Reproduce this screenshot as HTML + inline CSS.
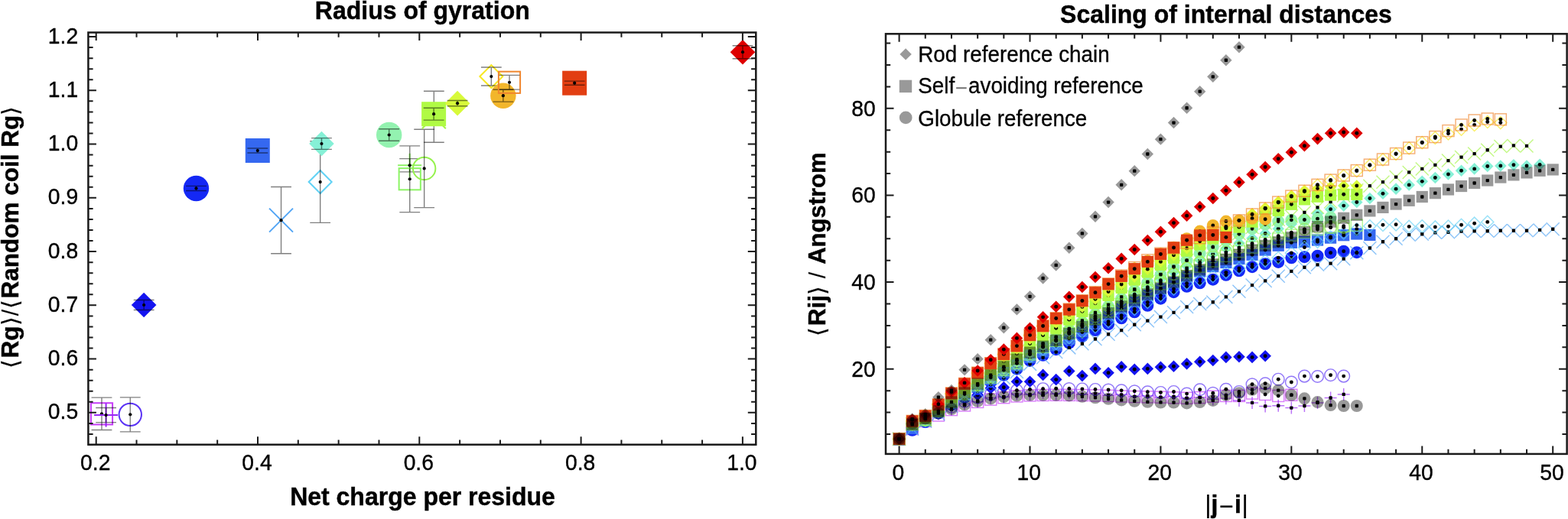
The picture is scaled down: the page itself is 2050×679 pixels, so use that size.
<!DOCTYPE html>
<html lang="en"><head><meta charset="utf-8"><title>Radius of gyration / Scaling of internal distances</title>
<style>
html,body{margin:0;padding:0;background:#fff;}
body{width:2050px;height:679px;overflow:hidden;}
svg{display:block;filter:blur(0.7px);}
text{font-family:"Liberation Sans", Arial, Helvetica, sans-serif;fill:#000;}
.tl{font-size:28.3px;stroke:#000;stroke-width:.35px;}
.bt{font-size:32px;font-weight:bold;stroke:#000;stroke-width:.45px;}
.lg{font-size:27.8px;stroke:#000;stroke-width:.3px;}
.fr{fill:none;stroke:#1a1a1a;stroke-width:2.5;}
.tk{fill:none;stroke:#1a1a1a;stroke-width:2.0;}
.eb{fill:none;stroke:#000;stroke-width:1.4;stroke-opacity:.5;}
.dt{fill:#000;}
.nb{font-weight:normal;stroke-width:.2px;}
.br{letter-spacing:1.2px;font-size:30px;}
</style></head><body>
<svg width="2050" height="679" viewBox="0 0 2050 679">
<rect width="2050" height="679" fill="#fff"/>
<g id="left">
<rect x="118.89" y="527.25" width="28.2" height="28.2" fill="none" stroke="#c53cf8" stroke-width="2.0"/>
<path class="eb" d="M132.99 520.15v42.4M119.59 520.15h26.8M119.59 562.55h26.8"/>
<circle class="dt" cx="132.99" cy="541.35" r="2.1"/>
<path d="M123.09 543.03h31M138.59 527.53v31" fill="none" stroke="#9628f5" stroke-width="2.0"/>
<path class="eb" d="M138.59 533.43v19.2M125.19 533.43h26.8M125.19 552.63h26.8"/>
<circle class="dt" cx="138.59" cy="543.03" r="2.1"/>
<circle cx="170.28" cy="542.33" r="14.7" fill="none" stroke="#5a32f5" stroke-width="2.0"/>
<path class="eb" d="M170.28 519.83v45M156.88 519.83h26.8M156.88 564.83h26.8"/>
<circle class="dt" cx="170.28" cy="542.33" r="2.1"/>
<path d="M171.84 399l16.3 -16.3l16.3 16.3l-16.3 16.3z" fill="#1414f0"/>
<path class="eb" d="M188.14 392.5v13M174.74 392.5h26.8M174.74 405.5h26.8"/>
<circle class="dt" cx="188.14" cy="399" r="2.1"/>
<circle cx="256.49" cy="246.46" r="16.7" fill="#1428f5"/>
<path class="eb" d="M256.49 243.36v6.2M243.09 243.36h26.8M243.09 249.56h26.8"/>
<circle class="dt" cx="256.49" cy="246.46" r="2.1"/>
<rect x="320.79" y="181" width="32" height="32" fill="#3568f0"/>
<path class="eb" d="M336.79 194v6M323.39 194h26.8M323.39 200h26.8"/>
<circle class="dt" cx="336.79" cy="197" r="2.1"/>
<path d="M352.03 272.63l31 31M352.03 303.63l31 -31" fill="none" stroke="#52a5f5" stroke-width="2.0"/>
<path class="eb" d="M367.53 244.53v87.2M354.13 244.53h26.8M354.13 331.73h26.8"/>
<circle class="dt" cx="367.53" cy="288.13" r="2.1"/>
<path d="M403.67 238.03l15 -15l15 15l-15 15z" fill="none" stroke="#62d2f5" stroke-width="2.0"/>
<path class="eb" d="M418.67 184.73v106.6M405.27 184.73h26.8M405.27 291.33h26.8"/>
<circle class="dt" cx="418.67" cy="238.03" r="2.1"/>
<path d="M404.16 188.01l16.3 -16.3l16.3 16.3l-16.3 16.3z" fill="#86f0d6"/>
<path class="eb" d="M420.46 180.61v14.8M407.06 180.61h26.8M407.06 195.41h26.8"/>
<circle class="dt" cx="420.46" cy="188.01" r="2.1"/>
<circle cx="508.68" cy="176.49" r="16.7" fill="#93f2b0"/>
<path class="eb" d="M508.68 168.79v15.4M495.28 168.79h26.8M495.28 184.19h26.8"/>
<circle class="dt" cx="508.68" cy="176.49" r="2.1"/>
<path d="M520.12 216.25h31M535.62 200.75v31" fill="none" stroke="#8ff268" stroke-width="2.0"/>
<path class="eb" d="M535.62 207.65v17.2M522.22 207.65h26.8M522.22 224.85h26.8"/>
<circle class="dt" cx="535.62" cy="216.25" r="2.1"/>
<rect x="521.63" y="220.14" width="28.2" height="28.2" fill="none" stroke="#8cf465" stroke-width="2.0"/>
<path class="eb" d="M535.73 190.84v86.8M522.33 190.84h26.8M522.33 277.64h26.8"/>
<circle class="dt" cx="535.73" cy="234.24" r="2.1"/>
<circle cx="554.64" cy="220.47" r="14.7" fill="none" stroke="#96f24e" stroke-width="2.0"/>
<path class="eb" d="M554.64 169.27v102.4M541.24 169.27h26.8M541.24 271.67h26.8"/>
<circle class="dt" cx="554.64" cy="220.47" r="2.1"/>
<path d="M551.82 137.24l31 31M551.82 168.24l31 -31" fill="none" stroke="#a4f446" stroke-width="2.0"/>
<path class="eb" d="M567.32 119.24v67M553.92 119.24h26.8M553.92 186.24h26.8"/>
<circle class="dt" cx="567.32" cy="152.74" r="2.1"/>
<rect x="551.11" y="133.22" width="32" height="32" fill="#b0fa44"/>
<path class="eb" d="M567.11 141.32v15.8M553.71 141.32h26.8M553.71 157.12h26.8"/>
<circle class="dt" cx="567.11" cy="149.22" r="2.1"/>
<path d="M581.76 135.17l16.3 -16.3l16.3 16.3l-16.3 16.3z" fill="#d8fa3a"/>
<path class="eb" d="M598.06 131.57v7.2M584.66 131.57h26.8M584.66 138.77h26.8"/>
<circle class="dt" cx="598.06" cy="135.17" r="2.1"/>
<path d="M627.33 100.04l15 -15l15 15l-15 15z" fill="none" stroke="#f8e822" stroke-width="2.0"/>
<path class="eb" d="M642.33 88.04v24M628.93 88.04h26.8M628.93 112.04h26.8"/>
<circle class="dt" cx="642.33" cy="100.04" r="2.1"/>
<circle cx="657.86" cy="125.2" r="16.7" fill="#f2b62c"/>
<path class="eb" d="M657.86 117.3v15.8M644.46 117.3h26.8M644.46 133.1h26.8"/>
<circle class="dt" cx="657.86" cy="125.2" r="2.1"/>
<rect x="651.89" y="93.67" width="28.2" height="28.2" fill="none" stroke="#f0862e" stroke-width="2.0"/>
<path class="eb" d="M665.99 98.37v18.8M652.59 98.37h26.8M652.59 117.17h26.8"/>
<circle class="dt" cx="665.99" cy="107.77" r="2.1"/>
<rect x="735.15" y="92.68" width="32" height="32" fill="#e23e12"/>
<path class="eb" d="M751.15 106.08v5.2M737.75 106.08h26.8M737.75 111.28h26.8"/>
<circle class="dt" cx="751.15" cy="108.68" r="2.1"/>
<path d="M954.71 68.21l16.3 -16.3l16.3 16.3l-16.3 16.3z" fill="#de0000"/>
<path class="eb" d="M971.01 59.71v17M957.61 59.71h26.8M957.61 76.71h26.8"/>
<circle class="dt" cx="971.01" cy="68.21" r="2.1"/>
<path class="tk" d="M125.7 581.7v-10.5M125.7 42.5v10.5M337 581.7v-10.5M337 42.5v10.5M548.3 581.7v-10.5M548.3 42.5v10.5M759.6 581.7v-10.5M759.6 42.5v10.5M970.9 581.7v-10.5M970.9 42.5v10.5M178.52 581.7v-6.2M178.52 42.5v6.2M231.35 581.7v-6.2M231.35 42.5v6.2M284.18 581.7v-6.2M284.18 42.5v6.2M389.82 581.7v-6.2M389.82 42.5v6.2M442.65 581.7v-6.2M442.65 42.5v6.2M495.48 581.7v-6.2M495.48 42.5v6.2M601.12 581.7v-6.2M601.12 42.5v6.2M653.95 581.7v-6.2M653.95 42.5v6.2M706.78 581.7v-6.2M706.78 42.5v6.2M812.43 581.7v-6.2M812.43 42.5v6.2M865.25 581.7v-6.2M865.25 42.5v6.2M918.08 581.7v-6.2M918.08 42.5v6.2M115.4 539.87h10.5M988.3 539.87h-10.5M115.4 469.61h10.5M988.3 469.61h-10.5M115.4 399.35h10.5M988.3 399.35h-10.5M115.4 329.09h10.5M988.3 329.09h-10.5M115.4 258.83h10.5M988.3 258.83h-10.5M115.4 188.57h10.5M988.3 188.57h-10.5M115.4 118.31h10.5M988.3 118.31h-10.5M115.4 48.05h10.5M988.3 48.05h-10.5M115.4 582.03h6.2M988.3 582.03h-6.2M115.4 567.97h6.2M988.3 567.97h-6.2M115.4 553.92h6.2M988.3 553.92h-6.2M115.4 525.82h6.2M988.3 525.82h-6.2M115.4 511.77h6.2M988.3 511.77h-6.2M115.4 497.71h6.2M988.3 497.71h-6.2M115.4 483.66h6.2M988.3 483.66h-6.2M115.4 455.56h6.2M988.3 455.56h-6.2M115.4 441.51h6.2M988.3 441.51h-6.2M115.4 427.45h6.2M988.3 427.45h-6.2M115.4 413.4h6.2M988.3 413.4h-6.2M115.4 385.3h6.2M988.3 385.3h-6.2M115.4 371.25h6.2M988.3 371.25h-6.2M115.4 357.19h6.2M988.3 357.19h-6.2M115.4 343.14h6.2M988.3 343.14h-6.2M115.4 315.04h6.2M988.3 315.04h-6.2M115.4 300.99h6.2M988.3 300.99h-6.2M115.4 286.93h6.2M988.3 286.93h-6.2M115.4 272.88h6.2M988.3 272.88h-6.2M115.4 244.78h6.2M988.3 244.78h-6.2M115.4 230.73h6.2M988.3 230.73h-6.2M115.4 216.67h6.2M988.3 216.67h-6.2M115.4 202.62h6.2M988.3 202.62h-6.2M115.4 174.52h6.2M988.3 174.52h-6.2M115.4 160.47h6.2M988.3 160.47h-6.2M115.4 146.41h6.2M988.3 146.41h-6.2M115.4 132.36h6.2M988.3 132.36h-6.2M115.4 104.26h6.2M988.3 104.26h-6.2M115.4 90.21h6.2M988.3 90.21h-6.2M115.4 76.15h6.2M988.3 76.15h-6.2M115.4 62.1h6.2M988.3 62.1h-6.2"/>
<rect class="fr" x="115.4" y="42.5" width="872.9" height="539.2"/>
<text class="tl" transform="translate(124.7 615.3) scale(1 1.05)" text-anchor="middle">0.2</text>
<text class="tl" transform="translate(336 615.3) scale(1 1.05)" text-anchor="middle">0.4</text>
<text class="tl" transform="translate(547.3 615.3) scale(1 1.05)" text-anchor="middle">0.6</text>
<text class="tl" transform="translate(758.6 615.3) scale(1 1.05)" text-anchor="middle">0.8</text>
<text class="tl" transform="translate(969.9 615.3) scale(1 1.05)" text-anchor="middle">1.0</text>
<text class="tl" transform="translate(102.2 548.47) scale(1 1.05)" text-anchor="end">0.5</text>
<text class="tl" transform="translate(102.2 478.21) scale(1 1.05)" text-anchor="end">0.6</text>
<text class="tl" transform="translate(102.2 407.95) scale(1 1.05)" text-anchor="end">0.7</text>
<text class="tl" transform="translate(102.2 337.69) scale(1 1.05)" text-anchor="end">0.8</text>
<text class="tl" transform="translate(102.2 267.43) scale(1 1.05)" text-anchor="end">0.9</text>
<text class="tl" transform="translate(102.2 197.17) scale(1 1.05)" text-anchor="end">1.0</text>
<text class="tl" transform="translate(102.2 126.91) scale(1 1.05)" text-anchor="end">1.1</text>
<text class="tl" transform="translate(102.2 56.65) scale(1 1.05)" text-anchor="end">1.2</text>
<text class="bt" transform="translate(552.3 24.8) scale(1 1.06)" text-anchor="middle">Radius of gyration</text>
<text class="bt" transform="translate(552.5 661.4) scale(1 1.06)" text-anchor="middle">Net charge per residue</text>
<text class="bt" style="font-size:31.5px" transform="translate(23.6 309.6) rotate(-90)" text-anchor="middle"><tspan class="nb br">⟨</tspan>Rg<tspan class="nb br">⟩/⟨</tspan>Random coil Rg<tspan class="nb br">⟩</tspan></text>
</g>
<g id="right">
<g><rect x="1168.1" y="566.7" width="15" height="15" fill="none" stroke="#c53cf8" stroke-width="1.45" opacity="0.66"/><circle class="dt" cx="1175.6" cy="574.2" r="2.45"/><rect x="1185.19" y="553.63" width="15" height="15" fill="none" stroke="#c53cf8" stroke-width="1.45" opacity="0.66"/><circle class="dt" cx="1192.69" cy="561.13" r="2.45"/><rect x="1202.28" y="543.4" width="15" height="15" fill="none" stroke="#c53cf8" stroke-width="1.45" opacity="0.66"/><circle class="dt" cx="1209.78" cy="550.9" r="2.45"/><rect x="1219.38" y="536.02" width="15" height="15" fill="none" stroke="#c53cf8" stroke-width="1.45" opacity="0.66"/><circle class="dt" cx="1226.88" cy="543.52" r="2.45"/><rect x="1236.47" y="528.63" width="15" height="15" fill="none" stroke="#c53cf8" stroke-width="1.45" opacity="0.66"/><circle class="dt" cx="1243.97" cy="536.13" r="2.45"/><rect x="1253.56" y="522.95" width="15" height="15" fill="none" stroke="#c53cf8" stroke-width="1.45" opacity="0.66"/><circle class="dt" cx="1261.06" cy="530.45" r="2.45"/><rect x="1270.65" y="518.41" width="15" height="15" fill="none" stroke="#c53cf8" stroke-width="1.45" opacity="0.66"/><circle class="dt" cx="1278.15" cy="525.91" r="2.45"/><rect x="1287.74" y="515.14" width="15" height="15" fill="none" stroke="#c53cf8" stroke-width="1.45" opacity="0.66"/><circle class="dt" cx="1295.24" cy="522.64" r="2.45"/><rect x="1304.84" y="512.72" width="15" height="15" fill="none" stroke="#c53cf8" stroke-width="1.45" opacity="0.66"/><circle class="dt" cx="1312.34" cy="520.22" r="2.45"/><rect x="1321.93" y="510.95" width="15" height="15" fill="none" stroke="#c53cf8" stroke-width="1.45" opacity="0.66"/><circle class="dt" cx="1329.43" cy="518.45" r="2.45"/><rect x="1339.02" y="509.88" width="15" height="15" fill="none" stroke="#c53cf8" stroke-width="1.45" opacity="0.66"/><circle class="dt" cx="1346.52" cy="517.38" r="2.45"/><rect x="1356.11" y="509.48" width="15" height="15" fill="none" stroke="#c53cf8" stroke-width="1.45" opacity="0.66"/><circle class="dt" cx="1363.61" cy="516.98" r="2.45"/><rect x="1373.2" y="509.31" width="15" height="15" fill="none" stroke="#c53cf8" stroke-width="1.45" opacity="0.66"/><circle class="dt" cx="1380.7" cy="516.81" r="2.45"/><rect x="1390.3" y="509.4" width="15" height="15" fill="none" stroke="#c53cf8" stroke-width="1.45" opacity="0.66"/><circle class="dt" cx="1397.8" cy="516.9" r="2.45"/><rect x="1407.39" y="509.61" width="15" height="15" fill="none" stroke="#c53cf8" stroke-width="1.45" opacity="0.66"/><circle class="dt" cx="1414.89" cy="517.11" r="2.45"/><rect x="1424.48" y="509.88" width="15" height="15" fill="none" stroke="#c53cf8" stroke-width="1.45" opacity="0.66"/><circle class="dt" cx="1431.98" cy="517.38" r="2.45"/><rect x="1441.57" y="510.37" width="15" height="15" fill="none" stroke="#c53cf8" stroke-width="1.45" opacity="0.66"/><circle class="dt" cx="1449.07" cy="517.87" r="2.45"/><rect x="1458.66" y="511.04" width="15" height="15" fill="none" stroke="#c53cf8" stroke-width="1.45" opacity="0.66"/><circle class="dt" cx="1466.16" cy="518.54" r="2.45"/><rect x="1475.76" y="511.59" width="15" height="15" fill="none" stroke="#c53cf8" stroke-width="1.45" opacity="0.66"/><circle class="dt" cx="1483.26" cy="519.09" r="2.45"/><rect x="1492.85" y="511.87" width="15" height="15" fill="none" stroke="#c53cf8" stroke-width="1.45" opacity="0.66"/><circle class="dt" cx="1500.35" cy="519.37" r="2.45"/><rect x="1509.94" y="512.16" width="15" height="15" fill="none" stroke="#c53cf8" stroke-width="1.45" opacity="0.66"/><circle class="dt" cx="1517.44" cy="519.66" r="2.45"/><rect x="1527.03" y="512.82" width="15" height="15" fill="none" stroke="#c53cf8" stroke-width="1.45" opacity="0.66"/><circle class="dt" cx="1534.53" cy="520.32" r="2.45"/><rect x="1544.12" y="513.29" width="15" height="15" fill="none" stroke="#c53cf8" stroke-width="1.45" opacity="0.66"/><circle class="dt" cx="1551.62" cy="520.79" r="2.45"/><rect x="1561.22" y="512.56" width="15" height="15" fill="none" stroke="#c53cf8" stroke-width="1.45" opacity="0.66"/><circle class="dt" cx="1568.72" cy="520.06" r="2.45"/><rect x="1578.31" y="511.19" width="15" height="15" fill="none" stroke="#c53cf8" stroke-width="1.45" opacity="0.66"/><circle class="dt" cx="1585.81" cy="518.69" r="2.45"/><rect x="1595.4" y="510.45" width="15" height="15" fill="none" stroke="#c53cf8" stroke-width="1.45" opacity="0.66"/><circle class="dt" cx="1602.9" cy="517.95" r="2.45"/><rect x="1612.49" y="510.45" width="15" height="15" fill="none" stroke="#c53cf8" stroke-width="1.45" opacity="0.66"/><circle class="dt" cx="1619.99" cy="517.95" r="2.45"/><rect x="1629.58" y="507.04" width="15" height="15" fill="none" stroke="#c53cf8" stroke-width="1.45" opacity="0.66"/><circle class="dt" cx="1637.08" cy="514.54" r="2.45"/><rect x="1646.68" y="508.46" width="15" height="15" fill="none" stroke="#c53cf8" stroke-width="1.45" opacity="0.66"/><circle class="dt" cx="1654.18" cy="515.96" r="2.45"/><rect x="1663.77" y="510.45" width="15" height="15" fill="none" stroke="#c53cf8" stroke-width="1.45" opacity="0.66"/><circle class="dt" cx="1671.27" cy="517.95" r="2.45"/><rect x="1680.86" y="509.31" width="15" height="15" fill="none" stroke="#c53cf8" stroke-width="1.45" opacity="0.66"/><circle class="dt" cx="1688.36" cy="516.81" r="2.45"/></g>
<g><path d="M1167.6 574.2h16M1175.6 566.2v16" fill="none" stroke="#9628f5" stroke-width="1.45" opacity="0.66"/><rect class="dt" x="1173.45" y="572.05" width="4.3" height="4.3" rx="0.9"/><path d="M1184.69 559.71h16M1192.69 551.71v16" fill="none" stroke="#9628f5" stroke-width="1.45" opacity="0.66"/><rect class="dt" x="1190.54" y="557.56" width="4.3" height="4.3" rx="0.9"/><path d="M1201.78 551.19h16M1209.78 543.19v16" fill="none" stroke="#9628f5" stroke-width="1.45" opacity="0.66"/><rect class="dt" x="1207.63" y="549.04" width="4.3" height="4.3" rx="0.9"/><path d="M1218.88 541.53h16M1226.88 533.53v16" fill="none" stroke="#9628f5" stroke-width="1.45" opacity="0.66"/><rect class="dt" x="1224.73" y="539.38" width="4.3" height="4.3" rx="0.9"/><path d="M1235.97 535.85h16M1243.97 527.85v16" fill="none" stroke="#9628f5" stroke-width="1.45" opacity="0.66"/><rect class="dt" x="1241.82" y="533.7" width="4.3" height="4.3" rx="0.9"/><path d="M1253.06 528.46h16M1261.06 520.46v16" fill="none" stroke="#9628f5" stroke-width="1.45" opacity="0.66"/><rect class="dt" x="1258.91" y="526.31" width="4.3" height="4.3" rx="0.9"/><path d="M1270.15 525.62h16M1278.15 517.62v16" fill="none" stroke="#9628f5" stroke-width="1.45" opacity="0.66"/><rect class="dt" x="1276" y="523.47" width="4.3" height="4.3" rx="0.9"/><path d="M1287.24 520.4h16M1295.24 512.4v16" fill="none" stroke="#9628f5" stroke-width="1.45" opacity="0.66"/><rect class="dt" x="1293.09" y="518.25" width="4.3" height="4.3" rx="0.9"/><path d="M1304.34 519.37h16M1312.34 511.37v16" fill="none" stroke="#9628f5" stroke-width="1.45" opacity="0.66"/><rect class="dt" x="1310.19" y="517.22" width="4.3" height="4.3" rx="0.9"/><path d="M1321.43 515.53h16M1329.43 507.53v16" fill="none" stroke="#9628f5" stroke-width="1.45" opacity="0.66"/><rect class="dt" x="1327.28" y="513.38" width="4.3" height="4.3" rx="0.9"/><path d="M1338.52 515.96h16M1346.52 507.96v16" fill="none" stroke="#9628f5" stroke-width="1.45" opacity="0.66"/><rect class="dt" x="1344.37" y="513.81" width="4.3" height="4.3" rx="0.9"/><path d="M1355.61 513.85h16M1363.61 505.85v16" fill="none" stroke="#9628f5" stroke-width="1.45" opacity="0.66"/><rect class="dt" x="1361.46" y="511.7" width="4.3" height="4.3" rx="0.9"/><path d="M1372.7 515.39h16M1380.7 507.39v16" fill="none" stroke="#9628f5" stroke-width="1.45" opacity="0.66"/><rect class="dt" x="1378.55" y="513.24" width="4.3" height="4.3" rx="0.9"/><path d="M1389.8 513.87h16M1397.8 505.87v16" fill="none" stroke="#9628f5" stroke-width="1.45" opacity="0.66"/><rect class="dt" x="1395.65" y="511.72" width="4.3" height="4.3" rx="0.9"/><path d="M1406.89 516.01h16M1414.89 508.01v16" fill="none" stroke="#9628f5" stroke-width="1.45" opacity="0.66"/><rect class="dt" x="1412.74" y="513.86" width="4.3" height="4.3" rx="0.9"/><path d="M1423.98 514.83h16M1431.98 506.83v16" fill="none" stroke="#9628f5" stroke-width="1.45" opacity="0.66"/><rect class="dt" x="1429.83" y="512.68" width="4.3" height="4.3" rx="0.9"/><path d="M1441.07 517.2h16M1449.07 509.2v16" fill="none" stroke="#9628f5" stroke-width="1.45" opacity="0.66"/><rect class="dt" x="1446.92" y="515.05" width="4.3" height="4.3" rx="0.9"/><path d="M1458.16 516.34h16M1466.16 508.34v16" fill="none" stroke="#9628f5" stroke-width="1.45" opacity="0.66"/><rect class="dt" x="1464.01" y="514.19" width="4.3" height="4.3" rx="0.9"/><path d="M1475.26 518.8h16M1483.26 510.8v16" fill="none" stroke="#9628f5" stroke-width="1.45" opacity="0.66"/><rect class="dt" x="1481.11" y="516.65" width="4.3" height="4.3" rx="0.9"/><path d="M1492.35 517.69h16M1500.35 509.69v16" fill="none" stroke="#9628f5" stroke-width="1.45" opacity="0.66"/><rect class="dt" x="1498.2" y="515.54" width="4.3" height="4.3" rx="0.9"/><path d="M1509.44 519.94h16M1517.44 511.94v16" fill="none" stroke="#9628f5" stroke-width="1.45" opacity="0.66"/><rect class="dt" x="1515.29" y="517.79" width="4.3" height="4.3" rx="0.9"/><path d="M1526.53 518.8h16M1534.53 510.8v16" fill="none" stroke="#9628f5" stroke-width="1.45" opacity="0.66"/><rect class="dt" x="1532.38" y="516.65" width="4.3" height="4.3" rx="0.9"/><path d="M1543.62 521.08h16M1551.62 513.08v16" fill="none" stroke="#9628f5" stroke-width="1.45" opacity="0.66"/><rect class="dt" x="1549.47" y="518.93" width="4.3" height="4.3" rx="0.9"/><path d="M1560.72 519.91h16M1568.72 511.91v16" fill="none" stroke="#9628f5" stroke-width="1.45" opacity="0.66"/><rect class="dt" x="1566.57" y="517.76" width="4.3" height="4.3" rx="0.9"/><path d="M1577.81 522.21h16M1585.81 514.21v16" fill="none" stroke="#9628f5" stroke-width="1.45" opacity="0.66"/><rect class="dt" x="1583.66" y="520.06" width="4.3" height="4.3" rx="0.9"/><path d="M1594.9 521.14h16M1602.9 513.14v16" fill="none" stroke="#9628f5" stroke-width="1.45" opacity="0.66"/><rect class="dt" x="1600.75" y="518.99" width="4.3" height="4.3" rx="0.9"/><path d="M1611.99 523.92h16M1619.99 515.92v16" fill="none" stroke="#9628f5" stroke-width="1.45" opacity="0.66"/><rect class="dt" x="1617.84" y="521.77" width="4.3" height="4.3" rx="0.9"/><path d="M1629.08 526.93h16M1637.08 518.93v16" fill="none" stroke="#9628f5" stroke-width="1.45" opacity="0.66"/><rect class="dt" x="1634.93" y="524.78" width="4.3" height="4.3" rx="0.9"/><path d="M1646.18 531.47h16M1654.18 523.47v16" fill="none" stroke="#9628f5" stroke-width="1.45" opacity="0.66"/><rect class="dt" x="1652.03" y="529.32" width="4.3" height="4.3" rx="0.9"/><path d="M1663.27 530.73h16M1671.27 522.73v16" fill="none" stroke="#9628f5" stroke-width="1.45" opacity="0.66"/><rect class="dt" x="1669.12" y="528.58" width="4.3" height="4.3" rx="0.9"/><path d="M1680.36 533.58h16M1688.36 525.58v16" fill="none" stroke="#9628f5" stroke-width="1.45" opacity="0.66"/><rect class="dt" x="1686.21" y="531.43" width="4.3" height="4.3" rx="0.9"/><path d="M1697.45 531.02h16M1705.45 523.02v16" fill="none" stroke="#9628f5" stroke-width="1.45" opacity="0.66"/><rect class="dt" x="1703.3" y="528.87" width="4.3" height="4.3" rx="0.9"/><path d="M1714.54 526.93h16M1722.54 518.93v16" fill="none" stroke="#9628f5" stroke-width="1.45" opacity="0.66"/><rect class="dt" x="1720.39" y="524.78" width="4.3" height="4.3" rx="0.9"/><path d="M1731.64 520.51h16M1739.64 512.51v16" fill="none" stroke="#9628f5" stroke-width="1.45" opacity="0.66"/><rect class="dt" x="1737.49" y="518.36" width="4.3" height="4.3" rx="0.9"/><path d="M1748.73 515.96h16M1756.73 507.96v16" fill="none" stroke="#9628f5" stroke-width="1.45" opacity="0.66"/><rect class="dt" x="1754.58" y="513.81" width="4.3" height="4.3" rx="0.9"/></g>
<g><circle cx="1175.6" cy="574.2" r="7.8" fill="none" stroke="#5a32f5" stroke-width="1.45" opacity="0.66"/><circle class="dt" cx="1175.6" cy="574.2" r="2.45"/><circle cx="1192.69" cy="559.43" r="7.8" fill="none" stroke="#5a32f5" stroke-width="1.45" opacity="0.66"/><circle class="dt" cx="1192.69" cy="559.43" r="2.45"/><circle cx="1209.78" cy="549.2" r="7.8" fill="none" stroke="#5a32f5" stroke-width="1.45" opacity="0.66"/><circle class="dt" cx="1209.78" cy="549.2" r="2.45"/><circle cx="1226.88" cy="540.11" r="7.8" fill="none" stroke="#5a32f5" stroke-width="1.45" opacity="0.66"/><circle class="dt" cx="1226.88" cy="540.11" r="2.45"/><circle cx="1243.97" cy="532.16" r="7.8" fill="none" stroke="#5a32f5" stroke-width="1.45" opacity="0.66"/><circle class="dt" cx="1243.97" cy="532.16" r="2.45"/><circle cx="1261.06" cy="525.34" r="7.8" fill="none" stroke="#5a32f5" stroke-width="1.45" opacity="0.66"/><circle class="dt" cx="1261.06" cy="525.34" r="2.45"/><circle cx="1278.15" cy="520.22" r="7.8" fill="none" stroke="#5a32f5" stroke-width="1.45" opacity="0.66"/><circle class="dt" cx="1278.15" cy="520.22" r="2.45"/><circle cx="1295.24" cy="516.02" r="7.8" fill="none" stroke="#5a32f5" stroke-width="1.45" opacity="0.66"/><circle class="dt" cx="1295.24" cy="516.02" r="2.45"/><circle cx="1312.34" cy="512.84" r="7.8" fill="none" stroke="#5a32f5" stroke-width="1.45" opacity="0.66"/><circle class="dt" cx="1312.34" cy="512.84" r="2.45"/><circle cx="1329.43" cy="510.76" r="7.8" fill="none" stroke="#5a32f5" stroke-width="1.45" opacity="0.66"/><circle class="dt" cx="1329.43" cy="510.76" r="2.45"/><circle cx="1346.52" cy="509.43" r="7.8" fill="none" stroke="#5a32f5" stroke-width="1.45" opacity="0.66"/><circle class="dt" cx="1346.52" cy="509.43" r="2.45"/><circle cx="1363.61" cy="508.65" r="7.8" fill="none" stroke="#5a32f5" stroke-width="1.45" opacity="0.66"/><circle class="dt" cx="1363.61" cy="508.65" r="2.45"/><circle cx="1380.7" cy="508.29" r="7.8" fill="none" stroke="#5a32f5" stroke-width="1.45" opacity="0.66"/><circle class="dt" cx="1380.7" cy="508.29" r="2.45"/><circle cx="1397.8" cy="508.47" r="7.8" fill="none" stroke="#5a32f5" stroke-width="1.45" opacity="0.66"/><circle class="dt" cx="1397.8" cy="508.47" r="2.45"/><circle cx="1414.89" cy="508.91" r="7.8" fill="none" stroke="#5a32f5" stroke-width="1.45" opacity="0.66"/><circle class="dt" cx="1414.89" cy="508.91" r="2.45"/><circle cx="1431.98" cy="509.43" r="7.8" fill="none" stroke="#5a32f5" stroke-width="1.45" opacity="0.66"/><circle class="dt" cx="1431.98" cy="509.43" r="2.45"/><circle cx="1449.07" cy="510.06" r="7.8" fill="none" stroke="#5a32f5" stroke-width="1.45" opacity="0.66"/><circle class="dt" cx="1449.07" cy="510.06" r="2.45"/><circle cx="1466.16" cy="510.87" r="7.8" fill="none" stroke="#5a32f5" stroke-width="1.45" opacity="0.66"/><circle class="dt" cx="1466.16" cy="510.87" r="2.45"/><circle cx="1483.26" cy="511.7" r="7.8" fill="none" stroke="#5a32f5" stroke-width="1.45" opacity="0.66"/><circle class="dt" cx="1483.26" cy="511.7" r="2.45"/><circle cx="1500.35" cy="512.75" r="7.8" fill="none" stroke="#5a32f5" stroke-width="1.45" opacity="0.66"/><circle class="dt" cx="1500.35" cy="512.75" r="2.45"/><circle cx="1517.44" cy="513.41" r="7.8" fill="none" stroke="#5a32f5" stroke-width="1.45" opacity="0.66"/><circle class="dt" cx="1517.44" cy="513.41" r="2.45"/><circle cx="1534.53" cy="512.44" r="7.8" fill="none" stroke="#5a32f5" stroke-width="1.45" opacity="0.66"/><circle class="dt" cx="1534.53" cy="512.44" r="2.45"/><circle cx="1551.62" cy="515.11" r="7.8" fill="none" stroke="#5a32f5" stroke-width="1.45" opacity="0.66"/><circle class="dt" cx="1551.62" cy="515.11" r="2.45"/><circle cx="1568.72" cy="509.77" r="7.8" fill="none" stroke="#5a32f5" stroke-width="1.45" opacity="0.66"/><circle class="dt" cx="1568.72" cy="509.77" r="2.45"/><circle cx="1585.81" cy="514.2" r="7.8" fill="none" stroke="#5a32f5" stroke-width="1.45" opacity="0.66"/><circle class="dt" cx="1585.81" cy="514.2" r="2.45"/><circle cx="1602.9" cy="509.26" r="7.8" fill="none" stroke="#5a32f5" stroke-width="1.45" opacity="0.66"/><circle class="dt" cx="1602.9" cy="509.26" r="2.45"/><circle cx="1619.99" cy="512.44" r="7.8" fill="none" stroke="#5a32f5" stroke-width="1.45" opacity="0.66"/><circle class="dt" cx="1619.99" cy="512.44" r="2.45"/><circle cx="1637.08" cy="502.72" r="7.8" fill="none" stroke="#5a32f5" stroke-width="1.45" opacity="0.66"/><circle class="dt" cx="1637.08" cy="502.72" r="2.45"/><circle cx="1654.18" cy="501.82" r="7.8" fill="none" stroke="#5a32f5" stroke-width="1.45" opacity="0.66"/><circle class="dt" cx="1654.18" cy="501.82" r="2.45"/><circle cx="1671.27" cy="496.19" r="7.8" fill="none" stroke="#5a32f5" stroke-width="1.45" opacity="0.66"/><circle class="dt" cx="1671.27" cy="496.19" r="2.45"/><circle cx="1688.36" cy="500.05" r="7.8" fill="none" stroke="#5a32f5" stroke-width="1.45" opacity="0.66"/><circle class="dt" cx="1688.36" cy="500.05" r="2.45"/><circle cx="1705.45" cy="492.1" r="7.8" fill="none" stroke="#5a32f5" stroke-width="1.45" opacity="0.66"/><circle class="dt" cx="1705.45" cy="492.1" r="2.45"/><circle cx="1722.54" cy="492.5" r="7.8" fill="none" stroke="#5a32f5" stroke-width="1.45" opacity="0.66"/><circle class="dt" cx="1722.54" cy="492.5" r="2.45"/><circle cx="1739.64" cy="490.68" r="7.8" fill="none" stroke="#5a32f5" stroke-width="1.45" opacity="0.66"/><circle class="dt" cx="1739.64" cy="490.68" r="2.45"/><circle cx="1756.73" cy="492.1" r="7.8" fill="none" stroke="#5a32f5" stroke-width="1.45" opacity="0.66"/><circle class="dt" cx="1756.73" cy="492.1" r="2.45"/></g>
<g><path d="M1167.8 574.2l7.8 -7.8l7.8 7.8l-7.8 7.8z" fill="#1414f0"/><circle class="dt" cx="1175.6" cy="574.2" r="2.45"/><path d="M1184.89 560.56l7.8 -7.8l7.8 7.8l-7.8 7.8z" fill="#1414f0"/><circle class="dt" cx="1192.69" cy="560.56" r="2.45"/><path d="M1201.98 549.77l7.8 -7.8l7.8 7.8l-7.8 7.8z" fill="#1414f0"/><circle class="dt" cx="1209.78" cy="549.77" r="2.45"/><path d="M1219.08 537.84l7.8 -7.8l7.8 7.8l-7.8 7.8z" fill="#1414f0"/><circle class="dt" cx="1226.88" cy="537.84" r="2.45"/><path d="M1236.17 530.45l7.8 -7.8l7.8 7.8l-7.8 7.8z" fill="#1414f0"/><circle class="dt" cx="1243.97" cy="530.45" r="2.45"/><path d="M1253.26 520.22l7.8 -7.8l7.8 7.8l-7.8 7.8z" fill="#1414f0"/><circle class="dt" cx="1261.06" cy="520.22" r="2.45"/><path d="M1270.35 516.81l7.8 -7.8l7.8 7.8l-7.8 7.8z" fill="#1414f0"/><circle class="dt" cx="1278.15" cy="516.81" r="2.45"/><path d="M1287.44 507.72l7.8 -7.8l7.8 7.8l-7.8 7.8z" fill="#1414f0"/><circle class="dt" cx="1295.24" cy="507.72" r="2.45"/><path d="M1304.54 506.81l7.8 -7.8l7.8 7.8l-7.8 7.8z" fill="#1414f0"/><circle class="dt" cx="1312.34" cy="506.81" r="2.45"/><path d="M1321.63 499.2l7.8 -7.8l7.8 7.8l-7.8 7.8z" fill="#1414f0"/><circle class="dt" cx="1329.43" cy="499.2" r="2.45"/><path d="M1338.72 499.2l7.8 -7.8l7.8 7.8l-7.8 7.8z" fill="#1414f0"/><circle class="dt" cx="1346.52" cy="499.2" r="2.45"/><path d="M1355.81 490.39l7.8 -7.8l7.8 7.8l-7.8 7.8z" fill="#1414f0"/><circle class="dt" cx="1363.61" cy="490.39" r="2.45"/><path d="M1372.9 496.59l7.8 -7.8l7.8 7.8l-7.8 7.8z" fill="#1414f0"/><circle class="dt" cx="1380.7" cy="496.59" r="2.45"/><path d="M1390 485.57l7.8 -7.8l7.8 7.8l-7.8 7.8z" fill="#1414f0"/><circle class="dt" cx="1397.8" cy="485.57" r="2.45"/><path d="M1407.09 491.59l7.8 -7.8l7.8 7.8l-7.8 7.8z" fill="#1414f0"/><circle class="dt" cx="1414.89" cy="491.59" r="2.45"/><path d="M1424.18 482.38l7.8 -7.8l7.8 7.8l-7.8 7.8z" fill="#1414f0"/><circle class="dt" cx="1431.98" cy="482.38" r="2.45"/><path d="M1441.27 487.72l7.8 -7.8l7.8 7.8l-7.8 7.8z" fill="#1414f0"/><circle class="dt" cx="1449.07" cy="487.72" r="2.45"/><path d="M1458.36 479.88l7.8 -7.8l7.8 7.8l-7.8 7.8z" fill="#1414f0"/><circle class="dt" cx="1466.16" cy="479.88" r="2.45"/><path d="M1475.46 483.29l7.8 -7.8l7.8 7.8l-7.8 7.8z" fill="#1414f0"/><circle class="dt" cx="1483.26" cy="483.29" r="2.45"/><path d="M1492.55 482.38l7.8 -7.8l7.8 7.8l-7.8 7.8z" fill="#1414f0"/><circle class="dt" cx="1500.35" cy="482.38" r="2.45"/><path d="M1509.64 480.28l7.8 -7.8l7.8 7.8l-7.8 7.8z" fill="#1414f0"/><circle class="dt" cx="1517.44" cy="480.28" r="2.45"/><path d="M1526.73 479.32l7.8 -7.8l7.8 7.8l-7.8 7.8z" fill="#1414f0"/><circle class="dt" cx="1534.53" cy="479.32" r="2.45"/><path d="M1543.82 475.91l7.8 -7.8l7.8 7.8l-7.8 7.8z" fill="#1414f0"/><circle class="dt" cx="1551.62" cy="475.91" r="2.45"/><path d="M1560.92 473.24l7.8 -7.8l7.8 7.8l-7.8 7.8z" fill="#1414f0"/><circle class="dt" cx="1568.72" cy="473.24" r="2.45"/><path d="M1578.01 471.47l7.8 -7.8l7.8 7.8l-7.8 7.8z" fill="#1414f0"/><circle class="dt" cx="1585.81" cy="471.47" r="2.45"/><path d="M1595.1 467.38l7.8 -7.8l7.8 7.8l-7.8 7.8z" fill="#1414f0"/><circle class="dt" cx="1602.9" cy="467.38" r="2.45"/><path d="M1612.19 466.82l7.8 -7.8l7.8 7.8l-7.8 7.8z" fill="#1414f0"/><circle class="dt" cx="1619.99" cy="466.82" r="2.45"/><path d="M1629.28 467.38l7.8 -7.8l7.8 7.8l-7.8 7.8z" fill="#1414f0"/><circle class="dt" cx="1637.08" cy="467.38" r="2.45"/><path d="M1646.38 465.68l7.8 -7.8l7.8 7.8l-7.8 7.8z" fill="#1414f0"/><circle class="dt" cx="1654.18" cy="465.68" r="2.45"/></g>
<g><circle cx="1175.6" cy="574.2" r="8" fill="#1428f5"/><circle class="dt" cx="1175.6" cy="574.2" r="2.45"/><circle cx="1192.69" cy="562.84" r="8" fill="#1428f5"/><circle class="dt" cx="1192.69" cy="562.84" r="2.45"/><circle cx="1209.78" cy="552.04" r="8" fill="#1428f5"/><circle class="dt" cx="1209.78" cy="552.04" r="2.45"/><circle cx="1226.88" cy="540.39" r="8" fill="#1428f5"/><circle class="dt" cx="1226.88" cy="540.39" r="2.45"/><circle cx="1243.97" cy="529.27" r="8" fill="#1428f5"/><circle class="dt" cx="1243.97" cy="529.27" r="2.45"/><circle cx="1261.06" cy="519.86" r="8" fill="#1428f5"/><circle class="dt" cx="1261.06" cy="519.86" r="2.45"/><circle cx="1278.15" cy="509.16" r="8" fill="#1428f5"/><circle class="dt" cx="1278.15" cy="509.16" r="2.45"/><circle cx="1295.24" cy="499.74" r="8" fill="#1428f5"/><circle class="dt" cx="1295.24" cy="499.74" r="2.45"/><circle cx="1312.34" cy="490.76" r="8" fill="#1428f5"/><circle class="dt" cx="1312.34" cy="490.76" r="2.45"/><circle cx="1329.43" cy="482.63" r="8" fill="#1428f5"/><circle class="dt" cx="1329.43" cy="482.63" r="2.45"/><circle cx="1346.52" cy="471.93" r="8" fill="#1428f5"/><circle class="dt" cx="1346.52" cy="471.93" r="2.45"/><circle cx="1363.61" cy="464.82" r="8" fill="#1428f5"/><circle class="dt" cx="1363.61" cy="464.82" r="2.45"/><circle cx="1380.7" cy="457.16" r="8" fill="#1428f5"/><circle class="dt" cx="1380.7" cy="457.16" r="2.45"/><circle cx="1397.8" cy="448.71" r="8" fill="#1428f5"/><circle class="dt" cx="1397.8" cy="448.71" r="2.45"/><circle cx="1414.89" cy="440.11" r="8" fill="#1428f5"/><circle class="dt" cx="1414.89" cy="440.11" r="2.45"/><circle cx="1431.98" cy="432.09" r="8" fill="#1428f5"/><circle class="dt" cx="1431.98" cy="432.09" r="2.45"/><circle cx="1449.07" cy="424.2" r="8" fill="#1428f5"/><circle class="dt" cx="1449.07" cy="424.2" r="2.45"/><circle cx="1466.16" cy="416.25" r="8" fill="#1428f5"/><circle class="dt" cx="1466.16" cy="416.25" r="2.45"/><circle cx="1483.26" cy="408.29" r="8" fill="#1428f5"/><circle class="dt" cx="1483.26" cy="408.29" r="2.45"/><circle cx="1500.35" cy="399.77" r="8" fill="#1428f5"/><circle class="dt" cx="1500.35" cy="399.77" r="2.45"/><circle cx="1517.44" cy="390.68" r="8" fill="#1428f5"/><circle class="dt" cx="1517.44" cy="390.68" r="2.45"/><circle cx="1534.53" cy="382.16" r="8" fill="#1428f5"/><circle class="dt" cx="1534.53" cy="382.16" r="2.45"/><circle cx="1551.62" cy="374.77" r="8" fill="#1428f5"/><circle class="dt" cx="1551.62" cy="374.77" r="2.45"/><circle cx="1568.72" cy="370.23" r="8" fill="#1428f5"/><circle class="dt" cx="1568.72" cy="370.23" r="2.45"/><circle cx="1585.81" cy="365.68" r="8" fill="#1428f5"/><circle class="dt" cx="1585.81" cy="365.68" r="2.45"/><circle cx="1602.9" cy="359.72" r="8" fill="#1428f5"/><circle class="dt" cx="1602.9" cy="359.72" r="2.45"/><circle cx="1619.99" cy="354.32" r="8" fill="#1428f5"/><circle class="dt" cx="1619.99" cy="354.32" r="2.45"/><circle cx="1637.08" cy="349.2" r="8" fill="#1428f5"/><circle class="dt" cx="1637.08" cy="349.2" r="2.45"/><circle cx="1654.18" cy="345.23" r="8" fill="#1428f5"/><circle class="dt" cx="1654.18" cy="345.23" r="2.45"/><circle cx="1671.27" cy="342.95" r="8" fill="#1428f5"/><circle class="dt" cx="1671.27" cy="342.95" r="2.45"/><circle cx="1688.36" cy="337.27" r="8" fill="#1428f5"/><circle class="dt" cx="1688.36" cy="337.27" r="2.45"/><circle cx="1705.45" cy="336.14" r="8" fill="#1428f5"/><circle class="dt" cx="1705.45" cy="336.14" r="2.45"/><circle cx="1722.54" cy="334.72" r="8" fill="#1428f5"/><circle class="dt" cx="1722.54" cy="334.72" r="2.45"/><circle cx="1739.64" cy="330.74" r="8" fill="#1428f5"/><circle class="dt" cx="1739.64" cy="330.74" r="2.45"/><circle cx="1756.73" cy="328.75" r="8" fill="#1428f5"/><circle class="dt" cx="1756.73" cy="328.75" r="2.45"/><circle cx="1773.82" cy="330.17" r="8" fill="#1428f5"/><circle class="dt" cx="1773.82" cy="330.17" r="2.45"/></g>
<g><rect x="1168" y="567.85" width="15.2" height="15.2" fill="#3568f0"/><circle class="dt" cx="1175.6" cy="575.45" r="2.45"/><rect x="1185.09" y="552.96" width="15.2" height="15.2" fill="#3568f0"/><circle class="dt" cx="1192.69" cy="560.56" r="2.45"/><rect x="1202.18" y="542.74" width="15.2" height="15.2" fill="#3568f0"/><circle class="dt" cx="1209.78" cy="550.34" r="2.45"/><rect x="1219.28" y="531.29" width="15.2" height="15.2" fill="#3568f0"/><circle class="dt" cx="1226.88" cy="538.89" r="2.45"/><rect x="1236.37" y="519.67" width="15.2" height="15.2" fill="#3568f0"/><circle class="dt" cx="1243.97" cy="527.27" r="2.45"/><rect x="1253.46" y="509.84" width="15.2" height="15.2" fill="#3568f0"/><circle class="dt" cx="1261.06" cy="517.44" r="2.45"/><rect x="1270.55" y="498.67" width="15.2" height="15.2" fill="#3568f0"/><circle class="dt" cx="1278.15" cy="506.27" r="2.45"/><rect x="1287.64" y="488.83" width="15.2" height="15.2" fill="#3568f0"/><circle class="dt" cx="1295.24" cy="496.43" r="2.45"/><rect x="1304.74" y="479.45" width="15.2" height="15.2" fill="#3568f0"/><circle class="dt" cx="1312.34" cy="487.05" r="2.45"/><rect x="1321.83" y="470.96" width="15.2" height="15.2" fill="#3568f0"/><circle class="dt" cx="1329.43" cy="478.56" r="2.45"/><rect x="1338.92" y="459.78" width="15.2" height="15.2" fill="#3568f0"/><circle class="dt" cx="1346.52" cy="467.38" r="2.45"/><rect x="1356.01" y="452.44" width="15.2" height="15.2" fill="#3568f0"/><circle class="dt" cx="1363.61" cy="460.04" r="2.45"/><rect x="1373.1" y="444.44" width="15.2" height="15.2" fill="#3568f0"/><circle class="dt" cx="1380.7" cy="452.04" r="2.45"/><rect x="1390.2" y="435.48" width="15.2" height="15.2" fill="#3568f0"/><circle class="dt" cx="1397.8" cy="443.08" r="2.45"/><rect x="1407.29" y="425.71" width="15.2" height="15.2" fill="#3568f0"/><circle class="dt" cx="1414.89" cy="433.31" r="2.45"/><rect x="1424.38" y="415.6" width="15.2" height="15.2" fill="#3568f0"/><circle class="dt" cx="1431.98" cy="423.2" r="2.45"/><rect x="1441.47" y="405.59" width="15.2" height="15.2" fill="#3568f0"/><circle class="dt" cx="1449.07" cy="413.19" r="2.45"/><rect x="1458.56" y="396.15" width="15.2" height="15.2" fill="#3568f0"/><circle class="dt" cx="1466.16" cy="403.75" r="2.45"/><rect x="1475.66" y="387.34" width="15.2" height="15.2" fill="#3568f0"/><circle class="dt" cx="1483.26" cy="394.94" r="2.45"/><rect x="1492.75" y="378.86" width="15.2" height="15.2" fill="#3568f0"/><circle class="dt" cx="1500.35" cy="386.46" r="2.45"/><rect x="1509.84" y="370.58" width="15.2" height="15.2" fill="#3568f0"/><circle class="dt" cx="1517.44" cy="378.18" r="2.45"/><rect x="1526.93" y="362.41" width="15.2" height="15.2" fill="#3568f0"/><circle class="dt" cx="1534.53" cy="370.01" r="2.45"/><rect x="1544.02" y="354.67" width="15.2" height="15.2" fill="#3568f0"/><circle class="dt" cx="1551.62" cy="362.27" r="2.45"/><rect x="1561.12" y="347.46" width="15.2" height="15.2" fill="#3568f0"/><circle class="dt" cx="1568.72" cy="355.06" r="2.45"/><rect x="1578.21" y="341.04" width="15.2" height="15.2" fill="#3568f0"/><circle class="dt" cx="1585.81" cy="348.64" r="2.45"/><rect x="1595.3" y="335.92" width="15.2" height="15.2" fill="#3568f0"/><circle class="dt" cx="1602.9" cy="343.52" r="2.45"/><rect x="1612.39" y="330.95" width="15.2" height="15.2" fill="#3568f0"/><circle class="dt" cx="1619.99" cy="338.55" r="2.45"/><rect x="1629.48" y="325.7" width="15.2" height="15.2" fill="#3568f0"/><circle class="dt" cx="1637.08" cy="333.3" r="2.45"/><rect x="1646.58" y="319.45" width="15.2" height="15.2" fill="#3568f0"/><circle class="dt" cx="1654.18" cy="327.05" r="2.45"/><rect x="1663.67" y="313.66" width="15.2" height="15.2" fill="#3568f0"/><circle class="dt" cx="1671.27" cy="321.26" r="2.45"/><rect x="1680.76" y="309.79" width="15.2" height="15.2" fill="#3568f0"/><circle class="dt" cx="1688.36" cy="317.39" r="2.45"/><rect x="1697.85" y="308.65" width="15.2" height="15.2" fill="#3568f0"/><circle class="dt" cx="1705.45" cy="316.25" r="2.45"/><rect x="1714.94" y="306.46" width="15.2" height="15.2" fill="#3568f0"/><circle class="dt" cx="1722.54" cy="314.06" r="2.45"/><rect x="1732.04" y="303.54" width="15.2" height="15.2" fill="#3568f0"/><circle class="dt" cx="1739.64" cy="311.14" r="2.45"/><rect x="1749.13" y="300.13" width="15.2" height="15.2" fill="#3568f0"/><circle class="dt" cx="1756.73" cy="307.73" r="2.45"/><rect x="1766.22" y="298.42" width="15.2" height="15.2" fill="#3568f0"/><circle class="dt" cx="1773.82" cy="306.02" r="2.45"/><rect x="1783.31" y="299.84" width="15.2" height="15.2" fill="#3568f0"/><circle class="dt" cx="1790.91" cy="307.44" r="2.45"/></g>
<g><path d="M1167.1 565.7l17 17M1167.1 582.7l17 -17" fill="none" stroke="#52a5f5" stroke-width="1.45" opacity="0.66"/><rect class="dt" x="1173.45" y="572.05" width="4.3" height="4.3" rx="0.9"/><path d="M1184.19 552.63l17 17M1184.19 569.63l17 -17" fill="none" stroke="#52a5f5" stroke-width="1.45" opacity="0.66"/><rect class="dt" x="1190.54" y="558.98" width="4.3" height="4.3" rx="0.9"/><path d="M1201.28 542.4l17 17M1201.28 559.4l17 -17" fill="none" stroke="#52a5f5" stroke-width="1.45" opacity="0.66"/><rect class="dt" x="1207.63" y="548.75" width="4.3" height="4.3" rx="0.9"/><path d="M1218.38 533.36l17 17M1218.38 550.36l17 -17" fill="none" stroke="#52a5f5" stroke-width="1.45" opacity="0.66"/><rect class="dt" x="1224.73" y="539.71" width="4.3" height="4.3" rx="0.9"/><path d="M1235.47 522.72l17 17M1235.47 539.72l17 -17" fill="none" stroke="#52a5f5" stroke-width="1.45" opacity="0.66"/><rect class="dt" x="1241.82" y="529.07" width="4.3" height="4.3" rx="0.9"/><path d="M1252.56 513.71l17 17M1252.56 530.71l17 -17" fill="none" stroke="#52a5f5" stroke-width="1.45" opacity="0.66"/><rect class="dt" x="1258.91" y="520.06" width="4.3" height="4.3" rx="0.9"/><path d="M1269.65 503.48l17 17M1269.65 520.48l17 -17" fill="none" stroke="#52a5f5" stroke-width="1.45" opacity="0.66"/><rect class="dt" x="1276" y="509.83" width="4.3" height="4.3" rx="0.9"/><path d="M1286.74 494.47l17 17M1286.74 511.47l17 -17" fill="none" stroke="#52a5f5" stroke-width="1.45" opacity="0.66"/><rect class="dt" x="1293.09" y="500.82" width="4.3" height="4.3" rx="0.9"/><path d="M1303.84 485.88l17 17M1303.84 502.88l17 -17" fill="none" stroke="#52a5f5" stroke-width="1.45" opacity="0.66"/><rect class="dt" x="1310.19" y="492.23" width="4.3" height="4.3" rx="0.9"/><path d="M1320.93 478.1l17 17M1320.93 495.1l17 -17" fill="none" stroke="#52a5f5" stroke-width="1.45" opacity="0.66"/><rect class="dt" x="1327.28" y="484.45" width="4.3" height="4.3" rx="0.9"/><path d="M1338.02 467.87l17 17M1338.02 484.87l17 -17" fill="none" stroke="#52a5f5" stroke-width="1.45" opacity="0.66"/><rect class="dt" x="1344.37" y="474.22" width="4.3" height="4.3" rx="0.9"/><path d="M1355.11 459.27l17 17M1355.11 476.27l17 -17" fill="none" stroke="#52a5f5" stroke-width="1.45" opacity="0.66"/><rect class="dt" x="1361.46" y="465.62" width="4.3" height="4.3" rx="0.9"/><path d="M1372.2 452.07l17 17M1372.2 469.07l17 -17" fill="none" stroke="#52a5f5" stroke-width="1.45" opacity="0.66"/><rect class="dt" x="1378.55" y="458.42" width="4.3" height="4.3" rx="0.9"/><path d="M1389.3 446.38l17 17M1389.3 463.38l17 -17" fill="none" stroke="#52a5f5" stroke-width="1.45" opacity="0.66"/><rect class="dt" x="1395.65" y="452.73" width="4.3" height="4.3" rx="0.9"/><path d="M1406.39 441.27l17 17M1406.39 458.27l17 -17" fill="none" stroke="#52a5f5" stroke-width="1.45" opacity="0.66"/><rect class="dt" x="1412.74" y="447.62" width="4.3" height="4.3" rx="0.9"/><path d="M1423.48 435.02l17 17M1423.48 452.02l17 -17" fill="none" stroke="#52a5f5" stroke-width="1.45" opacity="0.66"/><rect class="dt" x="1429.83" y="441.37" width="4.3" height="4.3" rx="0.9"/><path d="M1440.57 428.77l17 17M1440.57 445.77l17 -17" fill="none" stroke="#52a5f5" stroke-width="1.45" opacity="0.66"/><rect class="dt" x="1446.92" y="435.12" width="4.3" height="4.3" rx="0.9"/><path d="M1457.66 423.66l17 17M1457.66 440.66l17 -17" fill="none" stroke="#52a5f5" stroke-width="1.45" opacity="0.66"/><rect class="dt" x="1464.01" y="430.01" width="4.3" height="4.3" rx="0.9"/><path d="M1474.76 416.27l17 17M1474.76 433.27l17 -17" fill="none" stroke="#52a5f5" stroke-width="1.45" opacity="0.66"/><rect class="dt" x="1481.11" y="422.62" width="4.3" height="4.3" rx="0.9"/><path d="M1491.85 411.16l17 17M1491.85 428.16l17 -17" fill="none" stroke="#52a5f5" stroke-width="1.45" opacity="0.66"/><rect class="dt" x="1498.2" y="417.51" width="4.3" height="4.3" rx="0.9"/><path d="M1508.94 406.04l17 17M1508.94 423.04l17 -17" fill="none" stroke="#52a5f5" stroke-width="1.45" opacity="0.66"/><rect class="dt" x="1515.29" y="412.39" width="4.3" height="4.3" rx="0.9"/><path d="M1526.03 400.36l17 17M1526.03 417.36l17 -17" fill="none" stroke="#52a5f5" stroke-width="1.45" opacity="0.66"/><rect class="dt" x="1532.38" y="406.71" width="4.3" height="4.3" rx="0.9"/><path d="M1543.12 392.98l17 17M1543.12 409.98l17 -17" fill="none" stroke="#52a5f5" stroke-width="1.45" opacity="0.66"/><rect class="dt" x="1549.47" y="399.33" width="4.3" height="4.3" rx="0.9"/><path d="M1560.22 389l17 17M1560.22 406l17 -17" fill="none" stroke="#52a5f5" stroke-width="1.45" opacity="0.66"/><rect class="dt" x="1566.57" y="395.35" width="4.3" height="4.3" rx="0.9"/><path d="M1577.31 386.73l17 17M1577.31 403.73l17 -17" fill="none" stroke="#52a5f5" stroke-width="1.45" opacity="0.66"/><rect class="dt" x="1583.66" y="393.08" width="4.3" height="4.3" rx="0.9"/><path d="M1594.4 379.91l17 17M1594.4 396.91l17 -17" fill="none" stroke="#52a5f5" stroke-width="1.45" opacity="0.66"/><rect class="dt" x="1600.75" y="386.26" width="4.3" height="4.3" rx="0.9"/><path d="M1611.49 372.81l17 17M1611.49 389.81l17 -17" fill="none" stroke="#52a5f5" stroke-width="1.45" opacity="0.66"/><rect class="dt" x="1617.84" y="379.16" width="4.3" height="4.3" rx="0.9"/><path d="M1628.58 364.57l17 17M1628.58 381.57l17 -17" fill="none" stroke="#52a5f5" stroke-width="1.45" opacity="0.66"/><rect class="dt" x="1634.93" y="370.92" width="4.3" height="4.3" rx="0.9"/><path d="M1645.68 358.89l17 17M1645.68 375.89l17 -17" fill="none" stroke="#52a5f5" stroke-width="1.45" opacity="0.66"/><rect class="dt" x="1652.03" y="365.24" width="4.3" height="4.3" rx="0.9"/><path d="M1662.77 352.64l17 17M1662.77 369.64l17 -17" fill="none" stroke="#52a5f5" stroke-width="1.45" opacity="0.66"/><rect class="dt" x="1669.12" y="358.99" width="4.3" height="4.3" rx="0.9"/><path d="M1679.86 346.39l17 17M1679.86 363.39l17 -17" fill="none" stroke="#52a5f5" stroke-width="1.45" opacity="0.66"/><rect class="dt" x="1686.21" y="352.74" width="4.3" height="4.3" rx="0.9"/><path d="M1696.95 341.27l17 17M1696.95 358.27l17 -17" fill="none" stroke="#52a5f5" stroke-width="1.45" opacity="0.66"/><rect class="dt" x="1703.3" y="347.62" width="4.3" height="4.3" rx="0.9"/><path d="M1714.04 337.86l17 17M1714.04 354.86l17 -17" fill="none" stroke="#52a5f5" stroke-width="1.45" opacity="0.66"/><rect class="dt" x="1720.39" y="344.21" width="4.3" height="4.3" rx="0.9"/><path d="M1731.14 336.16l17 17M1731.14 353.16l17 -17" fill="none" stroke="#52a5f5" stroke-width="1.45" opacity="0.66"/><rect class="dt" x="1737.49" y="342.51" width="4.3" height="4.3" rx="0.9"/><path d="M1748.23 330.19l17 17M1748.23 347.19l17 -17" fill="none" stroke="#52a5f5" stroke-width="1.45" opacity="0.66"/><rect class="dt" x="1754.58" y="336.54" width="4.3" height="4.3" rx="0.9"/><path d="M1765.32 322.24l17 17M1765.32 339.24l17 -17" fill="none" stroke="#52a5f5" stroke-width="1.45" opacity="0.66"/><rect class="dt" x="1771.67" y="328.59" width="4.3" height="4.3" rx="0.9"/><path d="M1782.41 315.99l17 17M1782.41 332.99l17 -17" fill="none" stroke="#52a5f5" stroke-width="1.45" opacity="0.66"/><rect class="dt" x="1788.76" y="322.34" width="4.3" height="4.3" rx="0.9"/><path d="M1799.5 307.75l17 17M1799.5 324.75l17 -17" fill="none" stroke="#52a5f5" stroke-width="1.45" opacity="0.66"/><rect class="dt" x="1805.85" y="314.1" width="4.3" height="4.3" rx="0.9"/><path d="M1816.6 303.77l17 17M1816.6 320.77l17 -17" fill="none" stroke="#52a5f5" stroke-width="1.45" opacity="0.66"/><rect class="dt" x="1822.95" y="310.12" width="4.3" height="4.3" rx="0.9"/><path d="M1833.69 298.66l17 17M1833.69 315.66l17 -17" fill="none" stroke="#52a5f5" stroke-width="1.45" opacity="0.66"/><rect class="dt" x="1840.04" y="305.01" width="4.3" height="4.3" rx="0.9"/><path d="M1850.78 297.75l17 17M1850.78 314.75l17 -17" fill="none" stroke="#52a5f5" stroke-width="1.45" opacity="0.66"/><rect class="dt" x="1857.13" y="304.1" width="4.3" height="4.3" rx="0.9"/><path d="M1867.87 295.82l17 17M1867.87 312.82l17 -17" fill="none" stroke="#52a5f5" stroke-width="1.45" opacity="0.66"/><rect class="dt" x="1874.22" y="302.17" width="4.3" height="4.3" rx="0.9"/><path d="M1884.96 295.25l17 17M1884.96 312.25l17 -17" fill="none" stroke="#52a5f5" stroke-width="1.45" opacity="0.66"/><rect class="dt" x="1891.31" y="301.6" width="4.3" height="4.3" rx="0.9"/><path d="M1902.06 294.11l17 17M1902.06 311.11l17 -17" fill="none" stroke="#52a5f5" stroke-width="1.45" opacity="0.66"/><rect class="dt" x="1908.41" y="300.46" width="4.3" height="4.3" rx="0.9"/><path d="M1919.15 293.77l17 17M1919.15 310.77l17 -17" fill="none" stroke="#52a5f5" stroke-width="1.45" opacity="0.66"/><rect class="dt" x="1925.5" y="300.12" width="4.3" height="4.3" rx="0.9"/><path d="M1936.24 293.77l17 17M1936.24 310.77l17 -17" fill="none" stroke="#52a5f5" stroke-width="1.45" opacity="0.66"/><rect class="dt" x="1942.59" y="300.12" width="4.3" height="4.3" rx="0.9"/><path d="M1953.33 293.26l17 17M1953.33 310.26l17 -17" fill="none" stroke="#52a5f5" stroke-width="1.45" opacity="0.66"/><rect class="dt" x="1959.68" y="299.61" width="4.3" height="4.3" rx="0.9"/><path d="M1970.42 293.26l17 17M1970.42 310.26l17 -17" fill="none" stroke="#52a5f5" stroke-width="1.45" opacity="0.66"/><rect class="dt" x="1976.77" y="299.61" width="4.3" height="4.3" rx="0.9"/><path d="M1987.52 293.26l17 17M1987.52 310.26l17 -17" fill="none" stroke="#52a5f5" stroke-width="1.45" opacity="0.66"/><rect class="dt" x="1993.87" y="299.61" width="4.3" height="4.3" rx="0.9"/><path d="M2004.61 292.41l17 17M2004.61 309.41l17 -17" fill="none" stroke="#52a5f5" stroke-width="1.45" opacity="0.66"/><rect class="dt" x="2010.96" y="298.76" width="4.3" height="4.3" rx="0.9"/><path d="M2021.7 291.27l17 17M2021.7 308.27l17 -17" fill="none" stroke="#52a5f5" stroke-width="1.45" opacity="0.66"/><rect class="dt" x="2028.05" y="297.62" width="4.3" height="4.3" rx="0.9"/></g>
<g><path d="M1167.5 574.2l8.1 -8.1l8.1 8.1l-8.1 8.1z" fill="none" stroke="#62d2f5" stroke-width="1.45" opacity="0.66"/><circle class="dt" cx="1175.6" cy="574.2" r="2.45"/><path d="M1184.59 555.74l8.1 -8.1l8.1 8.1l-8.1 8.1z" fill="none" stroke="#62d2f5" stroke-width="1.45" opacity="0.66"/><circle class="dt" cx="1192.69" cy="555.74" r="2.45"/><path d="M1201.68 550.34l8.1 -8.1l8.1 8.1l-8.1 8.1z" fill="none" stroke="#62d2f5" stroke-width="1.45" opacity="0.66"/><circle class="dt" cx="1209.78" cy="550.34" r="2.45"/><path d="M1218.78 538.63l8.1 -8.1l8.1 8.1l-8.1 8.1z" fill="none" stroke="#62d2f5" stroke-width="1.45" opacity="0.66"/><circle class="dt" cx="1226.88" cy="538.63" r="2.45"/><path d="M1235.87 526.92l8.1 -8.1l8.1 8.1l-8.1 8.1z" fill="none" stroke="#62d2f5" stroke-width="1.45" opacity="0.66"/><circle class="dt" cx="1243.97" cy="526.92" r="2.45"/><path d="M1252.96 517.01l8.1 -8.1l8.1 8.1l-8.1 8.1z" fill="none" stroke="#62d2f5" stroke-width="1.45" opacity="0.66"/><circle class="dt" cx="1261.06" cy="517.01" r="2.45"/><path d="M1270.05 505.76l8.1 -8.1l8.1 8.1l-8.1 8.1z" fill="none" stroke="#62d2f5" stroke-width="1.45" opacity="0.66"/><circle class="dt" cx="1278.15" cy="505.76" r="2.45"/><path d="M1287.14 495.85l8.1 -8.1l8.1 8.1l-8.1 8.1z" fill="none" stroke="#62d2f5" stroke-width="1.45" opacity="0.66"/><circle class="dt" cx="1295.24" cy="495.85" r="2.45"/><path d="M1304.24 486.4l8.1 -8.1l8.1 8.1l-8.1 8.1z" fill="none" stroke="#62d2f5" stroke-width="1.45" opacity="0.66"/><circle class="dt" cx="1312.34" cy="486.4" r="2.45"/><path d="M1321.33 477.84l8.1 -8.1l8.1 8.1l-8.1 8.1z" fill="none" stroke="#62d2f5" stroke-width="1.45" opacity="0.66"/><circle class="dt" cx="1329.43" cy="477.84" r="2.45"/><path d="M1338.42 466.58l8.1 -8.1l8.1 8.1l-8.1 8.1z" fill="none" stroke="#62d2f5" stroke-width="1.45" opacity="0.66"/><circle class="dt" cx="1346.52" cy="466.58" r="2.45"/><path d="M1355.51 457.13l8.1 -8.1l8.1 8.1l-8.1 8.1z" fill="none" stroke="#62d2f5" stroke-width="1.45" opacity="0.66"/><circle class="dt" cx="1363.61" cy="457.13" r="2.45"/><path d="M1372.6 449.2l8.1 -8.1l8.1 8.1l-8.1 8.1z" fill="none" stroke="#62d2f5" stroke-width="1.45" opacity="0.66"/><circle class="dt" cx="1380.7" cy="449.2" r="2.45"/><path d="M1389.7 441.67l8.1 -8.1l8.1 8.1l-8.1 8.1z" fill="none" stroke="#62d2f5" stroke-width="1.45" opacity="0.66"/><circle class="dt" cx="1397.8" cy="441.67" r="2.45"/><path d="M1406.79 434.43l8.1 -8.1l8.1 8.1l-8.1 8.1z" fill="none" stroke="#62d2f5" stroke-width="1.45" opacity="0.66"/><circle class="dt" cx="1414.89" cy="434.43" r="2.45"/><path d="M1423.88 427.7l8.1 -8.1l8.1 8.1l-8.1 8.1z" fill="none" stroke="#62d2f5" stroke-width="1.45" opacity="0.66"/><circle class="dt" cx="1431.98" cy="427.7" r="2.45"/><path d="M1440.97 420.79l8.1 -8.1l8.1 8.1l-8.1 8.1z" fill="none" stroke="#62d2f5" stroke-width="1.45" opacity="0.66"/><circle class="dt" cx="1449.07" cy="420.79" r="2.45"/><path d="M1458.06 412.82l8.1 -8.1l8.1 8.1l-8.1 8.1z" fill="none" stroke="#62d2f5" stroke-width="1.45" opacity="0.66"/><circle class="dt" cx="1466.16" cy="412.82" r="2.45"/><path d="M1475.16 404.32l8.1 -8.1l8.1 8.1l-8.1 8.1z" fill="none" stroke="#62d2f5" stroke-width="1.45" opacity="0.66"/><circle class="dt" cx="1483.26" cy="404.32" r="2.45"/><path d="M1492.25 395.47l8.1 -8.1l8.1 8.1l-8.1 8.1z" fill="none" stroke="#62d2f5" stroke-width="1.45" opacity="0.66"/><circle class="dt" cx="1500.35" cy="395.47" r="2.45"/><path d="M1509.34 386.7l8.1 -8.1l8.1 8.1l-8.1 8.1z" fill="none" stroke="#62d2f5" stroke-width="1.45" opacity="0.66"/><circle class="dt" cx="1517.44" cy="386.7" r="2.45"/><path d="M1526.43 378.11l8.1 -8.1l8.1 8.1l-8.1 8.1z" fill="none" stroke="#62d2f5" stroke-width="1.45" opacity="0.66"/><circle class="dt" cx="1534.53" cy="378.11" r="2.45"/><path d="M1543.52 370.8l8.1 -8.1l8.1 8.1l-8.1 8.1z" fill="none" stroke="#62d2f5" stroke-width="1.45" opacity="0.66"/><circle class="dt" cx="1551.62" cy="370.8" r="2.45"/><path d="M1560.62 366.04l8.1 -8.1l8.1 8.1l-8.1 8.1z" fill="none" stroke="#62d2f5" stroke-width="1.45" opacity="0.66"/><circle class="dt" cx="1568.72" cy="366.04" r="2.45"/><path d="M1577.71 361.7l8.1 -8.1l8.1 8.1l-8.1 8.1z" fill="none" stroke="#62d2f5" stroke-width="1.45" opacity="0.66"/><circle class="dt" cx="1585.81" cy="361.7" r="2.45"/><path d="M1594.8 356.35l8.1 -8.1l8.1 8.1l-8.1 8.1z" fill="none" stroke="#62d2f5" stroke-width="1.45" opacity="0.66"/><circle class="dt" cx="1602.9" cy="356.35" r="2.45"/><path d="M1611.89 350.91l8.1 -8.1l8.1 8.1l-8.1 8.1z" fill="none" stroke="#62d2f5" stroke-width="1.45" opacity="0.66"/><circle class="dt" cx="1619.99" cy="350.91" r="2.45"/><path d="M1628.98 345.88l8.1 -8.1l8.1 8.1l-8.1 8.1z" fill="none" stroke="#62d2f5" stroke-width="1.45" opacity="0.66"/><circle class="dt" cx="1637.08" cy="345.88" r="2.45"/><path d="M1646.08 341.25l8.1 -8.1l8.1 8.1l-8.1 8.1z" fill="none" stroke="#62d2f5" stroke-width="1.45" opacity="0.66"/><circle class="dt" cx="1654.18" cy="341.25" r="2.45"/><path d="M1663.17 337.27l8.1 -8.1l8.1 8.1l-8.1 8.1z" fill="none" stroke="#62d2f5" stroke-width="1.45" opacity="0.66"/><circle class="dt" cx="1671.27" cy="337.27" r="2.45"/><path d="M1680.26 331.02l8.1 -8.1l8.1 8.1l-8.1 8.1z" fill="none" stroke="#62d2f5" stroke-width="1.45" opacity="0.66"/><circle class="dt" cx="1688.36" cy="331.02" r="2.45"/><path d="M1697.35 323.64l8.1 -8.1l8.1 8.1l-8.1 8.1z" fill="none" stroke="#62d2f5" stroke-width="1.45" opacity="0.66"/><circle class="dt" cx="1705.45" cy="323.64" r="2.45"/><path d="M1714.44 316.25l8.1 -8.1l8.1 8.1l-8.1 8.1z" fill="none" stroke="#62d2f5" stroke-width="1.45" opacity="0.66"/><circle class="dt" cx="1722.54" cy="316.25" r="2.45"/><path d="M1731.54 310l8.1 -8.1l8.1 8.1l-8.1 8.1z" fill="none" stroke="#62d2f5" stroke-width="1.45" opacity="0.66"/><circle class="dt" cx="1739.64" cy="310" r="2.45"/><path d="M1748.63 304.89l8.1 -8.1l8.1 8.1l-8.1 8.1z" fill="none" stroke="#62d2f5" stroke-width="1.45" opacity="0.66"/><circle class="dt" cx="1756.73" cy="304.89" r="2.45"/><path d="M1765.72 299.77l8.1 -8.1l8.1 8.1l-8.1 8.1z" fill="none" stroke="#62d2f5" stroke-width="1.45" opacity="0.66"/><circle class="dt" cx="1773.82" cy="299.77" r="2.45"/><path d="M1782.81 295.8l8.1 -8.1l8.1 8.1l-8.1 8.1z" fill="none" stroke="#62d2f5" stroke-width="1.45" opacity="0.66"/><circle class="dt" cx="1790.91" cy="295.8" r="2.45"/><path d="M1799.9 294.32l8.1 -8.1l8.1 8.1l-8.1 8.1z" fill="none" stroke="#62d2f5" stroke-width="1.45" opacity="0.66"/><circle class="dt" cx="1808" cy="294.32" r="2.45"/><path d="M1817 293.81l8.1 -8.1l8.1 8.1l-8.1 8.1z" fill="none" stroke="#62d2f5" stroke-width="1.45" opacity="0.66"/><circle class="dt" cx="1825.1" cy="293.81" r="2.45"/><path d="M1834.09 296.42l8.1 -8.1l8.1 8.1l-8.1 8.1z" fill="none" stroke="#62d2f5" stroke-width="1.45" opacity="0.66"/><circle class="dt" cx="1842.19" cy="296.42" r="2.45"/><path d="M1851.18 295.8l8.1 -8.1l8.1 8.1l-8.1 8.1z" fill="none" stroke="#62d2f5" stroke-width="1.45" opacity="0.66"/><circle class="dt" cx="1859.28" cy="295.8" r="2.45"/><path d="M1868.27 296.99l8.1 -8.1l8.1 8.1l-8.1 8.1z" fill="none" stroke="#62d2f5" stroke-width="1.45" opacity="0.66"/><circle class="dt" cx="1876.37" cy="296.99" r="2.45"/><path d="M1885.36 296.19l8.1 -8.1l8.1 8.1l-8.1 8.1z" fill="none" stroke="#62d2f5" stroke-width="1.45" opacity="0.66"/><circle class="dt" cx="1893.46" cy="296.19" r="2.45"/><path d="M1902.46 294.32l8.1 -8.1l8.1 8.1l-8.1 8.1z" fill="none" stroke="#62d2f5" stroke-width="1.45" opacity="0.66"/><circle class="dt" cx="1910.56" cy="294.32" r="2.45"/><path d="M1919.55 292.22l8.1 -8.1l8.1 8.1l-8.1 8.1z" fill="none" stroke="#62d2f5" stroke-width="1.45" opacity="0.66"/><circle class="dt" cx="1927.65" cy="292.22" r="2.45"/><path d="M1936.64 290.4l8.1 -8.1l8.1 8.1l-8.1 8.1z" fill="none" stroke="#62d2f5" stroke-width="1.45" opacity="0.66"/><circle class="dt" cx="1944.74" cy="290.4" r="2.45"/></g>
<g><path d="M1167.8 574.2l7.8 -7.8l7.8 7.8l-7.8 7.8z" fill="#86f0d6"/><circle class="dt" cx="1175.6" cy="574.2" r="2.45"/><path d="M1184.89 554.82l7.8 -7.8l7.8 7.8l-7.8 7.8z" fill="#86f0d6"/><circle class="dt" cx="1192.69" cy="554.82" r="2.45"/><path d="M1201.98 549.14l7.8 -7.8l7.8 7.8l-7.8 7.8z" fill="#86f0d6"/><circle class="dt" cx="1209.78" cy="549.14" r="2.45"/><path d="M1219.08 536.85l7.8 -7.8l7.8 7.8l-7.8 7.8z" fill="#86f0d6"/><circle class="dt" cx="1226.88" cy="536.85" r="2.45"/><path d="M1236.17 524.56l7.8 -7.8l7.8 7.8l-7.8 7.8z" fill="#86f0d6"/><circle class="dt" cx="1243.97" cy="524.56" r="2.45"/><path d="M1253.26 514.16l7.8 -7.8l7.8 7.8l-7.8 7.8z" fill="#86f0d6"/><circle class="dt" cx="1261.06" cy="514.16" r="2.45"/><path d="M1270.35 502.34l7.8 -7.8l7.8 7.8l-7.8 7.8z" fill="#86f0d6"/><circle class="dt" cx="1278.15" cy="502.34" r="2.45"/><path d="M1287.44 491.93l7.8 -7.8l7.8 7.8l-7.8 7.8z" fill="#86f0d6"/><circle class="dt" cx="1295.24" cy="491.93" r="2.45"/><path d="M1304.54 482.01l7.8 -7.8l7.8 7.8l-7.8 7.8z" fill="#86f0d6"/><circle class="dt" cx="1312.34" cy="482.01" r="2.45"/><path d="M1321.63 473.02l7.8 -7.8l7.8 7.8l-7.8 7.8z" fill="#86f0d6"/><circle class="dt" cx="1329.43" cy="473.02" r="2.45"/><path d="M1338.72 461.2l7.8 -7.8l7.8 7.8l-7.8 7.8z" fill="#86f0d6"/><circle class="dt" cx="1346.52" cy="461.2" r="2.45"/><path d="M1355.81 451.27l7.8 -7.8l7.8 7.8l-7.8 7.8z" fill="#86f0d6"/><circle class="dt" cx="1363.61" cy="451.27" r="2.45"/><path d="M1372.9 442.95l7.8 -7.8l7.8 7.8l-7.8 7.8z" fill="#86f0d6"/><circle class="dt" cx="1380.7" cy="442.95" r="2.45"/><path d="M1390 433.12l7.8 -7.8l7.8 7.8l-7.8 7.8z" fill="#86f0d6"/><circle class="dt" cx="1397.8" cy="433.12" r="2.45"/><path d="M1407.09 423.33l7.8 -7.8l7.8 7.8l-7.8 7.8z" fill="#86f0d6"/><circle class="dt" cx="1414.89" cy="423.33" r="2.45"/><path d="M1424.18 413.56l7.8 -7.8l7.8 7.8l-7.8 7.8z" fill="#86f0d6"/><circle class="dt" cx="1431.98" cy="413.56" r="2.45"/><path d="M1441.27 403.81l7.8 -7.8l7.8 7.8l-7.8 7.8z" fill="#86f0d6"/><circle class="dt" cx="1449.07" cy="403.81" r="2.45"/><path d="M1458.36 394.09l7.8 -7.8l7.8 7.8l-7.8 7.8z" fill="#86f0d6"/><circle class="dt" cx="1466.16" cy="394.09" r="2.45"/><path d="M1475.46 384.27l7.8 -7.8l7.8 7.8l-7.8 7.8z" fill="#86f0d6"/><circle class="dt" cx="1483.26" cy="384.27" r="2.45"/><path d="M1492.55 374.48l7.8 -7.8l7.8 7.8l-7.8 7.8z" fill="#86f0d6"/><circle class="dt" cx="1500.35" cy="374.48" r="2.45"/><path d="M1509.64 365.11l7.8 -7.8l7.8 7.8l-7.8 7.8z" fill="#86f0d6"/><circle class="dt" cx="1517.44" cy="365.11" r="2.45"/><path d="M1526.73 356.37l7.8 -7.8l7.8 7.8l-7.8 7.8z" fill="#86f0d6"/><circle class="dt" cx="1534.53" cy="356.37" r="2.45"/><path d="M1543.82 348.07l7.8 -7.8l7.8 7.8l-7.8 7.8z" fill="#86f0d6"/><circle class="dt" cx="1551.62" cy="348.07" r="2.45"/><path d="M1560.92 339.97l7.8 -7.8l7.8 7.8l-7.8 7.8z" fill="#86f0d6"/><circle class="dt" cx="1568.72" cy="339.97" r="2.45"/><path d="M1578.01 332.14l7.8 -7.8l7.8 7.8l-7.8 7.8z" fill="#86f0d6"/><circle class="dt" cx="1585.81" cy="332.14" r="2.45"/><path d="M1595.1 324.77l7.8 -7.8l7.8 7.8l-7.8 7.8z" fill="#86f0d6"/><circle class="dt" cx="1602.9" cy="324.77" r="2.45"/><path d="M1612.19 318.07l7.8 -7.8l7.8 7.8l-7.8 7.8z" fill="#86f0d6"/><circle class="dt" cx="1619.99" cy="318.07" r="2.45"/><path d="M1629.28 311.71l7.8 -7.8l7.8 7.8l-7.8 7.8z" fill="#86f0d6"/><circle class="dt" cx="1637.08" cy="311.71" r="2.45"/><path d="M1646.38 305.41l7.8 -7.8l7.8 7.8l-7.8 7.8z" fill="#86f0d6"/><circle class="dt" cx="1654.18" cy="305.41" r="2.45"/><path d="M1663.47 299.21l7.8 -7.8l7.8 7.8l-7.8 7.8z" fill="#86f0d6"/><circle class="dt" cx="1671.27" cy="299.21" r="2.45"/><path d="M1680.56 292.96l7.8 -7.8l7.8 7.8l-7.8 7.8z" fill="#86f0d6"/><circle class="dt" cx="1688.36" cy="292.96" r="2.45"/><path d="M1697.65 286.28l7.8 -7.8l7.8 7.8l-7.8 7.8z" fill="#86f0d6"/><circle class="dt" cx="1705.45" cy="286.28" r="2.45"/><path d="M1714.74 279.54l7.8 -7.8l7.8 7.8l-7.8 7.8z" fill="#86f0d6"/><circle class="dt" cx="1722.54" cy="279.54" r="2.45"/><path d="M1731.84 273.64l7.8 -7.8l7.8 7.8l-7.8 7.8z" fill="#86f0d6"/><circle class="dt" cx="1739.64" cy="273.64" r="2.45"/><path d="M1748.93 269.09l7.8 -7.8l7.8 7.8l-7.8 7.8z" fill="#86f0d6"/><circle class="dt" cx="1756.73" cy="269.09" r="2.45"/><path d="M1766.02 264.55l7.8 -7.8l7.8 7.8l-7.8 7.8z" fill="#86f0d6"/><circle class="dt" cx="1773.82" cy="264.55" r="2.45"/><path d="M1783.11 259.43l7.8 -7.8l7.8 7.8l-7.8 7.8z" fill="#86f0d6"/><circle class="dt" cx="1790.91" cy="259.43" r="2.45"/><path d="M1800.2 253.24l7.8 -7.8l7.8 7.8l-7.8 7.8z" fill="#86f0d6"/><circle class="dt" cx="1808" cy="253.24" r="2.45"/><path d="M1817.3 247.16l7.8 -7.8l7.8 7.8l-7.8 7.8z" fill="#86f0d6"/><circle class="dt" cx="1825.1" cy="247.16" r="2.45"/><path d="M1834.39 241.88l7.8 -7.8l7.8 7.8l-7.8 7.8z" fill="#86f0d6"/><circle class="dt" cx="1842.19" cy="241.88" r="2.45"/><path d="M1851.48 237.33l7.8 -7.8l7.8 7.8l-7.8 7.8z" fill="#86f0d6"/><circle class="dt" cx="1859.28" cy="237.33" r="2.45"/><path d="M1868.57 232.56l7.8 -7.8l7.8 7.8l-7.8 7.8z" fill="#86f0d6"/><circle class="dt" cx="1876.37" cy="232.56" r="2.45"/><path d="M1885.66 228.07l7.8 -7.8l7.8 7.8l-7.8 7.8z" fill="#86f0d6"/><circle class="dt" cx="1893.46" cy="228.07" r="2.45"/><path d="M1902.76 223.3l7.8 -7.8l7.8 7.8l-7.8 7.8z" fill="#86f0d6"/><circle class="dt" cx="1910.56" cy="223.3" r="2.45"/><path d="M1919.85 220.91l7.8 -7.8l7.8 7.8l-7.8 7.8z" fill="#86f0d6"/><circle class="dt" cx="1927.65" cy="220.91" r="2.45"/><path d="M1936.94 217.45l7.8 -7.8l7.8 7.8l-7.8 7.8z" fill="#86f0d6"/><circle class="dt" cx="1944.74" cy="217.45" r="2.45"/><path d="M1954.03 216.93l7.8 -7.8l7.8 7.8l-7.8 7.8z" fill="#86f0d6"/><circle class="dt" cx="1961.83" cy="216.93" r="2.45"/><path d="M1971.12 215.68l7.8 -7.8l7.8 7.8l-7.8 7.8z" fill="#86f0d6"/><circle class="dt" cx="1978.92" cy="215.68" r="2.45"/><path d="M1988.22 216.93l7.8 -7.8l7.8 7.8l-7.8 7.8z" fill="#86f0d6"/><circle class="dt" cx="1996.02" cy="216.93" r="2.45"/><path d="M2005.31 215.34l7.8 -7.8l7.8 7.8l-7.8 7.8z" fill="#86f0d6"/><circle class="dt" cx="2013.11" cy="215.34" r="2.45"/></g>
<g><circle cx="1175.6" cy="574.2" r="8" fill="#93f2b0"/><circle class="dt" cx="1175.6" cy="574.2" r="2.45"/><circle cx="1192.69" cy="554.65" r="8" fill="#93f2b0"/><circle class="dt" cx="1192.69" cy="554.65" r="2.45"/><circle cx="1209.78" cy="548.92" r="8" fill="#93f2b0"/><circle class="dt" cx="1209.78" cy="548.92" r="2.45"/><circle cx="1226.88" cy="536.53" r="8" fill="#93f2b0"/><circle class="dt" cx="1226.88" cy="536.53" r="2.45"/><circle cx="1243.97" cy="524.13" r="8" fill="#93f2b0"/><circle class="dt" cx="1243.97" cy="524.13" r="2.45"/><circle cx="1261.06" cy="513.64" r="8" fill="#93f2b0"/><circle class="dt" cx="1261.06" cy="513.64" r="2.45"/><circle cx="1278.15" cy="501.71" r="8" fill="#93f2b0"/><circle class="dt" cx="1278.15" cy="501.71" r="2.45"/><circle cx="1295.24" cy="491.22" r="8" fill="#93f2b0"/><circle class="dt" cx="1295.24" cy="491.22" r="2.45"/><circle cx="1312.34" cy="481.21" r="8" fill="#93f2b0"/><circle class="dt" cx="1312.34" cy="481.21" r="2.45"/><circle cx="1329.43" cy="472.15" r="8" fill="#93f2b0"/><circle class="dt" cx="1329.43" cy="472.15" r="2.45"/><circle cx="1346.52" cy="460.22" r="8" fill="#93f2b0"/><circle class="dt" cx="1346.52" cy="460.22" r="2.45"/><circle cx="1363.61" cy="450.21" r="8" fill="#93f2b0"/><circle class="dt" cx="1363.61" cy="450.21" r="2.45"/><circle cx="1380.7" cy="441.82" r="8" fill="#93f2b0"/><circle class="dt" cx="1380.7" cy="441.82" r="2.45"/><circle cx="1397.8" cy="431.68" r="8" fill="#93f2b0"/><circle class="dt" cx="1397.8" cy="431.68" r="2.45"/><circle cx="1414.89" cy="421.5" r="8" fill="#93f2b0"/><circle class="dt" cx="1414.89" cy="421.5" r="2.45"/><circle cx="1431.98" cy="411.27" r="8" fill="#93f2b0"/><circle class="dt" cx="1431.98" cy="411.27" r="2.45"/><circle cx="1449.07" cy="400.99" r="8" fill="#93f2b0"/><circle class="dt" cx="1449.07" cy="400.99" r="2.45"/><circle cx="1466.16" cy="390.68" r="8" fill="#93f2b0"/><circle class="dt" cx="1466.16" cy="390.68" r="2.45"/><circle cx="1483.26" cy="380.17" r="8" fill="#93f2b0"/><circle class="dt" cx="1483.26" cy="380.17" r="2.45"/><circle cx="1500.35" cy="369.61" r="8" fill="#93f2b0"/><circle class="dt" cx="1500.35" cy="369.61" r="2.45"/><circle cx="1517.44" cy="359.43" r="8" fill="#93f2b0"/><circle class="dt" cx="1517.44" cy="359.43" r="2.45"/><circle cx="1534.53" cy="349.86" r="8" fill="#93f2b0"/><circle class="dt" cx="1534.53" cy="349.86" r="2.45"/><circle cx="1551.62" cy="340.68" r="8" fill="#93f2b0"/><circle class="dt" cx="1551.62" cy="340.68" r="2.45"/><circle cx="1568.72" cy="331.69" r="8" fill="#93f2b0"/><circle class="dt" cx="1568.72" cy="331.69" r="2.45"/><circle cx="1585.81" cy="322.92" r="8" fill="#93f2b0"/><circle class="dt" cx="1585.81" cy="322.92" r="2.45"/><circle cx="1602.9" cy="314.55" r="8" fill="#93f2b0"/><circle class="dt" cx="1602.9" cy="314.55" r="2.45"/><circle cx="1619.99" cy="306.33" r="8" fill="#93f2b0"/><circle class="dt" cx="1619.99" cy="306.33" r="2.45"/><circle cx="1637.08" cy="299.21" r="8" fill="#93f2b0"/><circle class="dt" cx="1637.08" cy="299.21" r="2.45"/><circle cx="1654.18" cy="293.49" r="8" fill="#93f2b0"/><circle class="dt" cx="1654.18" cy="293.49" r="2.45"/><circle cx="1671.27" cy="289.55" r="8" fill="#93f2b0"/><circle class="dt" cx="1671.27" cy="289.55" r="2.45"/><circle cx="1688.36" cy="287.84" r="8" fill="#93f2b0"/><circle class="dt" cx="1688.36" cy="287.84" r="2.45"/><circle cx="1705.45" cy="287.56" r="8" fill="#93f2b0"/><circle class="dt" cx="1705.45" cy="287.56" r="2.45"/><circle cx="1722.54" cy="286.14" r="8" fill="#93f2b0"/><circle class="dt" cx="1722.54" cy="286.14" r="2.45"/><circle cx="1739.64" cy="284.43" r="8" fill="#93f2b0"/><circle class="dt" cx="1739.64" cy="284.43" r="2.45"/></g>
<g><path d="M1167.6 574.2h16M1175.6 566.2v16" fill="none" stroke="#8ff268" stroke-width="1.45" opacity="0.66"/><rect class="dt" x="1173.45" y="572.05" width="4.3" height="4.3" rx="0.9"/><path d="M1184.69 555.07h16M1192.69 547.07v16" fill="none" stroke="#8ff268" stroke-width="1.45" opacity="0.66"/><rect class="dt" x="1190.54" y="552.92" width="4.3" height="4.3" rx="0.9"/><path d="M1201.78 549.47h16M1209.78 541.47v16" fill="none" stroke="#8ff268" stroke-width="1.45" opacity="0.66"/><rect class="dt" x="1207.63" y="547.32" width="4.3" height="4.3" rx="0.9"/><path d="M1218.88 537.33h16M1226.88 529.33v16" fill="none" stroke="#8ff268" stroke-width="1.45" opacity="0.66"/><rect class="dt" x="1224.73" y="535.18" width="4.3" height="4.3" rx="0.9"/><path d="M1235.97 525.2h16M1243.97 517.2v16" fill="none" stroke="#8ff268" stroke-width="1.45" opacity="0.66"/><rect class="dt" x="1241.82" y="523.05" width="4.3" height="4.3" rx="0.9"/><path d="M1253.06 514.93h16M1261.06 506.93v16" fill="none" stroke="#8ff268" stroke-width="1.45" opacity="0.66"/><rect class="dt" x="1258.91" y="512.78" width="4.3" height="4.3" rx="0.9"/><path d="M1270.15 503.27h16M1278.15 495.27v16" fill="none" stroke="#8ff268" stroke-width="1.45" opacity="0.66"/><rect class="dt" x="1276" y="501.12" width="4.3" height="4.3" rx="0.9"/><path d="M1287.24 493h16M1295.24 485v16" fill="none" stroke="#8ff268" stroke-width="1.45" opacity="0.66"/><rect class="dt" x="1293.09" y="490.85" width="4.3" height="4.3" rx="0.9"/><path d="M1304.34 483.2h16M1312.34 475.2v16" fill="none" stroke="#8ff268" stroke-width="1.45" opacity="0.66"/><rect class="dt" x="1310.19" y="481.05" width="4.3" height="4.3" rx="0.9"/><path d="M1321.43 474.34h16M1329.43 466.34v16" fill="none" stroke="#8ff268" stroke-width="1.45" opacity="0.66"/><rect class="dt" x="1327.28" y="472.19" width="4.3" height="4.3" rx="0.9"/><path d="M1338.52 462.67h16M1346.52 454.67v16" fill="none" stroke="#8ff268" stroke-width="1.45" opacity="0.66"/><rect class="dt" x="1344.37" y="460.52" width="4.3" height="4.3" rx="0.9"/><path d="M1355.61 452.87h16M1363.61 444.87v16" fill="none" stroke="#8ff268" stroke-width="1.45" opacity="0.66"/><rect class="dt" x="1361.46" y="450.72" width="4.3" height="4.3" rx="0.9"/><path d="M1372.7 444.66h16M1380.7 436.66v16" fill="none" stroke="#8ff268" stroke-width="1.45" opacity="0.66"/><rect class="dt" x="1378.55" y="442.51" width="4.3" height="4.3" rx="0.9"/><path d="M1389.8 434.72h16M1397.8 426.72v16" fill="none" stroke="#8ff268" stroke-width="1.45" opacity="0.66"/><rect class="dt" x="1395.65" y="432.57" width="4.3" height="4.3" rx="0.9"/><path d="M1406.89 424.93h16M1414.89 416.93v16" fill="none" stroke="#8ff268" stroke-width="1.45" opacity="0.66"/><rect class="dt" x="1412.74" y="422.78" width="4.3" height="4.3" rx="0.9"/><path d="M1423.98 415.28h16M1431.98 407.28v16" fill="none" stroke="#8ff268" stroke-width="1.45" opacity="0.66"/><rect class="dt" x="1429.83" y="413.13" width="4.3" height="4.3" rx="0.9"/><path d="M1441.07 405.76h16M1449.07 397.76v16" fill="none" stroke="#8ff268" stroke-width="1.45" opacity="0.66"/><rect class="dt" x="1446.92" y="403.61" width="4.3" height="4.3" rx="0.9"/><path d="M1458.16 396.36h16M1466.16 388.36v16" fill="none" stroke="#8ff268" stroke-width="1.45" opacity="0.66"/><rect class="dt" x="1464.01" y="394.21" width="4.3" height="4.3" rx="0.9"/><path d="M1475.26 386.98h16M1483.26 378.98v16" fill="none" stroke="#8ff268" stroke-width="1.45" opacity="0.66"/><rect class="dt" x="1481.11" y="384.83" width="4.3" height="4.3" rx="0.9"/><path d="M1492.35 377.76h16M1500.35 369.76v16" fill="none" stroke="#8ff268" stroke-width="1.45" opacity="0.66"/><rect class="dt" x="1498.2" y="375.61" width="4.3" height="4.3" rx="0.9"/><path d="M1509.44 369.09h16M1517.44 361.09v16" fill="none" stroke="#8ff268" stroke-width="1.45" opacity="0.66"/><rect class="dt" x="1515.29" y="366.94" width="4.3" height="4.3" rx="0.9"/><path d="M1526.53 361.19h16M1534.53 353.19v16" fill="none" stroke="#8ff268" stroke-width="1.45" opacity="0.66"/><rect class="dt" x="1532.38" y="359.04" width="4.3" height="4.3" rx="0.9"/><path d="M1543.62 353.75h16M1551.62 345.75v16" fill="none" stroke="#8ff268" stroke-width="1.45" opacity="0.66"/><rect class="dt" x="1549.47" y="351.6" width="4.3" height="4.3" rx="0.9"/><path d="M1560.72 346.46h16M1568.72 338.46v16" fill="none" stroke="#8ff268" stroke-width="1.45" opacity="0.66"/><rect class="dt" x="1566.57" y="344.31" width="4.3" height="4.3" rx="0.9"/><path d="M1577.81 339.39h16M1585.81 331.39v16" fill="none" stroke="#8ff268" stroke-width="1.45" opacity="0.66"/><rect class="dt" x="1583.66" y="337.24" width="4.3" height="4.3" rx="0.9"/><path d="M1594.9 332.73h16M1602.9 324.73v16" fill="none" stroke="#8ff268" stroke-width="1.45" opacity="0.66"/><rect class="dt" x="1600.75" y="330.58" width="4.3" height="4.3" rx="0.9"/><path d="M1611.99 326.54h16M1619.99 318.54v16" fill="none" stroke="#8ff268" stroke-width="1.45" opacity="0.66"/><rect class="dt" x="1617.84" y="324.39" width="4.3" height="4.3" rx="0.9"/><path d="M1629.08 320.8h16M1637.08 312.8v16" fill="none" stroke="#8ff268" stroke-width="1.45" opacity="0.66"/><rect class="dt" x="1634.93" y="318.65" width="4.3" height="4.3" rx="0.9"/><path d="M1646.18 315.46h16M1654.18 307.46v16" fill="none" stroke="#8ff268" stroke-width="1.45" opacity="0.66"/><rect class="dt" x="1652.03" y="313.31" width="4.3" height="4.3" rx="0.9"/><path d="M1663.27 310.41h16M1671.27 302.41v16" fill="none" stroke="#8ff268" stroke-width="1.45" opacity="0.66"/><rect class="dt" x="1669.12" y="308.26" width="4.3" height="4.3" rx="0.9"/><path d="M1680.36 305.46h16M1688.36 297.46v16" fill="none" stroke="#8ff268" stroke-width="1.45" opacity="0.66"/><rect class="dt" x="1686.21" y="303.31" width="4.3" height="4.3" rx="0.9"/><path d="M1697.45 300.47h16M1705.45 292.47v16" fill="none" stroke="#8ff268" stroke-width="1.45" opacity="0.66"/><rect class="dt" x="1703.3" y="298.32" width="4.3" height="4.3" rx="0.9"/><path d="M1714.54 295.8h16M1722.54 287.8v16" fill="none" stroke="#8ff268" stroke-width="1.45" opacity="0.66"/><rect class="dt" x="1720.39" y="293.65" width="4.3" height="4.3" rx="0.9"/><path d="M1731.64 291.82h16M1739.64 283.82v16" fill="none" stroke="#8ff268" stroke-width="1.45" opacity="0.66"/><rect class="dt" x="1737.49" y="289.67" width="4.3" height="4.3" rx="0.9"/></g>
<g><rect x="1168.1" y="566.7" width="15" height="15" fill="none" stroke="#8cf465" stroke-width="1.45" opacity="0.66"/><circle class="dt" cx="1175.6" cy="574.2" r="2.45"/><rect x="1185.19" y="547.73" width="15" height="15" fill="none" stroke="#8cf465" stroke-width="1.45" opacity="0.66"/><circle class="dt" cx="1192.69" cy="555.23" r="2.45"/><rect x="1202.28" y="542.18" width="15" height="15" fill="none" stroke="#8cf465" stroke-width="1.45" opacity="0.66"/><circle class="dt" cx="1209.78" cy="549.68" r="2.45"/><rect x="1219.38" y="530.16" width="15" height="15" fill="none" stroke="#8cf465" stroke-width="1.45" opacity="0.66"/><circle class="dt" cx="1226.88" cy="537.66" r="2.45"/><rect x="1236.47" y="518.13" width="15" height="15" fill="none" stroke="#8cf465" stroke-width="1.45" opacity="0.66"/><circle class="dt" cx="1243.97" cy="525.63" r="2.45"/><rect x="1253.56" y="507.95" width="15" height="15" fill="none" stroke="#8cf465" stroke-width="1.45" opacity="0.66"/><circle class="dt" cx="1261.06" cy="515.45" r="2.45"/><rect x="1270.65" y="496.39" width="15" height="15" fill="none" stroke="#8cf465" stroke-width="1.45" opacity="0.66"/><circle class="dt" cx="1278.15" cy="503.89" r="2.45"/><rect x="1287.74" y="486.21" width="15" height="15" fill="none" stroke="#8cf465" stroke-width="1.45" opacity="0.66"/><circle class="dt" cx="1295.24" cy="493.71" r="2.45"/><rect x="1304.84" y="476.5" width="15" height="15" fill="none" stroke="#8cf465" stroke-width="1.45" opacity="0.66"/><circle class="dt" cx="1312.34" cy="484" r="2.45"/><rect x="1321.93" y="467.71" width="15" height="15" fill="none" stroke="#8cf465" stroke-width="1.45" opacity="0.66"/><circle class="dt" cx="1329.43" cy="475.21" r="2.45"/><rect x="1339.02" y="456.15" width="15" height="15" fill="none" stroke="#8cf465" stroke-width="1.45" opacity="0.66"/><circle class="dt" cx="1346.52" cy="463.65" r="2.45"/><rect x="1356.11" y="446.43" width="15" height="15" fill="none" stroke="#8cf465" stroke-width="1.45" opacity="0.66"/><circle class="dt" cx="1363.61" cy="453.93" r="2.45"/><rect x="1373.2" y="438.29" width="15" height="15" fill="none" stroke="#8cf465" stroke-width="1.45" opacity="0.66"/><circle class="dt" cx="1380.7" cy="445.79" r="2.45"/><rect x="1390.3" y="428.43" width="15" height="15" fill="none" stroke="#8cf465" stroke-width="1.45" opacity="0.66"/><circle class="dt" cx="1397.8" cy="435.93" r="2.45"/><rect x="1407.39" y="418.74" width="15" height="15" fill="none" stroke="#8cf465" stroke-width="1.45" opacity="0.66"/><circle class="dt" cx="1414.89" cy="426.24" r="2.45"/><rect x="1424.48" y="409.21" width="15" height="15" fill="none" stroke="#8cf465" stroke-width="1.45" opacity="0.66"/><circle class="dt" cx="1431.98" cy="416.71" r="2.45"/><rect x="1441.57" y="399.82" width="15" height="15" fill="none" stroke="#8cf465" stroke-width="1.45" opacity="0.66"/><circle class="dt" cx="1449.07" cy="407.32" r="2.45"/><rect x="1458.66" y="390.57" width="15" height="15" fill="none" stroke="#8cf465" stroke-width="1.45" opacity="0.66"/><circle class="dt" cx="1466.16" cy="398.07" r="2.45"/><rect x="1475.76" y="381.38" width="15" height="15" fill="none" stroke="#8cf465" stroke-width="1.45" opacity="0.66"/><circle class="dt" cx="1483.26" cy="388.88" r="2.45"/><rect x="1492.85" y="372.39" width="15" height="15" fill="none" stroke="#8cf465" stroke-width="1.45" opacity="0.66"/><circle class="dt" cx="1500.35" cy="379.89" r="2.45"/><rect x="1509.94" y="363.86" width="15" height="15" fill="none" stroke="#8cf465" stroke-width="1.45" opacity="0.66"/><circle class="dt" cx="1517.44" cy="371.36" r="2.45"/><rect x="1527.03" y="355.98" width="15" height="15" fill="none" stroke="#8cf465" stroke-width="1.45" opacity="0.66"/><circle class="dt" cx="1534.53" cy="363.48" r="2.45"/><rect x="1544.12" y="348.52" width="15" height="15" fill="none" stroke="#8cf465" stroke-width="1.45" opacity="0.66"/><circle class="dt" cx="1551.62" cy="356.02" r="2.45"/><rect x="1561.22" y="341.19" width="15" height="15" fill="none" stroke="#8cf465" stroke-width="1.45" opacity="0.66"/><circle class="dt" cx="1568.72" cy="348.69" r="2.45"/><rect x="1578.31" y="334.09" width="15" height="15" fill="none" stroke="#8cf465" stroke-width="1.45" opacity="0.66"/><circle class="dt" cx="1585.81" cy="341.59" r="2.45"/><rect x="1595.4" y="327.5" width="15" height="15" fill="none" stroke="#8cf465" stroke-width="1.45" opacity="0.66"/><circle class="dt" cx="1602.9" cy="335" r="2.45"/><rect x="1612.49" y="321.64" width="15" height="15" fill="none" stroke="#8cf465" stroke-width="1.45" opacity="0.66"/><circle class="dt" cx="1619.99" cy="329.14" r="2.45"/><rect x="1629.58" y="316.14" width="15" height="15" fill="none" stroke="#8cf465" stroke-width="1.45" opacity="0.66"/><circle class="dt" cx="1637.08" cy="323.64" r="2.45"/><rect x="1646.68" y="310.49" width="15" height="15" fill="none" stroke="#8cf465" stroke-width="1.45" opacity="0.66"/><circle class="dt" cx="1654.18" cy="317.99" r="2.45"/><rect x="1663.77" y="304.98" width="15" height="15" fill="none" stroke="#8cf465" stroke-width="1.45" opacity="0.66"/><circle class="dt" cx="1671.27" cy="312.48" r="2.45"/><rect x="1680.86" y="300.23" width="15" height="15" fill="none" stroke="#8cf465" stroke-width="1.45" opacity="0.66"/><circle class="dt" cx="1688.36" cy="307.73" r="2.45"/><rect x="1697.95" y="296.17" width="15" height="15" fill="none" stroke="#8cf465" stroke-width="1.45" opacity="0.66"/><circle class="dt" cx="1705.45" cy="303.67" r="2.45"/><rect x="1715.04" y="292.6" width="15" height="15" fill="none" stroke="#8cf465" stroke-width="1.45" opacity="0.66"/><circle class="dt" cx="1722.54" cy="300.1" r="2.45"/><rect x="1732.14" y="290" width="15" height="15" fill="none" stroke="#8cf465" stroke-width="1.45" opacity="0.66"/><circle class="dt" cx="1739.64" cy="297.5" r="2.45"/><rect x="1749.23" y="288.25" width="15" height="15" fill="none" stroke="#8cf465" stroke-width="1.45" opacity="0.66"/><circle class="dt" cx="1756.73" cy="295.75" r="2.45"/><rect x="1766.32" y="287.16" width="15" height="15" fill="none" stroke="#8cf465" stroke-width="1.45" opacity="0.66"/><circle class="dt" cx="1773.82" cy="294.66" r="2.45"/></g>
<g><circle cx="1175.6" cy="574.2" r="7.8" fill="none" stroke="#96f24e" stroke-width="1.45" opacity="0.66"/><circle class="dt" cx="1175.6" cy="574.2" r="2.45"/><circle cx="1192.69" cy="554.98" r="7.8" fill="none" stroke="#96f24e" stroke-width="1.45" opacity="0.66"/><circle class="dt" cx="1192.69" cy="554.98" r="2.45"/><circle cx="1209.78" cy="549.36" r="7.8" fill="none" stroke="#96f24e" stroke-width="1.45" opacity="0.66"/><circle class="dt" cx="1209.78" cy="549.36" r="2.45"/><circle cx="1226.88" cy="537.17" r="7.8" fill="none" stroke="#96f24e" stroke-width="1.45" opacity="0.66"/><circle class="dt" cx="1226.88" cy="537.17" r="2.45"/><circle cx="1243.97" cy="524.99" r="7.8" fill="none" stroke="#96f24e" stroke-width="1.45" opacity="0.66"/><circle class="dt" cx="1243.97" cy="524.99" r="2.45"/><circle cx="1261.06" cy="514.68" r="7.8" fill="none" stroke="#96f24e" stroke-width="1.45" opacity="0.66"/><circle class="dt" cx="1261.06" cy="514.68" r="2.45"/><circle cx="1278.15" cy="502.96" r="7.8" fill="none" stroke="#96f24e" stroke-width="1.45" opacity="0.66"/><circle class="dt" cx="1278.15" cy="502.96" r="2.45"/><circle cx="1295.24" cy="492.65" r="7.8" fill="none" stroke="#96f24e" stroke-width="1.45" opacity="0.66"/><circle class="dt" cx="1295.24" cy="492.65" r="2.45"/><circle cx="1312.34" cy="482.8" r="7.8" fill="none" stroke="#96f24e" stroke-width="1.45" opacity="0.66"/><circle class="dt" cx="1312.34" cy="482.8" r="2.45"/><circle cx="1329.43" cy="473.9" r="7.8" fill="none" stroke="#96f24e" stroke-width="1.45" opacity="0.66"/><circle class="dt" cx="1329.43" cy="473.9" r="2.45"/><circle cx="1346.52" cy="462.18" r="7.8" fill="none" stroke="#96f24e" stroke-width="1.45" opacity="0.66"/><circle class="dt" cx="1346.52" cy="462.18" r="2.45"/><circle cx="1363.61" cy="452.34" r="7.8" fill="none" stroke="#96f24e" stroke-width="1.45" opacity="0.66"/><circle class="dt" cx="1363.61" cy="452.34" r="2.45"/><circle cx="1380.7" cy="444.09" r="7.8" fill="none" stroke="#96f24e" stroke-width="1.45" opacity="0.66"/><circle class="dt" cx="1380.7" cy="444.09" r="2.45"/><circle cx="1397.8" cy="433.91" r="7.8" fill="none" stroke="#96f24e" stroke-width="1.45" opacity="0.66"/><circle class="dt" cx="1397.8" cy="433.91" r="2.45"/><circle cx="1414.89" cy="423.88" r="7.8" fill="none" stroke="#96f24e" stroke-width="1.45" opacity="0.66"/><circle class="dt" cx="1414.89" cy="423.88" r="2.45"/><circle cx="1431.98" cy="414.01" r="7.8" fill="none" stroke="#96f24e" stroke-width="1.45" opacity="0.66"/><circle class="dt" cx="1431.98" cy="414.01" r="2.45"/><circle cx="1449.07" cy="404.27" r="7.8" fill="none" stroke="#96f24e" stroke-width="1.45" opacity="0.66"/><circle class="dt" cx="1449.07" cy="404.27" r="2.45"/><circle cx="1466.16" cy="394.66" r="7.8" fill="none" stroke="#96f24e" stroke-width="1.45" opacity="0.66"/><circle class="dt" cx="1466.16" cy="394.66" r="2.45"/><circle cx="1483.26" cy="385.09" r="7.8" fill="none" stroke="#96f24e" stroke-width="1.45" opacity="0.66"/><circle class="dt" cx="1483.26" cy="385.09" r="2.45"/><circle cx="1500.35" cy="375.7" r="7.8" fill="none" stroke="#96f24e" stroke-width="1.45" opacity="0.66"/><circle class="dt" cx="1500.35" cy="375.7" r="2.45"/><circle cx="1517.44" cy="366.82" r="7.8" fill="none" stroke="#96f24e" stroke-width="1.45" opacity="0.66"/><circle class="dt" cx="1517.44" cy="366.82" r="2.45"/><circle cx="1534.53" cy="358.6" r="7.8" fill="none" stroke="#96f24e" stroke-width="1.45" opacity="0.66"/><circle class="dt" cx="1534.53" cy="358.6" r="2.45"/><circle cx="1551.62" cy="350.91" r="7.8" fill="none" stroke="#96f24e" stroke-width="1.45" opacity="0.66"/><circle class="dt" cx="1551.62" cy="350.91" r="2.45"/><circle cx="1568.72" cy="343.52" r="7.8" fill="none" stroke="#96f24e" stroke-width="1.45" opacity="0.66"/><circle class="dt" cx="1568.72" cy="343.52" r="2.45"/><circle cx="1585.81" cy="336.44" r="7.8" fill="none" stroke="#96f24e" stroke-width="1.45" opacity="0.66"/><circle class="dt" cx="1585.81" cy="336.44" r="2.45"/><circle cx="1602.9" cy="329.89" r="7.8" fill="none" stroke="#96f24e" stroke-width="1.45" opacity="0.66"/><circle class="dt" cx="1602.9" cy="329.89" r="2.45"/><circle cx="1619.99" cy="323.95" r="7.8" fill="none" stroke="#96f24e" stroke-width="1.45" opacity="0.66"/><circle class="dt" cx="1619.99" cy="323.95" r="2.45"/><circle cx="1637.08" cy="318.52" r="7.8" fill="none" stroke="#96f24e" stroke-width="1.45" opacity="0.66"/><circle class="dt" cx="1637.08" cy="318.52" r="2.45"/><circle cx="1654.18" cy="313.4" r="7.8" fill="none" stroke="#96f24e" stroke-width="1.45" opacity="0.66"/><circle class="dt" cx="1654.18" cy="313.4" r="2.45"/><circle cx="1671.27" cy="308.59" r="7.8" fill="none" stroke="#96f24e" stroke-width="1.45" opacity="0.66"/><circle class="dt" cx="1671.27" cy="308.59" r="2.45"/><circle cx="1688.36" cy="304.32" r="7.8" fill="none" stroke="#96f24e" stroke-width="1.45" opacity="0.66"/><circle class="dt" cx="1688.36" cy="304.32" r="2.45"/><circle cx="1705.45" cy="299.93" r="7.8" fill="none" stroke="#96f24e" stroke-width="1.45" opacity="0.66"/><circle class="dt" cx="1705.45" cy="299.93" r="2.45"/><circle cx="1722.54" cy="297.5" r="7.8" fill="none" stroke="#96f24e" stroke-width="1.45" opacity="0.66"/><circle class="dt" cx="1722.54" cy="297.5" r="2.45"/><circle cx="1739.64" cy="297.5" r="7.8" fill="none" stroke="#96f24e" stroke-width="1.45" opacity="0.66"/><circle class="dt" cx="1739.64" cy="297.5" r="2.45"/><circle cx="1756.73" cy="297.5" r="7.8" fill="none" stroke="#96f24e" stroke-width="1.45" opacity="0.66"/><circle class="dt" cx="1756.73" cy="297.5" r="2.45"/></g>
<g><path d="M1167.1 565.7l17 17M1167.1 582.7l17 -17" fill="none" stroke="#a4f446" stroke-width="1.45" opacity="0.66"/><rect class="dt" x="1173.45" y="572.05" width="4.3" height="4.3" rx="0.9"/><path d="M1184.19 545.98l17 17M1184.19 562.98l17 -17" fill="none" stroke="#a4f446" stroke-width="1.45" opacity="0.66"/><rect class="dt" x="1190.54" y="552.33" width="4.3" height="4.3" rx="0.9"/><path d="M1201.28 540.21l17 17M1201.28 557.21l17 -17" fill="none" stroke="#a4f446" stroke-width="1.45" opacity="0.66"/><rect class="dt" x="1207.63" y="546.56" width="4.3" height="4.3" rx="0.9"/><path d="M1218.38 527.7l17 17M1218.38 544.7l17 -17" fill="none" stroke="#a4f446" stroke-width="1.45" opacity="0.66"/><rect class="dt" x="1224.73" y="534.05" width="4.3" height="4.3" rx="0.9"/><path d="M1235.47 515.2l17 17M1235.47 532.2l17 -17" fill="none" stroke="#a4f446" stroke-width="1.45" opacity="0.66"/><rect class="dt" x="1241.82" y="521.55" width="4.3" height="4.3" rx="0.9"/><path d="M1252.56 504.62l17 17M1252.56 521.62l17 -17" fill="none" stroke="#a4f446" stroke-width="1.45" opacity="0.66"/><rect class="dt" x="1258.91" y="510.97" width="4.3" height="4.3" rx="0.9"/><path d="M1269.65 492.59l17 17M1269.65 509.59l17 -17" fill="none" stroke="#a4f446" stroke-width="1.45" opacity="0.66"/><rect class="dt" x="1276" y="498.94" width="4.3" height="4.3" rx="0.9"/><path d="M1286.74 482.01l17 17M1286.74 499.01l17 -17" fill="none" stroke="#a4f446" stroke-width="1.45" opacity="0.66"/><rect class="dt" x="1293.09" y="488.36" width="4.3" height="4.3" rx="0.9"/><path d="M1303.84 471.91l17 17M1303.84 488.91l17 -17" fill="none" stroke="#a4f446" stroke-width="1.45" opacity="0.66"/><rect class="dt" x="1310.19" y="478.26" width="4.3" height="4.3" rx="0.9"/><path d="M1320.93 462.77l17 17M1320.93 479.77l17 -17" fill="none" stroke="#a4f446" stroke-width="1.45" opacity="0.66"/><rect class="dt" x="1327.28" y="469.12" width="4.3" height="4.3" rx="0.9"/><path d="M1338.02 450.75l17 17M1338.02 467.75l17 -17" fill="none" stroke="#a4f446" stroke-width="1.45" opacity="0.66"/><rect class="dt" x="1344.37" y="457.1" width="4.3" height="4.3" rx="0.9"/><path d="M1355.11 440.65l17 17M1355.11 457.65l17 -17" fill="none" stroke="#a4f446" stroke-width="1.45" opacity="0.66"/><rect class="dt" x="1361.46" y="447" width="4.3" height="4.3" rx="0.9"/><path d="M1372.2 432.18l17 17M1372.2 449.18l17 -17" fill="none" stroke="#a4f446" stroke-width="1.45" opacity="0.66"/><rect class="dt" x="1378.55" y="438.53" width="4.3" height="4.3" rx="0.9"/><path d="M1389.3 421.43l17 17M1389.3 438.43l17 -17" fill="none" stroke="#a4f446" stroke-width="1.45" opacity="0.66"/><rect class="dt" x="1395.65" y="427.78" width="4.3" height="4.3" rx="0.9"/><path d="M1406.39 410.84l17 17M1406.39 427.84l17 -17" fill="none" stroke="#a4f446" stroke-width="1.45" opacity="0.66"/><rect class="dt" x="1412.74" y="417.19" width="4.3" height="4.3" rx="0.9"/><path d="M1423.48 400.39l17 17M1423.48 417.39l17 -17" fill="none" stroke="#a4f446" stroke-width="1.45" opacity="0.66"/><rect class="dt" x="1429.83" y="406.74" width="4.3" height="4.3" rx="0.9"/><path d="M1440.57 390.09l17 17M1440.57 407.09l17 -17" fill="none" stroke="#a4f446" stroke-width="1.45" opacity="0.66"/><rect class="dt" x="1446.92" y="396.44" width="4.3" height="4.3" rx="0.9"/><path d="M1457.66 379.91l17 17M1457.66 396.91l17 -17" fill="none" stroke="#a4f446" stroke-width="1.45" opacity="0.66"/><rect class="dt" x="1464.01" y="386.26" width="4.3" height="4.3" rx="0.9"/><path d="M1474.76 369.99l17 17M1474.76 386.99l17 -17" fill="none" stroke="#a4f446" stroke-width="1.45" opacity="0.66"/><rect class="dt" x="1481.11" y="376.34" width="4.3" height="4.3" rx="0.9"/><path d="M1491.85 360.25l17 17M1491.85 377.25l17 -17" fill="none" stroke="#a4f446" stroke-width="1.45" opacity="0.66"/><rect class="dt" x="1498.2" y="366.6" width="4.3" height="4.3" rx="0.9"/><path d="M1508.94 350.36l17 17M1508.94 367.36l17 -17" fill="none" stroke="#a4f446" stroke-width="1.45" opacity="0.66"/><rect class="dt" x="1515.29" y="356.71" width="4.3" height="4.3" rx="0.9"/><path d="M1526.03 340.14l17 17M1526.03 357.14l17 -17" fill="none" stroke="#a4f446" stroke-width="1.45" opacity="0.66"/><rect class="dt" x="1532.38" y="346.49" width="4.3" height="4.3" rx="0.9"/><path d="M1543.12 332.18l17 17M1543.12 349.18l17 -17" fill="none" stroke="#a4f446" stroke-width="1.45" opacity="0.66"/><rect class="dt" x="1549.47" y="338.53" width="4.3" height="4.3" rx="0.9"/><path d="M1560.22 323.65l17 17M1560.22 340.65l17 -17" fill="none" stroke="#a4f446" stroke-width="1.45" opacity="0.66"/><rect class="dt" x="1566.57" y="330" width="4.3" height="4.3" rx="0.9"/><path d="M1577.31 314.81l17 17M1577.31 331.81l17 -17" fill="none" stroke="#a4f446" stroke-width="1.45" opacity="0.66"/><rect class="dt" x="1583.66" y="321.16" width="4.3" height="4.3" rx="0.9"/><path d="M1594.4 306.05l17 17M1594.4 323.05l17 -17" fill="none" stroke="#a4f446" stroke-width="1.45" opacity="0.66"/><rect class="dt" x="1600.75" y="312.4" width="4.3" height="4.3" rx="0.9"/><path d="M1611.49 296.97l17 17M1611.49 313.97l17 -17" fill="none" stroke="#a4f446" stroke-width="1.45" opacity="0.66"/><rect class="dt" x="1617.84" y="303.32" width="4.3" height="4.3" rx="0.9"/><path d="M1628.58 289l17 17M1628.58 306l17 -17" fill="none" stroke="#a4f446" stroke-width="1.45" opacity="0.66"/><rect class="dt" x="1634.93" y="295.35" width="4.3" height="4.3" rx="0.9"/><path d="M1645.68 283.52l17 17M1645.68 300.52l17 -17" fill="none" stroke="#a4f446" stroke-width="1.45" opacity="0.66"/><rect class="dt" x="1652.03" y="289.87" width="4.3" height="4.3" rx="0.9"/><path d="M1662.77 278.77l17 17M1662.77 295.77l17 -17" fill="none" stroke="#a4f446" stroke-width="1.45" opacity="0.66"/><rect class="dt" x="1669.12" y="285.12" width="4.3" height="4.3" rx="0.9"/><path d="M1679.86 274.23l17 17M1679.86 291.23l17 -17" fill="none" stroke="#a4f446" stroke-width="1.45" opacity="0.66"/><rect class="dt" x="1686.21" y="280.58" width="4.3" height="4.3" rx="0.9"/><path d="M1696.95 269.34l17 17M1696.95 286.34l17 -17" fill="none" stroke="#a4f446" stroke-width="1.45" opacity="0.66"/><rect class="dt" x="1703.3" y="275.69" width="4.3" height="4.3" rx="0.9"/><path d="M1714.04 262.83l17 17M1714.04 279.83l17 -17" fill="none" stroke="#a4f446" stroke-width="1.45" opacity="0.66"/><rect class="dt" x="1720.39" y="269.18" width="4.3" height="4.3" rx="0.9"/><path d="M1731.14 255.48l17 17M1731.14 272.48l17 -17" fill="none" stroke="#a4f446" stroke-width="1.45" opacity="0.66"/><rect class="dt" x="1737.49" y="261.83" width="4.3" height="4.3" rx="0.9"/><path d="M1748.23 247.55l17 17M1748.23 264.55l17 -17" fill="none" stroke="#a4f446" stroke-width="1.45" opacity="0.66"/><rect class="dt" x="1754.58" y="253.9" width="4.3" height="4.3" rx="0.9"/><path d="M1765.32 240.14l17 17M1765.32 257.14l17 -17" fill="none" stroke="#a4f446" stroke-width="1.45" opacity="0.66"/><rect class="dt" x="1771.67" y="246.49" width="4.3" height="4.3" rx="0.9"/><path d="M1782.41 234.68l17 17M1782.41 251.68l17 -17" fill="none" stroke="#a4f446" stroke-width="1.45" opacity="0.66"/><rect class="dt" x="1788.76" y="241.03" width="4.3" height="4.3" rx="0.9"/><path d="M1799.5 229.68l17 17M1799.5 246.68l17 -17" fill="none" stroke="#a4f446" stroke-width="1.45" opacity="0.66"/><rect class="dt" x="1805.85" y="236.03" width="4.3" height="4.3" rx="0.9"/><path d="M1816.6 223.09l17 17M1816.6 240.09l17 -17" fill="none" stroke="#a4f446" stroke-width="1.45" opacity="0.66"/><rect class="dt" x="1822.95" y="229.44" width="4.3" height="4.3" rx="0.9"/><path d="M1833.69 216.9l17 17M1833.69 233.9l17 -17" fill="none" stroke="#a4f446" stroke-width="1.45" opacity="0.66"/><rect class="dt" x="1840.04" y="223.25" width="4.3" height="4.3" rx="0.9"/><path d="M1850.78 212.41l17 17M1850.78 229.41l17 -17" fill="none" stroke="#a4f446" stroke-width="1.45" opacity="0.66"/><rect class="dt" x="1857.13" y="218.76" width="4.3" height="4.3" rx="0.9"/><path d="M1867.87 207.36l17 17M1867.87 224.36l17 -17" fill="none" stroke="#a4f446" stroke-width="1.45" opacity="0.66"/><rect class="dt" x="1874.22" y="213.71" width="4.3" height="4.3" rx="0.9"/><path d="M1884.96 201.56l17 17M1884.96 218.56l17 -17" fill="none" stroke="#a4f446" stroke-width="1.45" opacity="0.66"/><rect class="dt" x="1891.31" y="207.91" width="4.3" height="4.3" rx="0.9"/><path d="M1902.06 197.07l17 17M1902.06 214.07l17 -17" fill="none" stroke="#a4f446" stroke-width="1.45" opacity="0.66"/><rect class="dt" x="1908.41" y="203.42" width="4.3" height="4.3" rx="0.9"/><path d="M1919.15 192.53l17 17M1919.15 209.53l17 -17" fill="none" stroke="#a4f446" stroke-width="1.45" opacity="0.66"/><rect class="dt" x="1925.5" y="198.88" width="4.3" height="4.3" rx="0.9"/><path d="M1936.24 187.75l17 17M1936.24 204.75l17 -17" fill="none" stroke="#a4f446" stroke-width="1.45" opacity="0.66"/><rect class="dt" x="1942.59" y="194.1" width="4.3" height="4.3" rx="0.9"/><path d="M1953.33 183.04l17 17M1953.33 200.04l17 -17" fill="none" stroke="#a4f446" stroke-width="1.45" opacity="0.66"/><rect class="dt" x="1959.68" y="189.39" width="4.3" height="4.3" rx="0.9"/><path d="M1970.42 181.96l17 17M1970.42 198.96l17 -17" fill="none" stroke="#a4f446" stroke-width="1.45" opacity="0.66"/><rect class="dt" x="1976.77" y="188.31" width="4.3" height="4.3" rx="0.9"/><path d="M1987.52 182.47l17 17M1987.52 199.47l17 -17" fill="none" stroke="#a4f446" stroke-width="1.45" opacity="0.66"/><rect class="dt" x="1993.87" y="188.82" width="4.3" height="4.3" rx="0.9"/></g>
<g><rect x="1168" y="566.6" width="15.2" height="15.2" fill="#b0fa44"/><circle class="dt" cx="1175.6" cy="574.2" r="2.45"/><rect x="1185.09" y="545.2" width="15.2" height="15.2" fill="#b0fa44"/><circle class="dt" cx="1192.69" cy="552.8" r="2.45"/><rect x="1202.18" y="538.94" width="15.2" height="15.2" fill="#b0fa44"/><circle class="dt" cx="1209.78" cy="546.54" r="2.45"/><rect x="1219.28" y="525.37" width="15.2" height="15.2" fill="#b0fa44"/><circle class="dt" cx="1226.88" cy="532.97" r="2.45"/><rect x="1236.37" y="511.8" width="15.2" height="15.2" fill="#b0fa44"/><circle class="dt" cx="1243.97" cy="519.4" r="2.45"/><rect x="1253.46" y="500.32" width="15.2" height="15.2" fill="#b0fa44"/><circle class="dt" cx="1261.06" cy="507.92" r="2.45"/><rect x="1270.55" y="487.27" width="15.2" height="15.2" fill="#b0fa44"/><circle class="dt" cx="1278.15" cy="494.87" r="2.45"/><rect x="1287.64" y="475.79" width="15.2" height="15.2" fill="#b0fa44"/><circle class="dt" cx="1295.24" cy="483.39" r="2.45"/><rect x="1304.74" y="464.83" width="15.2" height="15.2" fill="#b0fa44"/><circle class="dt" cx="1312.34" cy="472.43" r="2.45"/><rect x="1321.83" y="454.91" width="15.2" height="15.2" fill="#b0fa44"/><circle class="dt" cx="1329.43" cy="462.51" r="2.45"/><rect x="1338.92" y="441.86" width="15.2" height="15.2" fill="#b0fa44"/><circle class="dt" cx="1346.52" cy="449.46" r="2.45"/><rect x="1356.01" y="430.9" width="15.2" height="15.2" fill="#b0fa44"/><circle class="dt" cx="1363.61" cy="438.5" r="2.45"/><rect x="1373.1" y="421.72" width="15.2" height="15.2" fill="#b0fa44"/><circle class="dt" cx="1380.7" cy="429.32" r="2.45"/><rect x="1390.2" y="410.55" width="15.2" height="15.2" fill="#b0fa44"/><circle class="dt" cx="1397.8" cy="418.15" r="2.45"/><rect x="1407.29" y="399.71" width="15.2" height="15.2" fill="#b0fa44"/><circle class="dt" cx="1414.89" cy="407.31" r="2.45"/><rect x="1424.38" y="389.16" width="15.2" height="15.2" fill="#b0fa44"/><circle class="dt" cx="1431.98" cy="396.76" r="2.45"/><rect x="1441.47" y="378.82" width="15.2" height="15.2" fill="#b0fa44"/><circle class="dt" cx="1449.07" cy="386.42" r="2.45"/><rect x="1458.56" y="368.88" width="15.2" height="15.2" fill="#b0fa44"/><circle class="dt" cx="1466.16" cy="376.48" r="2.45"/><rect x="1475.66" y="358.37" width="15.2" height="15.2" fill="#b0fa44"/><circle class="dt" cx="1483.26" cy="365.97" r="2.45"/><rect x="1492.75" y="348.37" width="15.2" height="15.2" fill="#b0fa44"/><circle class="dt" cx="1500.35" cy="355.97" r="2.45"/><rect x="1509.84" y="338.76" width="15.2" height="15.2" fill="#b0fa44"/><circle class="dt" cx="1517.44" cy="346.36" r="2.45"/><rect x="1526.93" y="329.67" width="15.2" height="15.2" fill="#b0fa44"/><circle class="dt" cx="1534.53" cy="337.27" r="2.45"/><rect x="1544.02" y="320.58" width="15.2" height="15.2" fill="#b0fa44"/><circle class="dt" cx="1551.62" cy="328.18" r="2.45"/><rect x="1561.12" y="312.24" width="15.2" height="15.2" fill="#b0fa44"/><circle class="dt" cx="1568.72" cy="319.84" r="2.45"/><rect x="1578.21" y="304.32" width="15.2" height="15.2" fill="#b0fa44"/><circle class="dt" cx="1585.81" cy="311.92" r="2.45"/><rect x="1595.3" y="296.72" width="15.2" height="15.2" fill="#b0fa44"/><circle class="dt" cx="1602.9" cy="304.32" r="2.45"/><rect x="1612.39" y="289.56" width="15.2" height="15.2" fill="#b0fa44"/><circle class="dt" cx="1619.99" cy="297.16" r="2.45"/><rect x="1629.48" y="282.51" width="15.2" height="15.2" fill="#b0fa44"/><circle class="dt" cx="1637.08" cy="290.11" r="2.45"/><rect x="1646.58" y="275.15" width="15.2" height="15.2" fill="#b0fa44"/><circle class="dt" cx="1654.18" cy="282.75" r="2.45"/><rect x="1663.67" y="267.74" width="15.2" height="15.2" fill="#b0fa44"/><circle class="dt" cx="1671.27" cy="275.34" r="2.45"/><rect x="1680.76" y="259.7" width="15.2" height="15.2" fill="#b0fa44"/><circle class="dt" cx="1688.36" cy="267.3" r="2.45"/><rect x="1697.85" y="253.25" width="15.2" height="15.2" fill="#b0fa44"/><circle class="dt" cx="1705.45" cy="260.85" r="2.45"/><rect x="1714.94" y="249.65" width="15.2" height="15.2" fill="#b0fa44"/><circle class="dt" cx="1722.54" cy="257.25" r="2.45"/><rect x="1732.04" y="247.52" width="15.2" height="15.2" fill="#b0fa44"/><circle class="dt" cx="1739.64" cy="255.12" r="2.45"/><rect x="1749.13" y="246.72" width="15.2" height="15.2" fill="#b0fa44"/><circle class="dt" cx="1756.73" cy="254.32" r="2.45"/><rect x="1766.22" y="246.72" width="15.2" height="15.2" fill="#b0fa44"/><circle class="dt" cx="1773.82" cy="254.32" r="2.45"/></g>
<g><path d="M1167.8 574.2l7.8 -7.8l7.8 7.8l-7.8 7.8z" fill="#d8fa3a"/><circle class="dt" cx="1175.6" cy="574.2" r="2.45"/><path d="M1184.89 551.71l7.8 -7.8l7.8 7.8l-7.8 7.8z" fill="#d8fa3a"/><circle class="dt" cx="1192.69" cy="551.71" r="2.45"/><path d="M1201.98 545.13l7.8 -7.8l7.8 7.8l-7.8 7.8z" fill="#d8fa3a"/><circle class="dt" cx="1209.78" cy="545.13" r="2.45"/><path d="M1219.08 530.87l7.8 -7.8l7.8 7.8l-7.8 7.8z" fill="#d8fa3a"/><circle class="dt" cx="1226.88" cy="530.87" r="2.45"/><path d="M1236.17 516.61l7.8 -7.8l7.8 7.8l-7.8 7.8z" fill="#d8fa3a"/><circle class="dt" cx="1243.97" cy="516.61" r="2.45"/><path d="M1253.26 504.54l7.8 -7.8l7.8 7.8l-7.8 7.8z" fill="#d8fa3a"/><circle class="dt" cx="1261.06" cy="504.54" r="2.45"/><path d="M1270.35 490.82l7.8 -7.8l7.8 7.8l-7.8 7.8z" fill="#d8fa3a"/><circle class="dt" cx="1278.15" cy="490.82" r="2.45"/><path d="M1287.44 478.76l7.8 -7.8l7.8 7.8l-7.8 7.8z" fill="#d8fa3a"/><circle class="dt" cx="1295.24" cy="478.76" r="2.45"/><path d="M1304.54 467.24l7.8 -7.8l7.8 7.8l-7.8 7.8z" fill="#d8fa3a"/><circle class="dt" cx="1312.34" cy="467.24" r="2.45"/><path d="M1321.63 456.82l7.8 -7.8l7.8 7.8l-7.8 7.8z" fill="#d8fa3a"/><circle class="dt" cx="1329.43" cy="456.82" r="2.45"/><path d="M1338.72 443.1l7.8 -7.8l7.8 7.8l-7.8 7.8z" fill="#d8fa3a"/><circle class="dt" cx="1346.52" cy="443.1" r="2.45"/><path d="M1355.81 431.58l7.8 -7.8l7.8 7.8l-7.8 7.8z" fill="#d8fa3a"/><circle class="dt" cx="1363.61" cy="431.58" r="2.45"/><path d="M1372.9 421.93l7.8 -7.8l7.8 7.8l-7.8 7.8z" fill="#d8fa3a"/><circle class="dt" cx="1380.7" cy="421.93" r="2.45"/><path d="M1390 411.7l7.8 -7.8l7.8 7.8l-7.8 7.8z" fill="#d8fa3a"/><circle class="dt" cx="1397.8" cy="411.7" r="2.45"/><path d="M1407.09 401.4l7.8 -7.8l7.8 7.8l-7.8 7.8z" fill="#d8fa3a"/><circle class="dt" cx="1414.89" cy="401.4" r="2.45"/><path d="M1424.18 391.25l7.8 -7.8l7.8 7.8l-7.8 7.8z" fill="#d8fa3a"/><circle class="dt" cx="1431.98" cy="391.25" r="2.45"/><path d="M1441.27 381.59l7.8 -7.8l7.8 7.8l-7.8 7.8z" fill="#d8fa3a"/><circle class="dt" cx="1449.07" cy="381.59" r="2.45"/><path d="M1458.36 371.93l7.8 -7.8l7.8 7.8l-7.8 7.8z" fill="#d8fa3a"/><circle class="dt" cx="1466.16" cy="371.93" r="2.45"/><path d="M1475.46 362.27l7.8 -7.8l7.8 7.8l-7.8 7.8z" fill="#d8fa3a"/><circle class="dt" cx="1483.26" cy="362.27" r="2.45"/><path d="M1492.55 352.16l7.8 -7.8l7.8 7.8l-7.8 7.8z" fill="#d8fa3a"/><circle class="dt" cx="1500.35" cy="352.16" r="2.45"/><path d="M1509.64 342.39l7.8 -7.8l7.8 7.8l-7.8 7.8z" fill="#d8fa3a"/><circle class="dt" cx="1517.44" cy="342.39" r="2.45"/><path d="M1526.73 333.86l7.8 -7.8l7.8 7.8l-7.8 7.8z" fill="#d8fa3a"/><circle class="dt" cx="1534.53" cy="333.86" r="2.45"/><path d="M1543.82 324.77l7.8 -7.8l7.8 7.8l-7.8 7.8z" fill="#d8fa3a"/><circle class="dt" cx="1551.62" cy="324.77" r="2.45"/><path d="M1560.92 316.04l7.8 -7.8l7.8 7.8l-7.8 7.8z" fill="#d8fa3a"/><circle class="dt" cx="1568.72" cy="316.04" r="2.45"/><path d="M1578.01 307.45l7.8 -7.8l7.8 7.8l-7.8 7.8z" fill="#d8fa3a"/><circle class="dt" cx="1585.81" cy="307.45" r="2.45"/><path d="M1595.1 298.64l7.8 -7.8l7.8 7.8l-7.8 7.8z" fill="#d8fa3a"/><circle class="dt" cx="1602.9" cy="298.64" r="2.45"/><path d="M1612.19 289.04l7.8 -7.8l7.8 7.8l-7.8 7.8z" fill="#d8fa3a"/><circle class="dt" cx="1619.99" cy="289.04" r="2.45"/><path d="M1629.28 279.89l7.8 -7.8l7.8 7.8l-7.8 7.8z" fill="#d8fa3a"/><circle class="dt" cx="1637.08" cy="279.89" r="2.45"/><path d="M1646.38 272.5l7.8 -7.8l7.8 7.8l-7.8 7.8z" fill="#d8fa3a"/><circle class="dt" cx="1654.18" cy="272.5" r="2.45"/><path d="M1663.47 264.37l7.8 -7.8l7.8 7.8l-7.8 7.8z" fill="#d8fa3a"/><circle class="dt" cx="1671.27" cy="264.37" r="2.45"/><path d="M1680.56 256.59l7.8 -7.8l7.8 7.8l-7.8 7.8z" fill="#d8fa3a"/><circle class="dt" cx="1688.36" cy="256.59" r="2.45"/><path d="M1697.65 250.34l7.8 -7.8l7.8 7.8l-7.8 7.8z" fill="#d8fa3a"/><circle class="dt" cx="1705.45" cy="250.34" r="2.45"/><path d="M1714.74 247l7.8 -7.8l7.8 7.8l-7.8 7.8z" fill="#d8fa3a"/><circle class="dt" cx="1722.54" cy="247" r="2.45"/><path d="M1731.84 244.66l7.8 -7.8l7.8 7.8l-7.8 7.8z" fill="#d8fa3a"/><circle class="dt" cx="1739.64" cy="244.66" r="2.45"/><path d="M1748.93 242.96l7.8 -7.8l7.8 7.8l-7.8 7.8z" fill="#d8fa3a"/><circle class="dt" cx="1756.73" cy="242.96" r="2.45"/><path d="M1766.02 242.96l7.8 -7.8l7.8 7.8l-7.8 7.8z" fill="#d8fa3a"/><circle class="dt" cx="1773.82" cy="242.96" r="2.45"/></g>
<g><path d="M1167.5 574.2l8.1 -8.1l8.1 8.1l-8.1 8.1z" fill="none" stroke="#f8e822" stroke-width="1.45" opacity="0.66"/><circle class="dt" cx="1175.6" cy="574.2" r="2.45"/><path d="M1184.59 550.96l8.1 -8.1l8.1 8.1l-8.1 8.1z" fill="none" stroke="#f8e822" stroke-width="1.45" opacity="0.66"/><circle class="dt" cx="1192.69" cy="550.96" r="2.45"/><path d="M1201.68 544.15l8.1 -8.1l8.1 8.1l-8.1 8.1z" fill="none" stroke="#f8e822" stroke-width="1.45" opacity="0.66"/><circle class="dt" cx="1209.78" cy="544.15" r="2.45"/><path d="M1218.78 529.41l8.1 -8.1l8.1 8.1l-8.1 8.1z" fill="none" stroke="#f8e822" stroke-width="1.45" opacity="0.66"/><circle class="dt" cx="1226.88" cy="529.41" r="2.45"/><path d="M1235.87 514.67l8.1 -8.1l8.1 8.1l-8.1 8.1z" fill="none" stroke="#f8e822" stroke-width="1.45" opacity="0.66"/><circle class="dt" cx="1243.97" cy="514.67" r="2.45"/><path d="M1252.96 502.2l8.1 -8.1l8.1 8.1l-8.1 8.1z" fill="none" stroke="#f8e822" stroke-width="1.45" opacity="0.66"/><circle class="dt" cx="1261.06" cy="502.2" r="2.45"/><path d="M1270.05 488.02l8.1 -8.1l8.1 8.1l-8.1 8.1z" fill="none" stroke="#f8e822" stroke-width="1.45" opacity="0.66"/><circle class="dt" cx="1278.15" cy="488.02" r="2.45"/><path d="M1287.14 475.55l8.1 -8.1l8.1 8.1l-8.1 8.1z" fill="none" stroke="#f8e822" stroke-width="1.45" opacity="0.66"/><circle class="dt" cx="1295.24" cy="475.55" r="2.45"/><path d="M1304.24 463.65l8.1 -8.1l8.1 8.1l-8.1 8.1z" fill="none" stroke="#f8e822" stroke-width="1.45" opacity="0.66"/><circle class="dt" cx="1312.34" cy="463.65" r="2.45"/><path d="M1321.33 452.87l8.1 -8.1l8.1 8.1l-8.1 8.1z" fill="none" stroke="#f8e822" stroke-width="1.45" opacity="0.66"/><circle class="dt" cx="1329.43" cy="452.87" r="2.45"/><path d="M1338.42 438.7l8.1 -8.1l8.1 8.1l-8.1 8.1z" fill="none" stroke="#f8e822" stroke-width="1.45" opacity="0.66"/><circle class="dt" cx="1346.52" cy="438.7" r="2.45"/><path d="M1355.51 426.79l8.1 -8.1l8.1 8.1l-8.1 8.1z" fill="none" stroke="#f8e822" stroke-width="1.45" opacity="0.66"/><circle class="dt" cx="1363.61" cy="426.79" r="2.45"/><path d="M1372.6 416.82l8.1 -8.1l8.1 8.1l-8.1 8.1z" fill="none" stroke="#f8e822" stroke-width="1.45" opacity="0.66"/><circle class="dt" cx="1380.7" cy="416.82" r="2.45"/><path d="M1389.7 405.35l8.1 -8.1l8.1 8.1l-8.1 8.1z" fill="none" stroke="#f8e822" stroke-width="1.45" opacity="0.66"/><circle class="dt" cx="1397.8" cy="405.35" r="2.45"/><path d="M1406.79 394.15l8.1 -8.1l8.1 8.1l-8.1 8.1z" fill="none" stroke="#f8e822" stroke-width="1.45" opacity="0.66"/><circle class="dt" cx="1414.89" cy="394.15" r="2.45"/><path d="M1423.88 383.29l8.1 -8.1l8.1 8.1l-8.1 8.1z" fill="none" stroke="#f8e822" stroke-width="1.45" opacity="0.66"/><circle class="dt" cx="1431.98" cy="383.29" r="2.45"/><path d="M1440.97 372.52l8.1 -8.1l8.1 8.1l-8.1 8.1z" fill="none" stroke="#f8e822" stroke-width="1.45" opacity="0.66"/><circle class="dt" cx="1449.07" cy="372.52" r="2.45"/><path d="M1458.06 361.75l8.1 -8.1l8.1 8.1l-8.1 8.1z" fill="none" stroke="#f8e822" stroke-width="1.45" opacity="0.66"/><circle class="dt" cx="1466.16" cy="361.75" r="2.45"/><path d="M1475.16 351.31l8.1 -8.1l8.1 8.1l-8.1 8.1z" fill="none" stroke="#f8e822" stroke-width="1.45" opacity="0.66"/><circle class="dt" cx="1483.26" cy="351.31" r="2.45"/><path d="M1492.25 341.52l8.1 -8.1l8.1 8.1l-8.1 8.1z" fill="none" stroke="#f8e822" stroke-width="1.45" opacity="0.66"/><circle class="dt" cx="1500.35" cy="341.52" r="2.45"/><path d="M1509.34 332.73l8.1 -8.1l8.1 8.1l-8.1 8.1z" fill="none" stroke="#f8e822" stroke-width="1.45" opacity="0.66"/><circle class="dt" cx="1517.44" cy="332.73" r="2.45"/><path d="M1526.43 325.15l8.1 -8.1l8.1 8.1l-8.1 8.1z" fill="none" stroke="#f8e822" stroke-width="1.45" opacity="0.66"/><circle class="dt" cx="1534.53" cy="325.15" r="2.45"/><path d="M1543.52 318.38l8.1 -8.1l8.1 8.1l-8.1 8.1z" fill="none" stroke="#f8e822" stroke-width="1.45" opacity="0.66"/><circle class="dt" cx="1551.62" cy="318.38" r="2.45"/><path d="M1560.62 311.83l8.1 -8.1l8.1 8.1l-8.1 8.1z" fill="none" stroke="#f8e822" stroke-width="1.45" opacity="0.66"/><circle class="dt" cx="1568.72" cy="311.83" r="2.45"/><path d="M1577.71 304.89l8.1 -8.1l8.1 8.1l-8.1 8.1z" fill="none" stroke="#f8e822" stroke-width="1.45" opacity="0.66"/><circle class="dt" cx="1585.81" cy="304.89" r="2.45"/><path d="M1594.8 297.41l8.1 -8.1l8.1 8.1l-8.1 8.1z" fill="none" stroke="#f8e822" stroke-width="1.45" opacity="0.66"/><circle class="dt" cx="1602.9" cy="297.41" r="2.45"/><path d="M1611.89 289.55l8.1 -8.1l8.1 8.1l-8.1 8.1z" fill="none" stroke="#f8e822" stroke-width="1.45" opacity="0.66"/><circle class="dt" cx="1619.99" cy="289.55" r="2.45"/><path d="M1628.98 281.02l8.1 -8.1l8.1 8.1l-8.1 8.1z" fill="none" stroke="#f8e822" stroke-width="1.45" opacity="0.66"/><circle class="dt" cx="1637.08" cy="281.02" r="2.45"/><path d="M1646.08 273.07l8.1 -8.1l8.1 8.1l-8.1 8.1z" fill="none" stroke="#f8e822" stroke-width="1.45" opacity="0.66"/><circle class="dt" cx="1654.18" cy="273.07" r="2.45"/><path d="M1663.17 265.12l8.1 -8.1l8.1 8.1l-8.1 8.1z" fill="none" stroke="#f8e822" stroke-width="1.45" opacity="0.66"/><circle class="dt" cx="1671.27" cy="265.12" r="2.45"/><path d="M1680.26 257.16l8.1 -8.1l8.1 8.1l-8.1 8.1z" fill="none" stroke="#f8e822" stroke-width="1.45" opacity="0.66"/><circle class="dt" cx="1688.36" cy="257.16" r="2.45"/><path d="M1697.35 250.34l8.1 -8.1l8.1 8.1l-8.1 8.1z" fill="none" stroke="#f8e822" stroke-width="1.45" opacity="0.66"/><circle class="dt" cx="1705.45" cy="250.34" r="2.45"/><path d="M1714.44 242.39l8.1 -8.1l8.1 8.1l-8.1 8.1z" fill="none" stroke="#f8e822" stroke-width="1.45" opacity="0.66"/><circle class="dt" cx="1722.54" cy="242.39" r="2.45"/><path d="M1731.54 236.14l8.1 -8.1l8.1 8.1l-8.1 8.1z" fill="none" stroke="#f8e822" stroke-width="1.45" opacity="0.66"/><circle class="dt" cx="1739.64" cy="236.14" r="2.45"/><path d="M1748.63 230.03l8.1 -8.1l8.1 8.1l-8.1 8.1z" fill="none" stroke="#f8e822" stroke-width="1.45" opacity="0.66"/><circle class="dt" cx="1756.73" cy="230.03" r="2.45"/><path d="M1765.72 223.64l8.1 -8.1l8.1 8.1l-8.1 8.1z" fill="none" stroke="#f8e822" stroke-width="1.45" opacity="0.66"/><circle class="dt" cx="1773.82" cy="223.64" r="2.45"/><path d="M1782.81 216.25l8.1 -8.1l8.1 8.1l-8.1 8.1z" fill="none" stroke="#f8e822" stroke-width="1.45" opacity="0.66"/><circle class="dt" cx="1790.91" cy="216.25" r="2.45"/><path d="M1799.9 208.87l8.1 -8.1l8.1 8.1l-8.1 8.1z" fill="none" stroke="#f8e822" stroke-width="1.45" opacity="0.66"/><circle class="dt" cx="1808" cy="208.87" r="2.45"/><path d="M1817 201.48l8.1 -8.1l8.1 8.1l-8.1 8.1z" fill="none" stroke="#f8e822" stroke-width="1.45" opacity="0.66"/><circle class="dt" cx="1825.1" cy="201.48" r="2.45"/><path d="M1834.09 193.92l8.1 -8.1l8.1 8.1l-8.1 8.1z" fill="none" stroke="#f8e822" stroke-width="1.45" opacity="0.66"/><circle class="dt" cx="1842.19" cy="193.92" r="2.45"/><path d="M1851.18 186.71l8.1 -8.1l8.1 8.1l-8.1 8.1z" fill="none" stroke="#f8e822" stroke-width="1.45" opacity="0.66"/><circle class="dt" cx="1859.28" cy="186.71" r="2.45"/><path d="M1868.27 180.46l8.1 -8.1l8.1 8.1l-8.1 8.1z" fill="none" stroke="#f8e822" stroke-width="1.45" opacity="0.66"/><circle class="dt" cx="1876.37" cy="180.46" r="2.45"/><path d="M1885.36 174.78l8.1 -8.1l8.1 8.1l-8.1 8.1z" fill="none" stroke="#f8e822" stroke-width="1.45" opacity="0.66"/><circle class="dt" cx="1893.46" cy="174.78" r="2.45"/><path d="M1902.46 169.09l8.1 -8.1l8.1 8.1l-8.1 8.1z" fill="none" stroke="#f8e822" stroke-width="1.45" opacity="0.66"/><circle class="dt" cx="1910.56" cy="169.09" r="2.45"/><path d="M1919.55 163.41l8.1 -8.1l8.1 8.1l-8.1 8.1z" fill="none" stroke="#f8e822" stroke-width="1.45" opacity="0.66"/><circle class="dt" cx="1927.65" cy="163.41" r="2.45"/><path d="M1936.64 159.44l8.1 -8.1l8.1 8.1l-8.1 8.1z" fill="none" stroke="#f8e822" stroke-width="1.45" opacity="0.66"/><circle class="dt" cx="1944.74" cy="159.44" r="2.45"/><path d="M1953.73 160.57l8.1 -8.1l8.1 8.1l-8.1 8.1z" fill="none" stroke="#f8e822" stroke-width="1.45" opacity="0.66"/><circle class="dt" cx="1961.83" cy="160.57" r="2.45"/></g>
<g><circle cx="1175.6" cy="574.2" r="8" fill="#f2b62c"/><circle class="dt" cx="1175.6" cy="574.2" r="2.45"/><circle cx="1192.69" cy="550.87" r="8" fill="#f2b62c"/><circle class="dt" cx="1192.69" cy="550.87" r="2.45"/><circle cx="1209.78" cy="544.04" r="8" fill="#f2b62c"/><circle class="dt" cx="1209.78" cy="544.04" r="2.45"/><circle cx="1226.88" cy="529.25" r="8" fill="#f2b62c"/><circle class="dt" cx="1226.88" cy="529.25" r="2.45"/><circle cx="1243.97" cy="514.46" r="8" fill="#f2b62c"/><circle class="dt" cx="1243.97" cy="514.46" r="2.45"/><circle cx="1261.06" cy="501.94" r="8" fill="#f2b62c"/><circle class="dt" cx="1261.06" cy="501.94" r="2.45"/><circle cx="1278.15" cy="487.71" r="8" fill="#f2b62c"/><circle class="dt" cx="1278.15" cy="487.71" r="2.45"/><circle cx="1295.24" cy="475.2" r="8" fill="#f2b62c"/><circle class="dt" cx="1295.24" cy="475.2" r="2.45"/><circle cx="1312.34" cy="463.25" r="8" fill="#f2b62c"/><circle class="dt" cx="1312.34" cy="463.25" r="2.45"/><circle cx="1329.43" cy="452.44" r="8" fill="#f2b62c"/><circle class="dt" cx="1329.43" cy="452.44" r="2.45"/><circle cx="1346.52" cy="438.21" r="8" fill="#f2b62c"/><circle class="dt" cx="1346.52" cy="438.21" r="2.45"/><circle cx="1363.61" cy="426.26" r="8" fill="#f2b62c"/><circle class="dt" cx="1363.61" cy="426.26" r="2.45"/><circle cx="1380.7" cy="416.25" r="8" fill="#f2b62c"/><circle class="dt" cx="1380.7" cy="416.25" r="2.45"/><circle cx="1397.8" cy="404.82" r="8" fill="#f2b62c"/><circle class="dt" cx="1397.8" cy="404.82" r="2.45"/><circle cx="1414.89" cy="393.64" r="8" fill="#f2b62c"/><circle class="dt" cx="1414.89" cy="393.64" r="2.45"/><circle cx="1431.98" cy="382.73" r="8" fill="#f2b62c"/><circle class="dt" cx="1431.98" cy="382.73" r="2.45"/><circle cx="1449.07" cy="372.05" r="8" fill="#f2b62c"/><circle class="dt" cx="1449.07" cy="372.05" r="2.45"/><circle cx="1466.16" cy="361.63" r="8" fill="#f2b62c"/><circle class="dt" cx="1466.16" cy="361.63" r="2.45"/><circle cx="1483.26" cy="351.48" r="8" fill="#f2b62c"/><circle class="dt" cx="1483.26" cy="351.48" r="2.45"/><circle cx="1500.35" cy="341.57" r="8" fill="#f2b62c"/><circle class="dt" cx="1500.35" cy="341.57" r="2.45"/><circle cx="1517.44" cy="332.16" r="8" fill="#f2b62c"/><circle class="dt" cx="1517.44" cy="332.16" r="2.45"/><circle cx="1534.53" cy="323.64" r="8" fill="#f2b62c"/><circle class="dt" cx="1534.53" cy="323.64" r="2.45"/><circle cx="1551.62" cy="312.27" r="8" fill="#f2b62c"/><circle class="dt" cx="1551.62" cy="312.27" r="2.45"/><circle cx="1568.72" cy="302.61" r="8" fill="#f2b62c"/><circle class="dt" cx="1568.72" cy="302.61" r="2.45"/><circle cx="1585.81" cy="294.94" r="8" fill="#f2b62c"/><circle class="dt" cx="1585.81" cy="294.94" r="2.45"/><circle cx="1602.9" cy="289.55" r="8" fill="#f2b62c"/><circle class="dt" cx="1602.9" cy="289.55" r="2.45"/><circle cx="1619.99" cy="288.41" r="8" fill="#f2b62c"/><circle class="dt" cx="1619.99" cy="288.41" r="2.45"/><circle cx="1637.08" cy="285.8" r="8" fill="#f2b62c"/><circle class="dt" cx="1637.08" cy="285.8" r="2.45"/><circle cx="1654.18" cy="286.71" r="8" fill="#f2b62c"/><circle class="dt" cx="1654.18" cy="286.71" r="2.45"/></g>
<g><rect x="1168.1" y="566.7" width="15" height="15" fill="none" stroke="#f0862e" stroke-width="1.45" opacity="0.66"/><circle class="dt" cx="1175.6" cy="574.2" r="2.45"/><rect x="1185.19" y="543.37" width="15" height="15" fill="none" stroke="#f0862e" stroke-width="1.45" opacity="0.66"/><circle class="dt" cx="1192.69" cy="550.87" r="2.45"/><rect x="1202.28" y="536.54" width="15" height="15" fill="none" stroke="#f0862e" stroke-width="1.45" opacity="0.66"/><circle class="dt" cx="1209.78" cy="544.04" r="2.45"/><rect x="1219.38" y="521.75" width="15" height="15" fill="none" stroke="#f0862e" stroke-width="1.45" opacity="0.66"/><circle class="dt" cx="1226.88" cy="529.25" r="2.45"/><rect x="1236.47" y="506.96" width="15" height="15" fill="none" stroke="#f0862e" stroke-width="1.45" opacity="0.66"/><circle class="dt" cx="1243.97" cy="514.46" r="2.45"/><rect x="1253.56" y="494.44" width="15" height="15" fill="none" stroke="#f0862e" stroke-width="1.45" opacity="0.66"/><circle class="dt" cx="1261.06" cy="501.94" r="2.45"/><rect x="1270.65" y="480.21" width="15" height="15" fill="none" stroke="#f0862e" stroke-width="1.45" opacity="0.66"/><circle class="dt" cx="1278.15" cy="487.71" r="2.45"/><rect x="1287.74" y="467.7" width="15" height="15" fill="none" stroke="#f0862e" stroke-width="1.45" opacity="0.66"/><circle class="dt" cx="1295.24" cy="475.2" r="2.45"/><rect x="1304.84" y="455.75" width="15" height="15" fill="none" stroke="#f0862e" stroke-width="1.45" opacity="0.66"/><circle class="dt" cx="1312.34" cy="463.25" r="2.45"/><rect x="1321.93" y="444.94" width="15" height="15" fill="none" stroke="#f0862e" stroke-width="1.45" opacity="0.66"/><circle class="dt" cx="1329.43" cy="452.44" r="2.45"/><rect x="1339.02" y="430.71" width="15" height="15" fill="none" stroke="#f0862e" stroke-width="1.45" opacity="0.66"/><circle class="dt" cx="1346.52" cy="438.21" r="2.45"/><rect x="1356.11" y="418.76" width="15" height="15" fill="none" stroke="#f0862e" stroke-width="1.45" opacity="0.66"/><circle class="dt" cx="1363.61" cy="426.26" r="2.45"/><rect x="1373.2" y="408.75" width="15" height="15" fill="none" stroke="#f0862e" stroke-width="1.45" opacity="0.66"/><circle class="dt" cx="1380.7" cy="416.25" r="2.45"/><rect x="1390.3" y="397.04" width="15" height="15" fill="none" stroke="#f0862e" stroke-width="1.45" opacity="0.66"/><circle class="dt" cx="1397.8" cy="404.54" r="2.45"/><rect x="1407.39" y="385.65" width="15" height="15" fill="none" stroke="#f0862e" stroke-width="1.45" opacity="0.66"/><circle class="dt" cx="1414.89" cy="393.15" r="2.45"/><rect x="1424.48" y="374.66" width="15" height="15" fill="none" stroke="#f0862e" stroke-width="1.45" opacity="0.66"/><circle class="dt" cx="1431.98" cy="382.16" r="2.45"/><rect x="1441.57" y="363.81" width="15" height="15" fill="none" stroke="#f0862e" stroke-width="1.45" opacity="0.66"/><circle class="dt" cx="1449.07" cy="371.31" r="2.45"/><rect x="1458.66" y="353" width="15" height="15" fill="none" stroke="#f0862e" stroke-width="1.45" opacity="0.66"/><circle class="dt" cx="1466.16" cy="360.5" r="2.45"/><rect x="1475.76" y="342.55" width="15" height="15" fill="none" stroke="#f0862e" stroke-width="1.45" opacity="0.66"/><circle class="dt" cx="1483.26" cy="350.05" r="2.45"/><rect x="1492.85" y="332.81" width="15" height="15" fill="none" stroke="#f0862e" stroke-width="1.45" opacity="0.66"/><circle class="dt" cx="1500.35" cy="340.31" r="2.45"/><rect x="1509.94" y="324.09" width="15" height="15" fill="none" stroke="#f0862e" stroke-width="1.45" opacity="0.66"/><circle class="dt" cx="1517.44" cy="331.59" r="2.45"/><rect x="1527.03" y="316.67" width="15" height="15" fill="none" stroke="#f0862e" stroke-width="1.45" opacity="0.66"/><circle class="dt" cx="1534.53" cy="324.17" r="2.45"/><rect x="1544.12" y="310.11" width="15" height="15" fill="none" stroke="#f0862e" stroke-width="1.45" opacity="0.66"/><circle class="dt" cx="1551.62" cy="317.61" r="2.45"/><rect x="1561.22" y="303.73" width="15" height="15" fill="none" stroke="#f0862e" stroke-width="1.45" opacity="0.66"/><circle class="dt" cx="1568.72" cy="311.23" r="2.45"/><rect x="1578.31" y="296.82" width="15" height="15" fill="none" stroke="#f0862e" stroke-width="1.45" opacity="0.66"/><circle class="dt" cx="1585.81" cy="304.32" r="2.45"/><rect x="1595.4" y="289" width="15" height="15" fill="none" stroke="#f0862e" stroke-width="1.45" opacity="0.66"/><circle class="dt" cx="1602.9" cy="296.5" r="2.45"/><rect x="1612.49" y="280.91" width="15" height="15" fill="none" stroke="#f0862e" stroke-width="1.45" opacity="0.66"/><circle class="dt" cx="1619.99" cy="288.41" r="2.45"/><rect x="1629.58" y="272.96" width="15" height="15" fill="none" stroke="#f0862e" stroke-width="1.45" opacity="0.66"/><circle class="dt" cx="1637.08" cy="280.46" r="2.45"/><rect x="1646.68" y="265" width="15" height="15" fill="none" stroke="#f0862e" stroke-width="1.45" opacity="0.66"/><circle class="dt" cx="1654.18" cy="272.5" r="2.45"/><rect x="1663.77" y="257.05" width="15" height="15" fill="none" stroke="#f0862e" stroke-width="1.45" opacity="0.66"/><circle class="dt" cx="1671.27" cy="264.55" r="2.45"/><rect x="1680.86" y="249.09" width="15" height="15" fill="none" stroke="#f0862e" stroke-width="1.45" opacity="0.66"/><circle class="dt" cx="1688.36" cy="256.59" r="2.45"/><rect x="1697.95" y="242.27" width="15" height="15" fill="none" stroke="#f0862e" stroke-width="1.45" opacity="0.66"/><circle class="dt" cx="1705.45" cy="249.77" r="2.45"/><rect x="1715.04" y="234.32" width="15" height="15" fill="none" stroke="#f0862e" stroke-width="1.45" opacity="0.66"/><circle class="dt" cx="1722.54" cy="241.82" r="2.45"/><rect x="1732.14" y="228.07" width="15" height="15" fill="none" stroke="#f0862e" stroke-width="1.45" opacity="0.66"/><circle class="dt" cx="1739.64" cy="235.57" r="2.45"/><rect x="1749.23" y="221.97" width="15" height="15" fill="none" stroke="#f0862e" stroke-width="1.45" opacity="0.66"/><circle class="dt" cx="1756.73" cy="229.47" r="2.45"/><rect x="1766.32" y="215.57" width="15" height="15" fill="none" stroke="#f0862e" stroke-width="1.45" opacity="0.66"/><circle class="dt" cx="1773.82" cy="223.07" r="2.45"/><rect x="1783.41" y="208.18" width="15" height="15" fill="none" stroke="#f0862e" stroke-width="1.45" opacity="0.66"/><circle class="dt" cx="1790.91" cy="215.68" r="2.45"/><rect x="1800.5" y="200.97" width="15" height="15" fill="none" stroke="#f0862e" stroke-width="1.45" opacity="0.66"/><circle class="dt" cx="1808" cy="208.47" r="2.45"/><rect x="1817.6" y="193.53" width="15" height="15" fill="none" stroke="#f0862e" stroke-width="1.45" opacity="0.66"/><circle class="dt" cx="1825.1" cy="201.03" r="2.45"/><rect x="1834.69" y="186.03" width="15" height="15" fill="none" stroke="#f0862e" stroke-width="1.45" opacity="0.66"/><circle class="dt" cx="1842.19" cy="193.53" r="2.45"/><rect x="1851.78" y="178.7" width="15" height="15" fill="none" stroke="#f0862e" stroke-width="1.45" opacity="0.66"/><circle class="dt" cx="1859.28" cy="186.2" r="2.45"/><rect x="1868.87" y="171.54" width="15" height="15" fill="none" stroke="#f0862e" stroke-width="1.45" opacity="0.66"/><circle class="dt" cx="1876.37" cy="179.04" r="2.45"/><rect x="1885.96" y="163.58" width="15" height="15" fill="none" stroke="#f0862e" stroke-width="1.45" opacity="0.66"/><circle class="dt" cx="1893.46" cy="171.08" r="2.45"/><rect x="1903.06" y="155.91" width="15" height="15" fill="none" stroke="#f0862e" stroke-width="1.45" opacity="0.66"/><circle class="dt" cx="1910.56" cy="163.41" r="2.45"/><rect x="1920.15" y="149.95" width="15" height="15" fill="none" stroke="#f0862e" stroke-width="1.45" opacity="0.66"/><circle class="dt" cx="1927.65" cy="157.45" r="2.45"/><rect x="1937.24" y="147.96" width="15" height="15" fill="none" stroke="#f0862e" stroke-width="1.45" opacity="0.66"/><circle class="dt" cx="1944.74" cy="155.46" r="2.45"/><rect x="1954.33" y="148.81" width="15" height="15" fill="none" stroke="#f0862e" stroke-width="1.45" opacity="0.66"/><circle class="dt" cx="1961.83" cy="156.31" r="2.45"/></g>
<g><rect x="1168" y="566.6" width="15.2" height="15.2" fill="#e23e12"/><circle class="dt" cx="1175.6" cy="574.2" r="2.45"/><rect x="1185.09" y="543.3" width="15.2" height="15.2" fill="#e23e12"/><circle class="dt" cx="1192.69" cy="550.9" r="2.45"/><rect x="1202.18" y="536.49" width="15.2" height="15.2" fill="#e23e12"/><circle class="dt" cx="1209.78" cy="544.09" r="2.45"/><rect x="1219.28" y="521.71" width="15.2" height="15.2" fill="#e23e12"/><circle class="dt" cx="1226.88" cy="529.31" r="2.45"/><rect x="1236.37" y="506.94" width="15.2" height="15.2" fill="#e23e12"/><circle class="dt" cx="1243.97" cy="514.54" r="2.45"/><rect x="1253.46" y="494.44" width="15.2" height="15.2" fill="#e23e12"/><circle class="dt" cx="1261.06" cy="502.04" r="2.45"/><rect x="1270.55" y="480.24" width="15.2" height="15.2" fill="#e23e12"/><circle class="dt" cx="1278.15" cy="487.84" r="2.45"/><rect x="1287.64" y="467.74" width="15.2" height="15.2" fill="#e23e12"/><circle class="dt" cx="1295.24" cy="475.34" r="2.45"/><rect x="1304.74" y="455.81" width="15.2" height="15.2" fill="#e23e12"/><circle class="dt" cx="1312.34" cy="463.41" r="2.45"/><rect x="1321.83" y="445.01" width="15.2" height="15.2" fill="#e23e12"/><circle class="dt" cx="1329.43" cy="452.61" r="2.45"/><rect x="1338.92" y="430.81" width="15.2" height="15.2" fill="#e23e12"/><circle class="dt" cx="1346.52" cy="438.41" r="2.45"/><rect x="1356.01" y="418.88" width="15.2" height="15.2" fill="#e23e12"/><circle class="dt" cx="1363.61" cy="426.48" r="2.45"/><rect x="1373.1" y="408.88" width="15.2" height="15.2" fill="#e23e12"/><circle class="dt" cx="1380.7" cy="416.48" r="2.45"/><rect x="1390.2" y="397.29" width="15.2" height="15.2" fill="#e23e12"/><circle class="dt" cx="1397.8" cy="404.89" r="2.45"/><rect x="1407.29" y="385.92" width="15.2" height="15.2" fill="#e23e12"/><circle class="dt" cx="1414.89" cy="393.52" r="2.45"/><rect x="1424.38" y="375.13" width="15.2" height="15.2" fill="#e23e12"/><circle class="dt" cx="1431.98" cy="382.73" r="2.45"/><rect x="1441.47" y="363.99" width="15.2" height="15.2" fill="#e23e12"/><circle class="dt" cx="1449.07" cy="371.59" r="2.45"/><rect x="1458.56" y="353.71" width="15.2" height="15.2" fill="#e23e12"/><circle class="dt" cx="1466.16" cy="361.31" r="2.45"/><rect x="1475.66" y="344.1" width="15.2" height="15.2" fill="#e23e12"/><circle class="dt" cx="1483.26" cy="351.7" r="2.45"/><rect x="1492.75" y="334.79" width="15.2" height="15.2" fill="#e23e12"/><circle class="dt" cx="1500.35" cy="342.39" r="2.45"/><rect x="1509.84" y="324.84" width="15.2" height="15.2" fill="#e23e12"/><circle class="dt" cx="1517.44" cy="332.44" r="2.45"/><rect x="1526.93" y="316.43" width="15.2" height="15.2" fill="#e23e12"/><circle class="dt" cx="1534.53" cy="324.03" r="2.45"/><rect x="1544.02" y="306.66" width="15.2" height="15.2" fill="#e23e12"/><circle class="dt" cx="1551.62" cy="314.26" r="2.45"/><rect x="1561.12" y="300.36" width="15.2" height="15.2" fill="#e23e12"/><circle class="dt" cx="1568.72" cy="307.96" r="2.45"/><rect x="1578.21" y="299.84" width="15.2" height="15.2" fill="#e23e12"/><circle class="dt" cx="1585.81" cy="307.44" r="2.45"/><rect x="1595.3" y="302.8" width="15.2" height="15.2" fill="#e23e12"/><circle class="dt" cx="1602.9" cy="310.4" r="2.45"/></g>
<g><path d="M1167.8 574.2l7.8 -7.8l7.8 7.8l-7.8 7.8z" fill="#de0000"/><circle class="dt" cx="1175.6" cy="574.2" r="2.45"/><path d="M1184.89 549.2l7.8 -7.8l7.8 7.8l-7.8 7.8z" fill="#de0000"/><circle class="dt" cx="1192.69" cy="549.2" r="2.45"/><path d="M1201.98 544.09l7.8 -7.8l7.8 7.8l-7.8 7.8z" fill="#de0000"/><circle class="dt" cx="1209.78" cy="544.09" r="2.45"/><path d="M1219.08 528.75l7.8 -7.8l7.8 7.8l-7.8 7.8z" fill="#de0000"/><circle class="dt" cx="1226.88" cy="528.75" r="2.45"/><path d="M1236.17 512.84l7.8 -7.8l7.8 7.8l-7.8 7.8z" fill="#de0000"/><circle class="dt" cx="1243.97" cy="512.84" r="2.45"/><path d="M1253.26 500.91l7.8 -7.8l7.8 7.8l-7.8 7.8z" fill="#de0000"/><circle class="dt" cx="1261.06" cy="500.91" r="2.45"/><path d="M1270.35 485l7.8 -7.8l7.8 7.8l-7.8 7.8z" fill="#de0000"/><circle class="dt" cx="1278.15" cy="485" r="2.45"/><path d="M1287.44 470.79l7.8 -7.8l7.8 7.8l-7.8 7.8z" fill="#de0000"/><circle class="dt" cx="1295.24" cy="470.79" r="2.45"/><path d="M1304.54 457.16l7.8 -7.8l7.8 7.8l-7.8 7.8z" fill="#de0000"/><circle class="dt" cx="1312.34" cy="457.16" r="2.45"/><path d="M1321.63 442.38l7.8 -7.8l7.8 7.8l-7.8 7.8z" fill="#de0000"/><circle class="dt" cx="1329.43" cy="442.38" r="2.45"/><path d="M1338.72 429.32l7.8 -7.8l7.8 7.8l-7.8 7.8z" fill="#de0000"/><circle class="dt" cx="1346.52" cy="429.32" r="2.45"/><path d="M1355.81 414.83l7.8 -7.8l7.8 7.8l-7.8 7.8z" fill="#de0000"/><circle class="dt" cx="1363.61" cy="414.83" r="2.45"/><path d="M1372.9 401.19l7.8 -7.8l7.8 7.8l-7.8 7.8z" fill="#de0000"/><circle class="dt" cx="1380.7" cy="401.19" r="2.45"/><path d="M1390 388.18l7.8 -7.8l7.8 7.8l-7.8 7.8z" fill="#de0000"/><circle class="dt" cx="1397.8" cy="388.18" r="2.45"/><path d="M1407.09 375.51l7.8 -7.8l7.8 7.8l-7.8 7.8z" fill="#de0000"/><circle class="dt" cx="1414.89" cy="375.51" r="2.45"/><path d="M1424.18 362.5l7.8 -7.8l7.8 7.8l-7.8 7.8z" fill="#de0000"/><circle class="dt" cx="1431.98" cy="362.5" r="2.45"/><path d="M1441.27 350.74l7.8 -7.8l7.8 7.8l-7.8 7.8z" fill="#de0000"/><circle class="dt" cx="1449.07" cy="350.74" r="2.45"/><path d="M1458.36 338.41l7.8 -7.8l7.8 7.8l-7.8 7.8z" fill="#de0000"/><circle class="dt" cx="1466.16" cy="338.41" r="2.45"/><path d="M1475.46 326.48l7.8 -7.8l7.8 7.8l-7.8 7.8z" fill="#de0000"/><circle class="dt" cx="1483.26" cy="326.48" r="2.45"/><path d="M1492.55 314.55l7.8 -7.8l7.8 7.8l-7.8 7.8z" fill="#de0000"/><circle class="dt" cx="1500.35" cy="314.55" r="2.45"/><path d="M1509.64 303.18l7.8 -7.8l7.8 7.8l-7.8 7.8z" fill="#de0000"/><circle class="dt" cx="1517.44" cy="303.18" r="2.45"/><path d="M1526.73 291.59l7.8 -7.8l7.8 7.8l-7.8 7.8z" fill="#de0000"/><circle class="dt" cx="1534.53" cy="291.59" r="2.45"/><path d="M1543.82 282.16l7.8 -7.8l7.8 7.8l-7.8 7.8z" fill="#de0000"/><circle class="dt" cx="1551.62" cy="282.16" r="2.45"/><path d="M1560.92 270.51l7.8 -7.8l7.8 7.8l-7.8 7.8z" fill="#de0000"/><circle class="dt" cx="1568.72" cy="270.51" r="2.45"/><path d="M1578.01 259.43l7.8 -7.8l7.8 7.8l-7.8 7.8z" fill="#de0000"/><circle class="dt" cx="1585.81" cy="259.43" r="2.45"/><path d="M1595.1 249.21l7.8 -7.8l7.8 7.8l-7.8 7.8z" fill="#de0000"/><circle class="dt" cx="1602.9" cy="249.21" r="2.45"/><path d="M1612.19 238.41l7.8 -7.8l7.8 7.8l-7.8 7.8z" fill="#de0000"/><circle class="dt" cx="1619.99" cy="238.41" r="2.45"/><path d="M1629.28 228.18l7.8 -7.8l7.8 7.8l-7.8 7.8z" fill="#de0000"/><circle class="dt" cx="1637.08" cy="228.18" r="2.45"/><path d="M1646.38 218.53l7.8 -7.8l7.8 7.8l-7.8 7.8z" fill="#de0000"/><circle class="dt" cx="1654.18" cy="218.53" r="2.45"/><path d="M1663.47 207.73l7.8 -7.8l7.8 7.8l-7.8 7.8z" fill="#de0000"/><circle class="dt" cx="1671.27" cy="207.73" r="2.45"/><path d="M1680.56 199.21l7.8 -7.8l7.8 7.8l-7.8 7.8z" fill="#de0000"/><circle class="dt" cx="1688.36" cy="199.21" r="2.45"/><path d="M1697.65 190.69l7.8 -7.8l7.8 7.8l-7.8 7.8z" fill="#de0000"/><circle class="dt" cx="1705.45" cy="190.69" r="2.45"/><path d="M1714.74 181.59l7.8 -7.8l7.8 7.8l-7.8 7.8z" fill="#de0000"/><circle class="dt" cx="1722.54" cy="181.59" r="2.45"/><path d="M1731.84 174.21l7.8 -7.8l7.8 7.8l-7.8 7.8z" fill="#de0000"/><circle class="dt" cx="1739.64" cy="174.21" r="2.45"/><path d="M1748.93 173.07l7.8 -7.8l7.8 7.8l-7.8 7.8z" fill="#de0000"/><circle class="dt" cx="1756.73" cy="173.07" r="2.45"/><path d="M1766.02 174.21l7.8 -7.8l7.8 7.8l-7.8 7.8z" fill="#de0000"/><circle class="dt" cx="1773.82" cy="174.21" r="2.45"/></g>
<g><circle cx="1175.6" cy="574.2" r="8" fill="#000" opacity="0.4"/><rect class="dt" x="1173.45" y="572.05" width="4.3" height="4.3" rx="0.9"/><circle cx="1192.69" cy="554.31" r="8" fill="#000" opacity="0.4"/><rect class="dt" x="1190.54" y="552.16" width="4.3" height="4.3" rx="0.9"/><circle cx="1209.78" cy="547.5" r="8" fill="#000" opacity="0.4"/><rect class="dt" x="1207.63" y="545.35" width="4.3" height="4.3" rx="0.9"/><circle cx="1226.88" cy="540.68" r="8" fill="#000" opacity="0.4"/><rect class="dt" x="1224.73" y="538.53" width="4.3" height="4.3" rx="0.9"/><circle cx="1243.97" cy="535" r="8" fill="#000" opacity="0.4"/><rect class="dt" x="1241.82" y="532.85" width="4.3" height="4.3" rx="0.9"/><circle cx="1261.06" cy="529.31" r="8" fill="#000" opacity="0.4"/><rect class="dt" x="1258.91" y="527.16" width="4.3" height="4.3" rx="0.9"/><circle cx="1278.15" cy="524.77" r="8" fill="#000" opacity="0.4"/><rect class="dt" x="1276" y="522.62" width="4.3" height="4.3" rx="0.9"/><circle cx="1295.24" cy="521.44" r="8" fill="#000" opacity="0.4"/><rect class="dt" x="1293.09" y="519.29" width="4.3" height="4.3" rx="0.9"/><circle cx="1312.34" cy="519.09" r="8" fill="#000" opacity="0.4"/><rect class="dt" x="1310.19" y="516.94" width="4.3" height="4.3" rx="0.9"/><circle cx="1329.43" cy="517.55" r="8" fill="#000" opacity="0.4"/><rect class="dt" x="1327.28" y="515.4" width="4.3" height="4.3" rx="0.9"/><circle cx="1346.52" cy="516.81" r="8" fill="#000" opacity="0.4"/><rect class="dt" x="1344.37" y="514.66" width="4.3" height="4.3" rx="0.9"/><circle cx="1363.61" cy="516.81" r="8" fill="#000" opacity="0.4"/><rect class="dt" x="1361.46" y="514.66" width="4.3" height="4.3" rx="0.9"/><circle cx="1380.7" cy="516.81" r="8" fill="#000" opacity="0.4"/><rect class="dt" x="1378.55" y="514.66" width="4.3" height="4.3" rx="0.9"/><circle cx="1397.8" cy="517.41" r="8" fill="#000" opacity="0.4"/><rect class="dt" x="1395.65" y="515.26" width="4.3" height="4.3" rx="0.9"/><circle cx="1414.89" cy="518.76" r="8" fill="#000" opacity="0.4"/><rect class="dt" x="1412.74" y="516.61" width="4.3" height="4.3" rx="0.9"/><circle cx="1431.98" cy="520.22" r="8" fill="#000" opacity="0.4"/><rect class="dt" x="1429.83" y="518.07" width="4.3" height="4.3" rx="0.9"/><circle cx="1449.07" cy="521.74" r="8" fill="#000" opacity="0.4"/><rect class="dt" x="1446.92" y="519.59" width="4.3" height="4.3" rx="0.9"/><circle cx="1466.16" cy="523.4" r="8" fill="#000" opacity="0.4"/><rect class="dt" x="1464.01" y="521.25" width="4.3" height="4.3" rx="0.9"/><circle cx="1483.26" cy="524.77" r="8" fill="#000" opacity="0.4"/><rect class="dt" x="1481.11" y="522.62" width="4.3" height="4.3" rx="0.9"/><circle cx="1500.35" cy="525.84" r="8" fill="#000" opacity="0.4"/><rect class="dt" x="1498.2" y="523.69" width="4.3" height="4.3" rx="0.9"/><circle cx="1517.44" cy="526.47" r="8" fill="#000" opacity="0.4"/><rect class="dt" x="1515.29" y="524.32" width="4.3" height="4.3" rx="0.9"/><circle cx="1534.53" cy="526.59" r="8" fill="#000" opacity="0.4"/><rect class="dt" x="1532.38" y="524.44" width="4.3" height="4.3" rx="0.9"/><circle cx="1551.62" cy="527.44" r="8" fill="#000" opacity="0.4"/><rect class="dt" x="1549.47" y="525.29" width="4.3" height="4.3" rx="0.9"/><circle cx="1568.72" cy="526.08" r="8" fill="#000" opacity="0.4"/><rect class="dt" x="1566.57" y="523.93" width="4.3" height="4.3" rx="0.9"/><circle cx="1585.81" cy="523.92" r="8" fill="#000" opacity="0.4"/><rect class="dt" x="1583.66" y="521.77" width="4.3" height="4.3" rx="0.9"/><circle cx="1602.9" cy="516.87" r="8" fill="#000" opacity="0.4"/><rect class="dt" x="1600.75" y="514.72" width="4.3" height="4.3" rx="0.9"/><circle cx="1619.99" cy="514.2" r="8" fill="#000" opacity="0.4"/><rect class="dt" x="1617.84" y="512.05" width="4.3" height="4.3" rx="0.9"/><circle cx="1637.08" cy="509.77" r="8" fill="#000" opacity="0.4"/><rect class="dt" x="1634.93" y="507.62" width="4.3" height="4.3" rx="0.9"/><circle cx="1654.18" cy="508.01" r="8" fill="#000" opacity="0.4"/><rect class="dt" x="1652.03" y="505.86" width="4.3" height="4.3" rx="0.9"/><circle cx="1671.27" cy="510.68" r="8" fill="#000" opacity="0.4"/><rect class="dt" x="1669.12" y="508.53" width="4.3" height="4.3" rx="0.9"/><circle cx="1688.36" cy="516.87" r="8" fill="#000" opacity="0.4"/><rect class="dt" x="1686.21" y="514.72" width="4.3" height="4.3" rx="0.9"/><circle cx="1705.45" cy="521.36" r="8" fill="#000" opacity="0.4"/><rect class="dt" x="1703.3" y="519.21" width="4.3" height="4.3" rx="0.9"/><circle cx="1722.54" cy="526.08" r="8" fill="#000" opacity="0.4"/><rect class="dt" x="1720.39" y="523.93" width="4.3" height="4.3" rx="0.9"/><circle cx="1739.64" cy="530.11" r="8" fill="#000" opacity="0.4"/><rect class="dt" x="1737.49" y="527.96" width="4.3" height="4.3" rx="0.9"/><circle cx="1756.73" cy="531.02" r="8" fill="#000" opacity="0.4"/><rect class="dt" x="1754.58" y="528.87" width="4.3" height="4.3" rx="0.9"/><circle cx="1773.82" cy="531.02" r="8" fill="#000" opacity="0.4"/><rect class="dt" x="1771.67" y="528.87" width="4.3" height="4.3" rx="0.9"/></g>
<g><rect x="1168" y="566.6" width="15.2" height="15.2" fill="#000" opacity="0.4"/><rect class="dt" x="1173.45" y="572.05" width="4.3" height="4.3" rx="0.9"/><rect x="1185.09" y="547.85" width="15.2" height="15.2" fill="#000" opacity="0.4"/><rect class="dt" x="1190.54" y="553.3" width="4.3" height="4.3" rx="0.9"/><rect x="1202.18" y="539.9" width="15.2" height="15.2" fill="#000" opacity="0.4"/><rect class="dt" x="1207.63" y="545.35" width="4.3" height="4.3" rx="0.9"/><rect x="1219.28" y="530.24" width="15.2" height="15.2" fill="#000" opacity="0.4"/><rect class="dt" x="1224.73" y="535.69" width="4.3" height="4.3" rx="0.9"/><rect x="1236.37" y="518.31" width="15.2" height="15.2" fill="#000" opacity="0.4"/><rect class="dt" x="1241.82" y="523.76" width="4.3" height="4.3" rx="0.9"/><rect x="1253.46" y="506.37" width="15.2" height="15.2" fill="#000" opacity="0.4"/><rect class="dt" x="1258.91" y="511.82" width="4.3" height="4.3" rx="0.9"/><rect x="1270.55" y="494.44" width="15.2" height="15.2" fill="#000" opacity="0.4"/><rect class="dt" x="1276" y="499.89" width="4.3" height="4.3" rx="0.9"/><rect x="1287.64" y="483.08" width="15.2" height="15.2" fill="#000" opacity="0.4"/><rect class="dt" x="1293.09" y="488.53" width="4.3" height="4.3" rx="0.9"/><rect x="1304.74" y="472.28" width="15.2" height="15.2" fill="#000" opacity="0.4"/><rect class="dt" x="1310.19" y="477.73" width="4.3" height="4.3" rx="0.9"/><rect x="1321.83" y="462.62" width="15.2" height="15.2" fill="#000" opacity="0.4"/><rect class="dt" x="1327.28" y="468.07" width="4.3" height="4.3" rx="0.9"/><rect x="1338.92" y="453.53" width="15.2" height="15.2" fill="#000" opacity="0.4"/><rect class="dt" x="1344.37" y="458.98" width="4.3" height="4.3" rx="0.9"/><rect x="1356.01" y="445.54" width="15.2" height="15.2" fill="#000" opacity="0.4"/><rect class="dt" x="1361.46" y="450.99" width="4.3" height="4.3" rx="0.9"/><rect x="1373.1" y="437.63" width="15.2" height="15.2" fill="#000" opacity="0.4"/><rect class="dt" x="1378.55" y="443.08" width="4.3" height="4.3" rx="0.9"/><rect x="1390.2" y="428.95" width="15.2" height="15.2" fill="#000" opacity="0.4"/><rect class="dt" x="1395.65" y="434.4" width="4.3" height="4.3" rx="0.9"/><rect x="1407.29" y="419.92" width="15.2" height="15.2" fill="#000" opacity="0.4"/><rect class="dt" x="1412.74" y="425.37" width="4.3" height="4.3" rx="0.9"/><rect x="1424.38" y="410.92" width="15.2" height="15.2" fill="#000" opacity="0.4"/><rect class="dt" x="1429.83" y="416.37" width="4.3" height="4.3" rx="0.9"/><rect x="1441.47" y="402" width="15.2" height="15.2" fill="#000" opacity="0.4"/><rect class="dt" x="1446.92" y="407.45" width="4.3" height="4.3" rx="0.9"/><rect x="1458.56" y="393.31" width="15.2" height="15.2" fill="#000" opacity="0.4"/><rect class="dt" x="1464.01" y="398.76" width="4.3" height="4.3" rx="0.9"/><rect x="1475.66" y="385.16" width="15.2" height="15.2" fill="#000" opacity="0.4"/><rect class="dt" x="1481.11" y="390.61" width="4.3" height="4.3" rx="0.9"/><rect x="1492.75" y="377.3" width="15.2" height="15.2" fill="#000" opacity="0.4"/><rect class="dt" x="1498.2" y="382.75" width="4.3" height="4.3" rx="0.9"/><rect x="1509.84" y="369.44" width="15.2" height="15.2" fill="#000" opacity="0.4"/><rect class="dt" x="1515.29" y="374.89" width="4.3" height="4.3" rx="0.9"/><rect x="1526.93" y="361.49" width="15.2" height="15.2" fill="#000" opacity="0.4"/><rect class="dt" x="1532.38" y="366.94" width="4.3" height="4.3" rx="0.9"/><rect x="1544.02" y="352.97" width="15.2" height="15.2" fill="#000" opacity="0.4"/><rect class="dt" x="1549.47" y="358.42" width="4.3" height="4.3" rx="0.9"/><rect x="1561.12" y="345.28" width="15.2" height="15.2" fill="#000" opacity="0.4"/><rect class="dt" x="1566.57" y="350.73" width="4.3" height="4.3" rx="0.9"/><rect x="1578.21" y="338.2" width="15.2" height="15.2" fill="#000" opacity="0.4"/><rect class="dt" x="1583.66" y="343.65" width="4.3" height="4.3" rx="0.9"/><rect x="1595.3" y="331.78" width="15.2" height="15.2" fill="#000" opacity="0.4"/><rect class="dt" x="1600.75" y="337.23" width="4.3" height="4.3" rx="0.9"/><rect x="1612.39" y="325.7" width="15.2" height="15.2" fill="#000" opacity="0.4"/><rect class="dt" x="1617.84" y="331.15" width="4.3" height="4.3" rx="0.9"/><rect x="1629.48" y="319.47" width="15.2" height="15.2" fill="#000" opacity="0.4"/><rect class="dt" x="1634.93" y="324.92" width="4.3" height="4.3" rx="0.9"/><rect x="1646.58" y="313.76" width="15.2" height="15.2" fill="#000" opacity="0.4"/><rect class="dt" x="1652.03" y="319.21" width="4.3" height="4.3" rx="0.9"/><rect x="1663.67" y="309.22" width="15.2" height="15.2" fill="#000" opacity="0.4"/><rect class="dt" x="1669.12" y="314.67" width="4.3" height="4.3" rx="0.9"/><rect x="1680.76" y="302.97" width="15.2" height="15.2" fill="#000" opacity="0.4"/><rect class="dt" x="1686.21" y="308.42" width="4.3" height="4.3" rx="0.9"/><rect x="1697.85" y="296.15" width="15.2" height="15.2" fill="#000" opacity="0.4"/><rect class="dt" x="1703.3" y="301.6" width="4.3" height="4.3" rx="0.9"/><rect x="1714.94" y="289.02" width="15.2" height="15.2" fill="#000" opacity="0.4"/><rect class="dt" x="1720.39" y="294.47" width="4.3" height="4.3" rx="0.9"/><rect x="1732.04" y="282.51" width="15.2" height="15.2" fill="#000" opacity="0.4"/><rect class="dt" x="1737.49" y="287.96" width="4.3" height="4.3" rx="0.9"/><rect x="1749.13" y="277.69" width="15.2" height="15.2" fill="#000" opacity="0.4"/><rect class="dt" x="1754.58" y="283.14" width="4.3" height="4.3" rx="0.9"/><rect x="1766.22" y="273.71" width="15.2" height="15.2" fill="#000" opacity="0.4"/><rect class="dt" x="1771.67" y="279.16" width="4.3" height="4.3" rx="0.9"/><rect x="1783.31" y="268.31" width="15.2" height="15.2" fill="#000" opacity="0.4"/><rect class="dt" x="1788.76" y="273.76" width="4.3" height="4.3" rx="0.9"/><rect x="1800.4" y="263.8" width="15.2" height="15.2" fill="#000" opacity="0.4"/><rect class="dt" x="1805.85" y="269.25" width="4.3" height="4.3" rx="0.9"/><rect x="1817.5" y="259.45" width="15.2" height="15.2" fill="#000" opacity="0.4"/><rect class="dt" x="1822.95" y="264.9" width="4.3" height="4.3" rx="0.9"/><rect x="1834.59" y="254.72" width="15.2" height="15.2" fill="#000" opacity="0.4"/><rect class="dt" x="1840.04" y="260.17" width="4.3" height="4.3" rx="0.9"/><rect x="1851.68" y="249.9" width="15.2" height="15.2" fill="#000" opacity="0.4"/><rect class="dt" x="1857.13" y="255.35" width="4.3" height="4.3" rx="0.9"/><rect x="1868.77" y="245.06" width="15.2" height="15.2" fill="#000" opacity="0.4"/><rect class="dt" x="1874.22" y="250.51" width="4.3" height="4.3" rx="0.9"/><rect x="1885.86" y="240.36" width="15.2" height="15.2" fill="#000" opacity="0.4"/><rect class="dt" x="1891.31" y="245.81" width="4.3" height="4.3" rx="0.9"/><rect x="1902.96" y="235.94" width="15.2" height="15.2" fill="#000" opacity="0.4"/><rect class="dt" x="1908.41" y="241.39" width="4.3" height="4.3" rx="0.9"/><rect x="1920.05" y="231.89" width="15.2" height="15.2" fill="#000" opacity="0.4"/><rect class="dt" x="1925.5" y="237.34" width="4.3" height="4.3" rx="0.9"/><rect x="1937.14" y="228.43" width="15.2" height="15.2" fill="#000" opacity="0.4"/><rect class="dt" x="1942.59" y="233.88" width="4.3" height="4.3" rx="0.9"/><rect x="1954.23" y="224.45" width="15.2" height="15.2" fill="#000" opacity="0.4"/><rect class="dt" x="1959.68" y="229.9" width="4.3" height="4.3" rx="0.9"/><rect x="1971.32" y="221.27" width="15.2" height="15.2" fill="#000" opacity="0.4"/><rect class="dt" x="1976.77" y="226.72" width="4.3" height="4.3" rx="0.9"/><rect x="1988.42" y="218.31" width="15.2" height="15.2" fill="#000" opacity="0.4"/><rect class="dt" x="1993.87" y="223.76" width="4.3" height="4.3" rx="0.9"/><rect x="2005.51" y="215.7" width="15.2" height="15.2" fill="#000" opacity="0.4"/><rect class="dt" x="2010.96" y="221.15" width="4.3" height="4.3" rx="0.9"/><rect x="2022.6" y="214.33" width="15.2" height="15.2" fill="#000" opacity="0.4"/><rect class="dt" x="2028.05" y="219.78" width="4.3" height="4.3" rx="0.9"/></g>
<g><path d="M1167.9 574.2l7.7 -7.7l7.7 7.7l-7.7 7.7z" fill="#000" opacity="0.4"/><rect class="dt" x="1173.45" y="572.05" width="4.3" height="4.3" rx="0.9"/><path d="M1184.99 548.06l7.7 -7.7l7.7 7.7l-7.7 7.7z" fill="#000" opacity="0.4"/><rect class="dt" x="1190.54" y="545.91" width="4.3" height="4.3" rx="0.9"/><path d="M1202.08 541.81l7.7 -7.7l7.7 7.7l-7.7 7.7z" fill="#000" opacity="0.4"/><rect class="dt" x="1207.63" y="539.66" width="4.3" height="4.3" rx="0.9"/><path d="M1219.18 519.66l7.7 -7.7l7.7 7.7l-7.7 7.7z" fill="#000" opacity="0.4"/><rect class="dt" x="1224.73" y="517.51" width="4.3" height="4.3" rx="0.9"/><path d="M1236.27 510.56l7.7 -7.7l7.7 7.7l-7.7 7.7z" fill="#000" opacity="0.4"/><rect class="dt" x="1241.82" y="508.41" width="4.3" height="4.3" rx="0.9"/><path d="M1253.36 483.86l7.7 -7.7l7.7 7.7l-7.7 7.7z" fill="#000" opacity="0.4"/><rect class="dt" x="1258.91" y="481.71" width="4.3" height="4.3" rx="0.9"/><path d="M1270.45 469.66l7.7 -7.7l7.7 7.7l-7.7 7.7z" fill="#000" opacity="0.4"/><rect class="dt" x="1276" y="467.51" width="4.3" height="4.3" rx="0.9"/><path d="M1287.54 444.66l7.7 -7.7l7.7 7.7l-7.7 7.7z" fill="#000" opacity="0.4"/><rect class="dt" x="1293.09" y="442.51" width="4.3" height="4.3" rx="0.9"/><path d="M1304.64 428.75l7.7 -7.7l7.7 7.7l-7.7 7.7z" fill="#000" opacity="0.4"/><rect class="dt" x="1310.19" y="426.6" width="4.3" height="4.3" rx="0.9"/><path d="M1321.73 404.89l7.7 -7.7l7.7 7.7l-7.7 7.7z" fill="#000" opacity="0.4"/><rect class="dt" x="1327.28" y="402.74" width="4.3" height="4.3" rx="0.9"/><path d="M1338.82 387.84l7.7 -7.7l7.7 7.7l-7.7 7.7z" fill="#000" opacity="0.4"/><rect class="dt" x="1344.37" y="385.69" width="4.3" height="4.3" rx="0.9"/><path d="M1355.91 363.98l7.7 -7.7l7.7 7.7l-7.7 7.7z" fill="#000" opacity="0.4"/><rect class="dt" x="1361.46" y="361.83" width="4.3" height="4.3" rx="0.9"/><path d="M1373 346.93l7.7 -7.7l7.7 7.7l-7.7 7.7z" fill="#000" opacity="0.4"/><rect class="dt" x="1378.55" y="344.78" width="4.3" height="4.3" rx="0.9"/><path d="M1390.1 324.21l7.7 -7.7l7.7 7.7l-7.7 7.7z" fill="#000" opacity="0.4"/><rect class="dt" x="1395.65" y="322.06" width="4.3" height="4.3" rx="0.9"/><path d="M1407.19 305.46l7.7 -7.7l7.7 7.7l-7.7 7.7z" fill="#000" opacity="0.4"/><rect class="dt" x="1412.74" y="303.31" width="4.3" height="4.3" rx="0.9"/><path d="M1424.28 283.3l7.7 -7.7l7.7 7.7l-7.7 7.7z" fill="#000" opacity="0.4"/><rect class="dt" x="1429.83" y="281.15" width="4.3" height="4.3" rx="0.9"/><path d="M1441.37 264.55l7.7 -7.7l7.7 7.7l-7.7 7.7z" fill="#000" opacity="0.4"/><rect class="dt" x="1446.92" y="262.4" width="4.3" height="4.3" rx="0.9"/><path d="M1458.46 241.82l7.7 -7.7l7.7 7.7l-7.7 7.7z" fill="#000" opacity="0.4"/><rect class="dt" x="1464.01" y="239.67" width="4.3" height="4.3" rx="0.9"/><path d="M1475.56 223.64l7.7 -7.7l7.7 7.7l-7.7 7.7z" fill="#000" opacity="0.4"/><rect class="dt" x="1481.11" y="221.49" width="4.3" height="4.3" rx="0.9"/><path d="M1492.65 201.48l7.7 -7.7l7.7 7.7l-7.7 7.7z" fill="#000" opacity="0.4"/><rect class="dt" x="1498.2" y="199.33" width="4.3" height="4.3" rx="0.9"/><path d="M1509.74 182.16l7.7 -7.7l7.7 7.7l-7.7 7.7z" fill="#000" opacity="0.4"/><rect class="dt" x="1515.29" y="180.01" width="4.3" height="4.3" rx="0.9"/><path d="M1526.83 160.57l7.7 -7.7l7.7 7.7l-7.7 7.7z" fill="#000" opacity="0.4"/><rect class="dt" x="1532.38" y="158.42" width="4.3" height="4.3" rx="0.9"/><path d="M1543.92 141.25l7.7 -7.7l7.7 7.7l-7.7 7.7z" fill="#000" opacity="0.4"/><rect class="dt" x="1549.47" y="139.1" width="4.3" height="4.3" rx="0.9"/><path d="M1561.02 119.66l7.7 -7.7l7.7 7.7l-7.7 7.7z" fill="#000" opacity="0.4"/><rect class="dt" x="1566.57" y="117.51" width="4.3" height="4.3" rx="0.9"/><path d="M1578.11 100.35l7.7 -7.7l7.7 7.7l-7.7 7.7z" fill="#000" opacity="0.4"/><rect class="dt" x="1583.66" y="98.2" width="4.3" height="4.3" rx="0.9"/><path d="M1595.2 78.76l7.7 -7.7l7.7 7.7l-7.7 7.7z" fill="#000" opacity="0.4"/><rect class="dt" x="1600.75" y="76.61" width="4.3" height="4.3" rx="0.9"/><path d="M1612.29 61.71l7.7 -7.7l7.7 7.7l-7.7 7.7z" fill="#000" opacity="0.4"/><rect class="dt" x="1617.84" y="59.56" width="4.3" height="4.3" rx="0.9"/></g>
<path class="tk" d="M1175.6 593.9v-10.5M1175.6 44.3v10.5M1346.52 593.9v-10.5M1346.52 44.3v10.5M1517.44 593.9v-10.5M1517.44 44.3v10.5M1688.36 593.9v-10.5M1688.36 44.3v10.5M1859.28 593.9v-10.5M1859.28 44.3v10.5M2030.2 593.9v-10.5M2030.2 44.3v10.5M1209.78 593.9v-6.2M1209.78 44.3v6.2M1243.97 593.9v-6.2M1243.97 44.3v6.2M1278.15 593.9v-6.2M1278.15 44.3v6.2M1312.34 593.9v-6.2M1312.34 44.3v6.2M1380.7 593.9v-6.2M1380.7 44.3v6.2M1414.89 593.9v-6.2M1414.89 44.3v6.2M1449.07 593.9v-6.2M1449.07 44.3v6.2M1483.26 593.9v-6.2M1483.26 44.3v6.2M1551.62 593.9v-6.2M1551.62 44.3v6.2M1585.81 593.9v-6.2M1585.81 44.3v6.2M1619.99 593.9v-6.2M1619.99 44.3v6.2M1654.18 593.9v-6.2M1654.18 44.3v6.2M1722.54 593.9v-6.2M1722.54 44.3v6.2M1756.73 593.9v-6.2M1756.73 44.3v6.2M1790.91 593.9v-6.2M1790.91 44.3v6.2M1825.1 593.9v-6.2M1825.1 44.3v6.2M1893.46 593.9v-6.2M1893.46 44.3v6.2M1927.65 593.9v-6.2M1927.65 44.3v6.2M1961.83 593.9v-6.2M1961.83 44.3v6.2M1996.02 593.9v-6.2M1996.02 44.3v6.2M1158 482.72h10.5M2048.6 482.72h-10.5M1158 369.09h10.5M2048.6 369.09h-10.5M1158 255.46h10.5M2048.6 255.46h-10.5M1158 141.82h10.5M2048.6 141.82h-10.5M1158 567.95h6.2M2048.6 567.95h-6.2M1158 539.54h6.2M2048.6 539.54h-6.2M1158 511.13h6.2M2048.6 511.13h-6.2M1158 454.32h6.2M2048.6 454.32h-6.2M1158 425.91h6.2M2048.6 425.91h-6.2M1158 397.5h6.2M2048.6 397.5h-6.2M1158 340.68h6.2M2048.6 340.68h-6.2M1158 312.27h6.2M2048.6 312.27h-6.2M1158 283.87h6.2M2048.6 283.87h-6.2M1158 227.05h6.2M2048.6 227.05h-6.2M1158 198.64h6.2M2048.6 198.64h-6.2M1158 170.23h6.2M2048.6 170.23h-6.2M1158 113.41h6.2M2048.6 113.41h-6.2M1158 85.01h6.2M2048.6 85.01h-6.2M1158 56.6h6.2M2048.6 56.6h-6.2"/>
<rect class="fr" x="1158" y="44.3" width="890.6" height="549.6"/>
<text class="tl" transform="translate(1174.3 628.2) scale(1 1.05)" text-anchor="middle">0</text>
<text class="tl" transform="translate(1345.22 628.2) scale(1 1.05)" text-anchor="middle">10</text>
<text class="tl" transform="translate(1516.14 628.2) scale(1 1.05)" text-anchor="middle">20</text>
<text class="tl" transform="translate(1687.06 628.2) scale(1 1.05)" text-anchor="middle">30</text>
<text class="tl" transform="translate(1857.98 628.2) scale(1 1.05)" text-anchor="middle">40</text>
<text class="tl" transform="translate(2028.9 628.2) scale(1 1.05)" text-anchor="middle">50</text>
<text class="tl" transform="translate(1144.8 492.62) scale(1 1.05)" text-anchor="end">20</text>
<text class="tl" transform="translate(1144.8 378.99) scale(1 1.05)" text-anchor="end">40</text>
<text class="tl" transform="translate(1144.8 265.36) scale(1 1.05)" text-anchor="end">60</text>
<text class="tl" transform="translate(1144.8 151.72) scale(1 1.05)" text-anchor="end">80</text>
<text class="bt" transform="translate(1603 29.6) scale(1 1.06)" text-anchor="middle">Scaling of internal distances</text>
<text class="bt" transform="translate(1603.5 670.8) scale(1 1.06)" text-anchor="middle"><tspan class="nb">|</tspan>j<tspan class="nb" dx="1.5" dy="2.6">−</tspan><tspan dx="1.5" dy="-2.6">i</tspan><tspan class="nb" dx="0.5">|</tspan></text>
<text class="bt" style="font-size:31.5px" transform="translate(1078.8 319.5) rotate(-90)" text-anchor="middle"><tspan class="nb br">⟨</tspan>Rij<tspan class="nb br">⟩</tspan> <tspan class="nb br">/</tspan> <tspan font-size="31">Angstrom</tspan></text>
<path d="M1176.4 70.9l7.7 -7.7l7.7 7.7l-7.7 7.7z" fill="#000" opacity="0.4"/>
<rect x="1175.8" y="104.7" width="16.4" height="16.4" fill="#000" opacity="0.4"/>
<circle cx="1184.2" cy="153.9" r="8.4" fill="#000" opacity="0.4"/>
<text class="lg" transform="translate(1200.3 81.2) scale(1 1.04)">Rod reference chain</text>
<text class="lg" transform="translate(1200.3 122.3) scale(1 1.04)">Self<tspan fill="#777" stroke="none" dx="0.8" dy="2.2">−</tspan><tspan dx="0.8" dy="-2.2">avoiding reference</tspan></text>
<text class="lg" transform="translate(1200.3 164.8) scale(1 1.04)">Globule reference</text>
</g>
</svg></body></html>
